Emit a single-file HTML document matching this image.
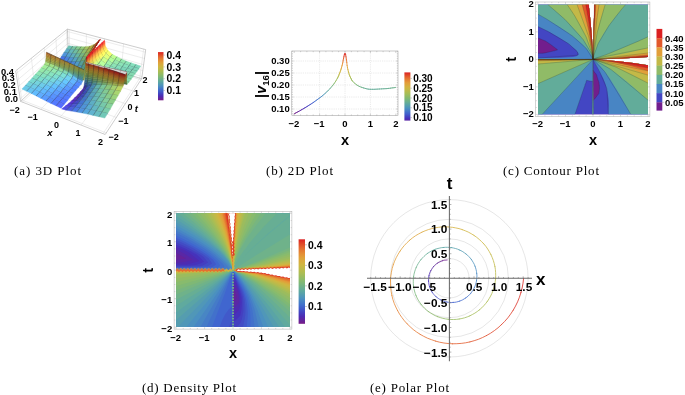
<!DOCTYPE html>
<html><head><meta charset="utf-8"><title>Plots</title>
<style>html,body{margin:0;padding:0;background:#fff}svg{display:block}text{font-family:"Liberation Sans", "DejaVu Sans", sans-serif;fill:#000}</style></head>
<body><svg width="685" height="395" viewBox="0 0 685 395">
<rect width="685" height="395" fill="#fff"/>
<path d="M70.0 57.2L69.1 29.5" stroke="#d2d2d2" stroke-width="0.4" fill="none"/>
<path d="M21.9 100.1L17.2 69.7" stroke="#d2d2d2" stroke-width="0.4" fill="none"/>
<path d="M22.3 102.1L70.0 57.2" stroke="#d2d2d2" stroke-width="0.4" fill="none"/>
<path d="M21.9 100.1L106.3 132.9" stroke="#d2d2d2" stroke-width="0.4" fill="none"/>
<path d="M86.2 62.1L86.4 34.1" stroke="#d2d2d2" stroke-width="0.4" fill="none"/>
<path d="M34.9 87.9L31.4 58.2" stroke="#d2d2d2" stroke-width="0.4" fill="none"/>
<path d="M40.8 109.3L86.2 62.1" stroke="#d2d2d2" stroke-width="0.4" fill="none"/>
<path d="M34.9 87.9L116.4 117.5" stroke="#d2d2d2" stroke-width="0.4" fill="none"/>
<path d="M103.2 67.2L104.5 38.8" stroke="#d2d2d2" stroke-width="0.4" fill="none"/>
<path d="M46.8 76.9L44.2 47.9" stroke="#d2d2d2" stroke-width="0.4" fill="none"/>
<path d="M60.3 116.9L103.2 67.2" stroke="#d2d2d2" stroke-width="0.4" fill="none"/>
<path d="M46.8 76.9L125.4 103.7" stroke="#d2d2d2" stroke-width="0.4" fill="none"/>
<path d="M121.1 72.5L123.6 43.8" stroke="#d2d2d2" stroke-width="0.4" fill="none"/>
<path d="M57.6 66.8L55.9 38.5" stroke="#d2d2d2" stroke-width="0.4" fill="none"/>
<path d="M81.0 125.1L121.1 72.5" stroke="#d2d2d2" stroke-width="0.4" fill="none"/>
<path d="M57.6 66.8L133.6 91.2" stroke="#d2d2d2" stroke-width="0.4" fill="none"/>
<path d="M139.8 78.2L143.6 49.1" stroke="#d2d2d2" stroke-width="0.4" fill="none"/>
<path d="M67.5 57.6L66.4 29.9" stroke="#d2d2d2" stroke-width="0.4" fill="none"/>
<path d="M103.0 133.7L139.8 78.2" stroke="#d2d2d2" stroke-width="0.4" fill="none"/>
<path d="M67.5 57.6L141.0 79.8" stroke="#d2d2d2" stroke-width="0.4" fill="none"/>
<path d="M68.3 54.5L142.0 76.5" stroke="#d2d2d2" stroke-width="0.4" fill="none"/>
<path d="M20.2 99.0L68.3 54.5" stroke="#d2d2d2" stroke-width="0.4" fill="none"/>
<path d="M68.1 49.0L142.8 70.6" stroke="#d2d2d2" stroke-width="0.4" fill="none"/>
<path d="M19.2 92.9L68.1 49.0" stroke="#d2d2d2" stroke-width="0.4" fill="none"/>
<path d="M67.9 43.3L143.6 64.7" stroke="#d2d2d2" stroke-width="0.4" fill="none"/>
<path d="M18.2 86.7L67.9 43.3" stroke="#d2d2d2" stroke-width="0.4" fill="none"/>
<path d="M67.7 37.5L144.5 58.5" stroke="#d2d2d2" stroke-width="0.4" fill="none"/>
<path d="M17.2 80.3L67.7 37.5" stroke="#d2d2d2" stroke-width="0.4" fill="none"/>
<path d="M67.5 31.5L145.4 52.2" stroke="#d2d2d2" stroke-width="0.4" fill="none"/>
<path d="M16.2 73.6L67.5 31.5" stroke="#d2d2d2" stroke-width="0.4" fill="none"/>
<path d="M68.4 56.7L141.7 78.7" stroke="#9a9a9a" stroke-width="0.5" fill="none"/>
<path d="M68.4 56.7L20.6 101.4" stroke="#9a9a9a" stroke-width="0.5" fill="none"/>
<path d="M68.4 56.7L67.4 29.1" stroke="#9a9a9a" stroke-width="0.5" fill="none"/>
<g stroke-linejoin="round">
<polygon points="66.2,49.2 70.3,49.6 72.7,46.2 68.6,45.8" fill="#6cc1b4" stroke="#6cc1b4" stroke-width="0.4"/>
<path d="M66.2 49.2L70.3 49.6" stroke="#161c26" stroke-opacity="0.8" stroke-width="0.45" fill="none"/>
<polygon points="70.3,49.6 74.5,49.8 76.9,46.5 72.7,46.2" fill="#76c4a1" stroke="#76c4a1" stroke-width="0.4"/>
<path d="M70.3 49.6L72.7 46.2M70.3 49.6L74.5 49.8" stroke="#161c26" stroke-opacity="0.8" stroke-width="0.45" fill="none"/>
<polygon points="63.8,52.8 67.9,53.2 70.3,49.6 66.2,49.2" fill="#5dadc8" stroke="#5dadc8" stroke-width="0.4"/>
<path d="M63.8 52.8L67.9 53.2" stroke="#161c26" stroke-opacity="0.8" stroke-width="0.45" fill="none"/>
<polygon points="61.3,56.7 65.5,57.1 67.9,53.2 63.8,52.8" fill="#5095dc" stroke="#5095dc" stroke-width="0.4"/>
<path d="M61.3 56.7L65.5 57.1" stroke="#161c26" stroke-opacity="0.8" stroke-width="0.45" fill="none"/>
<polygon points="74.5,49.8 78.7,50 81.1,46.7 76.9,46.5" fill="#84c88c" stroke="#84c88c" stroke-width="0.4"/>
<path d="M74.5 49.8L76.9 46.5M74.5 49.8L78.7 50.0" stroke="#161c26" stroke-opacity="0.8" stroke-width="0.45" fill="none"/>
<polygon points="67.9,53.2 72.1,53.5 74.5,49.8 70.3,49.6" fill="#66b8b9" stroke="#66b8b9" stroke-width="0.4"/>
<path d="M67.9 53.2L70.3 49.6M67.9 53.2L72.1 53.5" stroke="#161c26" stroke-opacity="0.8" stroke-width="0.45" fill="none"/>
<polygon points="58.8,60.7 63,61.3 65.5,57.1 61.3,56.7" fill="#4873e9" stroke="#4873e9" stroke-width="0.4"/>
<path d="M58.8 60.7L63.0 61.3" stroke="#161c26" stroke-opacity="0.8" stroke-width="0.45" fill="none"/>
<polygon points="65.5,57.1 69.6,57.5 72.1,53.5 67.9,53.2" fill="#55a3d0" stroke="#55a3d0" stroke-width="0.4"/>
<path d="M65.5 57.1L67.9 53.2M65.5 57.1L69.6 57.5" stroke="#161c26" stroke-opacity="0.8" stroke-width="0.45" fill="none"/>
<polygon points="72.1,53.5 76.3,53.7 78.7,50 74.5,49.8" fill="#6fbea2" stroke="#6fbea2" stroke-width="0.4"/>
<path d="M72.1 53.5L74.5 49.8M72.1 53.5L76.3 53.7" stroke="#161c26" stroke-opacity="0.8" stroke-width="0.45" fill="none"/>
<polygon points="78.7,50 83,50 85.4,46.8 81.1,46.7" fill="#93cb76" stroke="#93cb76" stroke-width="0.4"/>
<path d="M78.7 50.0L81.1 46.7M78.7 50.0L83.0 50.0" stroke="#161c26" stroke-opacity="0.8" stroke-width="0.45" fill="none"/>
<polygon points="56.3,64.9 60.5,65.5 63,61.3 58.8,60.7" fill="#4d45d8" stroke="#4d45d8" stroke-width="0.4"/>
<path d="M56.3 64.9L60.5 65.5" stroke="#161c26" stroke-opacity="0.8" stroke-width="0.45" fill="none"/>
<polygon points="63,61.3 67.2,61.7 69.6,57.5 65.5,57.1" fill="#4b82de" stroke="#4b82de" stroke-width="0.4"/>
<path d="M63.0 61.3L65.5 57.1M63.0 61.3L67.2 61.7" stroke="#161c26" stroke-opacity="0.8" stroke-width="0.45" fill="none"/>
<polygon points="69.6,57.5 73.9,57.7 76.3,53.7 72.1,53.5" fill="#5eadbc" stroke="#5eadbc" stroke-width="0.4"/>
<path d="M69.6 57.5L72.1 53.5M69.6 57.5L73.9 57.7" stroke="#161c26" stroke-opacity="0.8" stroke-width="0.45" fill="none"/>
<polygon points="76.3,53.7 80.7,53.6 83,50 78.7,50" fill="#7ec088" stroke="#7ec088" stroke-width="0.4"/>
<path d="M76.3 53.7L78.7 50.0M76.3 53.7L80.7 53.6" stroke="#161c26" stroke-opacity="0.8" stroke-width="0.45" fill="none"/>
<polygon points="83,50 87.4,49.8 89.8,46.2 85.4,46.7" fill="#a7c560" stroke="#a7c560" stroke-width="0.4"/>
<path d="M83.0 50.0L85.4 46.7M83.0 50.0L87.4 49.8" stroke="#161c26" stroke-opacity="0.8" stroke-width="0.45" fill="none"/>
<polygon points="53.7,68.4 57.9,69.3 60.5,65.5 56.3,64.9" fill="#672fc6" stroke="#672fc6" stroke-width="0.4"/>
<path d="M53.7 68.4L57.9 69.3" stroke="#161c26" stroke-opacity="0.8" stroke-width="0.45" fill="none"/>
<polygon points="60.5,65.5 64.7,66 67.2,61.7 63,61.3" fill="#4959db" stroke="#4959db" stroke-width="0.4"/>
<path d="M60.5 65.5L63.0 61.3M60.5 65.5L64.7 66.0" stroke="#161c26" stroke-opacity="0.8" stroke-width="0.45" fill="none"/>
<polygon points="67.2,61.7 71.4,61.9 73.9,57.7 69.6,57.5" fill="#4f94d3" stroke="#4f94d3" stroke-width="0.4"/>
<path d="M67.2 61.7L69.6 57.5M67.2 61.7L71.4 61.9" stroke="#161c26" stroke-opacity="0.8" stroke-width="0.45" fill="none"/>
<polygon points="73.9,57.7 78.2,57.6 80.7,53.6 76.3,53.7" fill="#67b5a2" stroke="#67b5a2" stroke-width="0.4"/>
<path d="M73.9 57.7L76.3 53.7M73.9 57.7L78.2 57.6" stroke="#161c26" stroke-opacity="0.8" stroke-width="0.45" fill="none"/>
<polygon points="80.7,53.6 85.1,53.3 87.4,49.8 83,50" fill="#90c16e" stroke="#90c16e" stroke-width="0.4"/>
<path d="M80.7 53.6L83.0 50.0M80.7 53.6L85.1 53.3" stroke="#161c26" stroke-opacity="0.8" stroke-width="0.45" fill="none"/>
<polygon points="87.4,49.8 91.9,48.5 94.2,44.6 89.8,46.2" fill="#b2ab43" stroke="#b2ab43" stroke-width="0.4"/>
<path d="M87.4 49.8L89.8 46.2M87.4 49.8L91.9 48.5" stroke="#161c26" stroke-opacity="0.8" stroke-width="0.45" fill="none"/>
<polygon points="57.9,69.3 62.1,70 64.7,66 60.5,65.5" fill="#5334d2" stroke="#5334d2" stroke-width="0.4"/>
<path d="M57.9 69.3L60.5 65.5M57.9 69.3L62.1 70.0" stroke="#161c26" stroke-opacity="0.8" stroke-width="0.45" fill="none"/>
<polygon points="64.7,66 68.9,66.3 71.4,61.9 67.2,61.7" fill="#456fe0" stroke="#456fe0" stroke-width="0.4"/>
<path d="M64.7 66.0L67.2 61.7M64.7 66.0L68.9 66.3" stroke="#161c26" stroke-opacity="0.8" stroke-width="0.45" fill="none"/>
<polygon points="71.4,61.9 75.8,62 78.2,57.6 73.9,57.7" fill="#56a3c1" stroke="#56a3c1" stroke-width="0.4"/>
<path d="M71.4 61.9L73.9 57.7M71.4 61.9L75.8 62.0" stroke="#161c26" stroke-opacity="0.8" stroke-width="0.45" fill="none"/>
<polygon points="50.9,70 55.1,71.2 57.9,69.3 53.7,68.4" fill="#6d2ec5" stroke="#6d2ec5" stroke-width="0.4"/>
<path d="M50.9 70.0L55.1 71.2" stroke="#161c26" stroke-opacity="0.8" stroke-width="0.45" fill="none"/>
<polygon points="78.2,57.6 82.6,57.2 85.1,53.3 80.7,53.6" fill="#77b680" stroke="#77b680" stroke-width="0.4"/>
<path d="M78.2 57.6L80.7 53.6M78.2 57.6L82.6 57.2" stroke="#161c26" stroke-opacity="0.8" stroke-width="0.45" fill="none"/>
<polygon points="85.1,53.3 89.6,52.2 91.9,48.5 87.4,49.8" fill="#a2b24d" stroke="#a2b24d" stroke-width="0.4"/>
<path d="M85.1 53.3L87.4 49.8M85.1 53.3L89.6 52.2" stroke="#161c26" stroke-opacity="0.8" stroke-width="0.45" fill="none"/>
<polygon points="62.1,70 66.4,70.6 68.9,66.3 64.7,66" fill="#4d47d9" stroke="#4d47d9" stroke-width="0.4"/>
<path d="M62.1 70.0L64.7 66.0M62.1 70.0L66.4 70.6" stroke="#161c26" stroke-opacity="0.8" stroke-width="0.45" fill="none"/>
<polygon points="68.9,66.3 73.3,66.5 75.8,62 71.4,61.9" fill="#4a84d5" stroke="#4a84d5" stroke-width="0.4"/>
<path d="M68.9 66.3L71.4 61.9M68.9 66.3L73.3 66.5" stroke="#161c26" stroke-opacity="0.8" stroke-width="0.45" fill="none"/>
<polygon points="55.1,71.2 59.4,72.3 62.1,70 57.9,69.3" fill="#6332d0" stroke="#6332d0" stroke-width="0.4"/>
<path d="M55.1 71.2L57.9 69.3M55.1 71.2L59.4 72.3" stroke="#161c26" stroke-opacity="0.8" stroke-width="0.45" fill="none"/>
<polygon points="75.8,62 80.2,61.7 82.6,57.2 78.2,57.6" fill="#5fa99e" stroke="#5fa99e" stroke-width="0.4"/>
<path d="M75.8 62.0L78.2 57.6M75.8 62.0L80.2 61.7" stroke="#161c26" stroke-opacity="0.8" stroke-width="0.45" fill="none"/>
<polygon points="91.9,48.5 96.6,44.3 98.9,40.6 94.2,44.6" fill="#aa6e29" stroke="#aa6e29" stroke-width="0.4"/>
<path d="M91.9 48.5L94.2 44.6M91.9 48.5L96.6 44.3" stroke="#161c26" stroke-opacity="0.8" stroke-width="0.45" fill="none"/>
<polygon points="82.6,57.2 87.1,56.3 89.6,52.2 85.1,53.3" fill="#8eb35f" stroke="#8eb35f" stroke-width="0.4"/>
<path d="M82.6 57.2L85.1 53.3M82.6 57.2L87.1 56.3" stroke="#161c26" stroke-opacity="0.8" stroke-width="0.45" fill="none"/>
<polygon points="66.4,70.6 70.8,70.9 73.3,66.5 68.9,66.3" fill="#475edb" stroke="#475edb" stroke-width="0.4"/>
<path d="M66.4 70.6L68.9 66.3M66.4 70.6L70.8 70.9" stroke="#161c26" stroke-opacity="0.8" stroke-width="0.45" fill="none"/>
<polygon points="59.4,72.3 63.8,73.3 66.4,70.6 62.1,70" fill="#5537de" stroke="#5537de" stroke-width="0.4"/>
<path d="M59.4 72.3L62.1 70.0M59.4 72.3L63.8 73.3" stroke="#161c26" stroke-opacity="0.8" stroke-width="0.45" fill="none"/>
<polygon points="73.3,66.5 77.7,66.5 80.2,61.7 75.8,62" fill="#4f99c5" stroke="#4f99c5" stroke-width="0.4"/>
<path d="M73.3 66.5L75.8 62.0M73.3 66.5L77.7 66.5" stroke="#161c26" stroke-opacity="0.8" stroke-width="0.45" fill="none"/>
<polygon points="105.6,53.2 110.1,57.2 112.3,54.3 107.8,50.1" fill="#f2ff72" stroke="#f2ff72" stroke-width="0.4"/>
<path d="M105.6 53.2L107.8 50.1M105.6 53.2L110.1 57.2" stroke="#161c26" stroke-opacity="0.8" stroke-width="0.45" fill="none"/>
<polygon points="47.7,68.2 52,69.6 55.1,71.2 50.9,70" fill="#252d6f" stroke="#252d6f" stroke-width="0.4"/>
<path d="M47.7 68.2L52.0 69.6" stroke="#161c26" stroke-opacity="0.8" stroke-width="0.45" fill="none"/>
<polygon points="104.4,51.7 105.6,53.2 107.8,50.1 106.8,48.7" fill="#fffe5e" stroke="#fffe5e" stroke-width="0.4"/>
<path d="M104.4 51.7L105.6 53.2" stroke="#161c26" stroke-opacity="0.8" stroke-width="0.45" fill="none"/>
<polygon points="89.6,52.2 94.2,48.5 96.6,44.3 91.9,48.5" fill="#a9822f" stroke="#a9822f" stroke-width="0.4"/>
<path d="M89.6 52.2L91.9 48.5M89.6 52.2L94.2 48.5" stroke="#161c26" stroke-opacity="0.8" stroke-width="0.45" fill="none"/>
<polygon points="103.7,50.3 104.4,51.7 106.8,48.7 106.1,47.4" fill="#ffe853" stroke="#ffe853" stroke-width="0.4"/>
<path d="M103.7 50.3L104.4 51.7" stroke="#161c26" stroke-opacity="0.8" stroke-width="0.45" fill="none"/>
<polygon points="110.1,57.2 114.8,59.8 116.9,56.7 112.3,54.3" fill="#bffe8f" stroke="#bffe8f" stroke-width="0.4"/>
<path d="M110.1 57.2L112.3 54.3M110.1 57.2L114.8 59.8" stroke="#161c26" stroke-opacity="0.8" stroke-width="0.45" fill="none"/>
<path d="M96.6 44.3L98.9 40.6" stroke="#161c26" stroke-opacity="0.8" stroke-width="0.45" fill="none"/>
<polygon points="80.2,61.7 84.7,60.6 87.1,56.3 82.6,57.2" fill="#6fa771" stroke="#6fa771" stroke-width="0.4"/>
<path d="M80.2 61.7L82.6 57.2M80.2 61.7L84.7 60.6" stroke="#161c26" stroke-opacity="0.8" stroke-width="0.45" fill="none"/>
<polygon points="103.1,48.9 103.7,50.3 106.1,47.4 105.4,46.1" fill="#ffd84e" stroke="#ffd84e" stroke-width="0.4"/>
<path d="M103.1 48.9L103.7 50.3" stroke="#161c26" stroke-opacity="0.8" stroke-width="0.45" fill="none"/>
<polygon points="97.3,43.4 96.6,44.3 98.9,40.6 99.3,40.1" fill="#9d361d" stroke="#9d361d" stroke-width="0.4"/>
<path d="M97.3 43.4L96.6 44.3" stroke="#161c26" stroke-opacity="0.8" stroke-width="0.45" fill="none"/>
<polygon points="102.6,47.6 103.1,48.9 105.4,46.1 105.1,44.9" fill="#ffbb46" stroke="#ffbb46" stroke-width="0.4"/>
<path d="M102.6 47.6L103.1 48.9" stroke="#161c26" stroke-opacity="0.8" stroke-width="0.45" fill="none"/>
<polygon points="63.8,73.3 68.2,74.2 70.8,70.9 66.4,70.6" fill="#5149e2" stroke="#5149e2" stroke-width="0.4"/>
<path d="M63.8 73.3L66.4 70.6M63.8 73.3L68.2 74.2" stroke="#161c26" stroke-opacity="0.8" stroke-width="0.45" fill="none"/>
<polygon points="70.8,70.9 75.2,71 77.7,66.5 73.3,66.5" fill="#4575d3" stroke="#4575d3" stroke-width="0.4"/>
<path d="M70.8 70.9L73.3 66.5M70.8 70.9L75.2 71.0" stroke="#161c26" stroke-opacity="0.8" stroke-width="0.45" fill="none"/>
<polygon points="114.8,59.8 119.4,62.2 121.5,59 116.9,56.7" fill="#a7f6a2" stroke="#a7f6a2" stroke-width="0.4"/>
<path d="M114.8 59.8L116.9 56.7M114.8 59.8L119.4 62.2" stroke="#161c26" stroke-opacity="0.8" stroke-width="0.45" fill="none"/>
<polygon points="97.9,42.5 97.3,43.4 99.3,40.1 99.7,39.6" fill="#97251a" stroke="#97251a" stroke-width="0.4"/>
<path d="M97.9 42.5L97.3 43.4" stroke="#161c26" stroke-opacity="0.8" stroke-width="0.45" fill="none"/>
<polygon points="52,69.6 56.4,71 59.4,72.3 55.1,71.2" fill="#242f6f" stroke="#242f6f" stroke-width="0.4"/>
<path d="M52.0 69.6L55.1 71.2M52.0 69.6L56.4 71.0" stroke="#161c26" stroke-opacity="0.8" stroke-width="0.45" fill="none"/>
<polygon points="102.5,46.3 102.6,47.6 105.1,44.9 105,43.8" fill="#ff8d39" stroke="#ff8d39" stroke-width="0.4"/>
<path d="M102.5 46.3L102.6 47.6" stroke="#161c26" stroke-opacity="0.8" stroke-width="0.45" fill="none"/>
<polygon points="99,41.7 97.9,42.5 99.7,39.6 100.7,39.3" fill="#af1b1b" stroke="#af1b1b" stroke-width="0.4"/>
<path d="M99.0 41.7L97.9 42.5" stroke="#161c26" stroke-opacity="0.8" stroke-width="0.45" fill="none"/>
<polygon points="87.1,56.3 91.8,53 94.2,48.5 89.6,52.2" fill="#a09035" stroke="#a09035" stroke-width="0.4"/>
<path d="M87.1 56.3L89.6 52.2M87.1 56.3L91.8 53.0" stroke="#161c26" stroke-opacity="0.8" stroke-width="0.45" fill="none"/>
<polygon points="77.7,66.5 82.2,65.7 84.7,60.6 80.2,61.7" fill="#589e97" stroke="#589e97" stroke-width="0.4"/>
<path d="M77.7 66.5L80.2 61.7M77.7 66.5L82.2 65.7" stroke="#161c26" stroke-opacity="0.8" stroke-width="0.45" fill="none"/>
<polygon points="102.4,45.1 102.5,46.3 105,43.8 104.8,42.6" fill="#ff7134" stroke="#ff7134" stroke-width="0.4"/>
<path d="M102.4 45.1L102.5 46.3" stroke="#161c26" stroke-opacity="0.8" stroke-width="0.45" fill="none"/>
<polygon points="103.3,56.8 107.9,60.3 110.1,57.2 105.6,53.2" fill="#deff7d" stroke="#deff7d" stroke-width="0.4"/>
<path d="M103.3 56.8L105.6 53.2M103.3 56.8L107.9 60.3" stroke="#161c26" stroke-opacity="0.8" stroke-width="0.45" fill="none"/>
<polygon points="102.4,55.3 103.3,56.8 105.6,53.2 104.5,51.9" fill="#ffff66" stroke="#ffff66" stroke-width="0.4"/>
<path d="M102.4 55.3L103.3 56.8" stroke="#161c26" stroke-opacity="0.8" stroke-width="0.45" fill="none"/>
<polygon points="119.4,62.2 124.2,63.9 126.2,61.1 121.5,59" fill="#92e6ad" stroke="#92e6ad" stroke-width="0.4"/>
<path d="M119.4 62.2L121.5 59.0M119.4 62.2L124.2 63.9" stroke="#161c26" stroke-opacity="0.8" stroke-width="0.45" fill="none"/>
<path d="M94.2 48.5L96.6 44.3" stroke="#161c26" stroke-opacity="0.8" stroke-width="0.45" fill="none"/>
<polygon points="101.4,53.8 102.4,55.3 104.5,51.9 103.9,50.6" fill="#fff95b" stroke="#fff95b" stroke-width="0.4"/>
<path d="M101.4 53.8L102.4 55.3" stroke="#161c26" stroke-opacity="0.8" stroke-width="0.45" fill="none"/>
<polygon points="94.7,47.6 94.2,48.5 96.6,44.3 97,43.7" fill="#9a5021" stroke="#9a5021" stroke-width="0.4"/>
<path d="M94.7 47.6L94.2 48.5" stroke="#161c26" stroke-opacity="0.8" stroke-width="0.45" fill="none"/>
<polygon points="102.3,43.8 102.4,45.1 104.8,42.6 104.7,41.5" fill="#f84c2c" stroke="#f84c2c" stroke-width="0.4"/>
<path d="M102.3 43.8L102.4 45.1" stroke="#161c26" stroke-opacity="0.8" stroke-width="0.45" fill="none"/>
<polygon points="107.9,60.3 112.6,63.2 114.8,59.8 110.1,57.2" fill="#b2fe9b" stroke="#b2fe9b" stroke-width="0.4"/>
<path d="M107.9 60.3L110.1 57.2M107.9 60.3L112.6 63.2" stroke="#161c26" stroke-opacity="0.8" stroke-width="0.45" fill="none"/>
<polygon points="100.9,52.5 101.4,53.8 103.9,50.6 103.3,49.4" fill="#ffdf50" stroke="#ffdf50" stroke-width="0.4"/>
<path d="M100.9 52.5L101.4 53.8" stroke="#161c26" stroke-opacity="0.8" stroke-width="0.45" fill="none"/>
<polygon points="56.4,71 60.8,72.5 63.8,73.3 59.4,72.3" fill="#243170" stroke="#243170" stroke-width="0.4"/>
<path d="M56.4 71.0L59.4 72.3M56.4 71.0L60.8 72.5" stroke="#161c26" stroke-opacity="0.8" stroke-width="0.45" fill="none"/>
<polygon points="95.3,46.8 94.7,47.6 97,43.7 97.4,43.2" fill="#99441f" stroke="#99441f" stroke-width="0.4"/>
<path d="M95.3 46.8L94.7 47.6" stroke="#161c26" stroke-opacity="0.8" stroke-width="0.45" fill="none"/>
<polygon points="102.1,42.5 102.3,43.8 104.7,41.5 104.5,40.3" fill="#fd2927" stroke="#fd2927" stroke-width="0.4"/>
<path d="M102.1 42.5L102.3 43.8" stroke="#161c26" stroke-opacity="0.8" stroke-width="0.45" fill="none"/>
<polygon points="68.2,74.2 72.6,74.9 75.2,71 70.8,70.9" fill="#4b60e6" stroke="#4b60e6" stroke-width="0.4"/>
<path d="M68.2 74.2L70.8 70.9M68.2 74.2L72.6 74.9" stroke="#161c26" stroke-opacity="0.8" stroke-width="0.45" fill="none"/>
<polygon points="100.4,51.2 100.9,52.5 103.3,49.4 102.7,48.1" fill="#ffd04b" stroke="#ffd04b" stroke-width="0.4"/>
<path d="M100.4 51.2L100.9 52.5" stroke="#161c26" stroke-opacity="0.8" stroke-width="0.45" fill="none"/>
<polygon points="75.2,71 79.7,70.9 82.2,65.7 77.7,66.5" fill="#4c91c6" stroke="#4c91c6" stroke-width="0.4"/>
<path d="M75.2 71.0L77.7 66.5M75.2 71.0L79.7 70.9" stroke="#161c26" stroke-opacity="0.8" stroke-width="0.45" fill="none"/>
<polygon points="124.2,63.9 129.1,65.7 131,62.8 126.2,61.1" fill="#8be3b6" stroke="#8be3b6" stroke-width="0.4"/>
<path d="M124.2 63.9L126.2 61.1M124.2 63.9L129.1 65.7" stroke="#161c26" stroke-opacity="0.8" stroke-width="0.45" fill="none"/>
<polygon points="112.6,63.2 117.3,65.1 119.4,62.2 114.8,59.8" fill="#96e9ab" stroke="#96e9ab" stroke-width="0.4"/>
<path d="M112.6 63.2L114.8 59.8M112.6 63.2L117.3 65.1" stroke="#161c26" stroke-opacity="0.8" stroke-width="0.45" fill="none"/>
<polygon points="95.8,45.9 95.3,46.8 97.4,43.2 97.7,42.7" fill="#97341c" stroke="#97341c" stroke-width="0.4"/>
<path d="M95.8 45.9L95.3 46.8" stroke="#161c26" stroke-opacity="0.8" stroke-width="0.45" fill="none"/>
<polygon points="84.7,60.6 89.3,57.9 91.8,53 87.1,56.3" fill="#8e9a42" stroke="#8e9a42" stroke-width="0.4"/>
<path d="M84.7 60.6L87.1 56.3M84.7 60.6L89.3 57.9" stroke="#161c26" stroke-opacity="0.8" stroke-width="0.45" fill="none"/>
<polygon points="100,49.9 100.4,51.2 102.7,48.1 102.6,47" fill="#ffb243" stroke="#ffb243" stroke-width="0.4"/>
<path d="M100.0 49.9L100.4 51.2" stroke="#161c26" stroke-opacity="0.8" stroke-width="0.45" fill="none"/>
<path d="M91.8 53.0L94.2 48.5" stroke="#161c26" stroke-opacity="0.8" stroke-width="0.45" fill="none"/>
<polygon points="100,48.6 100,49.9 102.6,47 102.5,45.9" fill="#fc8938" stroke="#fc8938" stroke-width="0.4"/>
<path d="M100.0 48.6L100.0 49.9" stroke="#161c26" stroke-opacity="0.8" stroke-width="0.45" fill="none"/>
<polygon points="96.3,45 95.8,45.9 97.7,42.7 98.1,42.1" fill="#b82d1f" stroke="#b82d1f" stroke-width="0.4"/>
<path d="M96.3 45.0L95.8 45.9" stroke="#161c26" stroke-opacity="0.8" stroke-width="0.45" fill="none"/>
<polygon points="92.5,52 91.8,53 94.2,48.5 94.7,47.8" fill="#9c6b27" stroke="#9c6b27" stroke-width="0.4"/>
<path d="M92.5 52.0L91.8 53.0" stroke="#161c26" stroke-opacity="0.8" stroke-width="0.45" fill="none"/>
<polygon points="99.9,58.8 101,60.3 103.3,56.8 102.5,55.5" fill="#edff71" stroke="#edff71" stroke-width="0.4"/>
<path d="M99.9 58.8L101.0 60.3" stroke="#161c26" stroke-opacity="0.8" stroke-width="0.45" fill="none"/>
<polygon points="101,60.3 105.7,63.8 107.9,60.3 103.3,56.8" fill="#c9ff8c" stroke="#c9ff8c" stroke-width="0.4"/>
<path d="M101.0 60.3L103.3 56.8M101.0 60.3L105.7 63.8" stroke="#161c26" stroke-opacity="0.8" stroke-width="0.45" fill="none"/>
<polygon points="60.8,72.5 65.3,74 68.2,74.2 63.8,73.3" fill="#243471" stroke="#243471" stroke-width="0.4"/>
<path d="M60.8 72.5L63.8 73.3M60.8 72.5L65.3 74.0" stroke="#161c26" stroke-opacity="0.8" stroke-width="0.45" fill="none"/>
<polygon points="99.1,57.4 99.9,58.8 102.5,55.5 101.6,54.1" fill="#faf863" stroke="#faf863" stroke-width="0.4"/>
<path d="M99.1 57.4L99.9 58.8" stroke="#161c26" stroke-opacity="0.8" stroke-width="0.45" fill="none"/>
<polygon points="99.9,47.4 100,48.6 102.5,45.9 102.4,44.8" fill="#fb6e32" stroke="#fb6e32" stroke-width="0.4"/>
<path d="M99.9 47.4L100.0 48.6" stroke="#161c26" stroke-opacity="0.8" stroke-width="0.45" fill="none"/>
<polygon points="117.3,65.1 122.2,66.9 124.2,63.9 119.4,62.2" fill="#8be4b7" stroke="#8be4b7" stroke-width="0.4"/>
<path d="M117.3 65.1L119.4 62.2M117.3 65.1L122.2 66.9" stroke="#161c26" stroke-opacity="0.8" stroke-width="0.45" fill="none"/>
<polygon points="97.1,44.2 96.3,45 98.1,42.1 99,41.7" fill="#a31919" stroke="#a31919" stroke-width="0.4"/>
<path d="M97.1 44.2L96.3 45.0" stroke="#161c26" stroke-opacity="0.8" stroke-width="0.45" fill="none"/>
<polygon points="129.1,65.7 134,67.4 135.9,64.4 131,62.8" fill="#85e0bd" stroke="#85e0bd" stroke-width="0.4"/>
<path d="M129.1 65.7L131.0 62.8M129.1 65.7L134.0 67.4" stroke="#161c26" stroke-opacity="0.8" stroke-width="0.45" fill="none"/>
<polygon points="93.1,51 92.5,52 94.7,47.8 95.1,47.1" fill="#985b23" stroke="#985b23" stroke-width="0.4"/>
<path d="M93.1 51.0L92.5 52.0" stroke="#161c26" stroke-opacity="0.8" stroke-width="0.45" fill="none"/>
<polygon points="98.4,56 99.1,57.4 101.6,54.1 101,52.9" fill="#fff258" stroke="#fff258" stroke-width="0.4"/>
<path d="M98.4 56.0L99.1 57.4" stroke="#161c26" stroke-opacity="0.8" stroke-width="0.45" fill="none"/>
<polygon points="105.7,63.8 110.4,66.2 112.6,63.2 107.9,60.3" fill="#a0f2a8" stroke="#a0f2a8" stroke-width="0.4"/>
<path d="M105.7 63.8L107.9 60.3M105.7 63.8L110.4 66.2" stroke="#161c26" stroke-opacity="0.8" stroke-width="0.45" fill="none"/>
<polygon points="82.2,65.7 86.9,63.1 89.3,57.9 84.7,60.6" fill="#6e9657" stroke="#6e9657" stroke-width="0.4"/>
<path d="M82.2 65.7L84.7 60.6M82.2 65.7L86.9 63.1" stroke="#161c26" stroke-opacity="0.8" stroke-width="0.45" fill="none"/>
<polygon points="99.8,46.1 99.9,47.4 102.4,44.8 102.3,43.7" fill="#f44a2c" stroke="#f44a2c" stroke-width="0.4"/>
<path d="M99.8 46.1L99.9 47.4" stroke="#161c26" stroke-opacity="0.8" stroke-width="0.45" fill="none"/>
<polygon points="72.6,74.9 77.2,75.2 79.7,70.9 75.2,71" fill="#4776dd" stroke="#4776dd" stroke-width="0.4"/>
<path d="M72.6 74.9L75.2 71.0M72.6 74.9L77.2 75.2" stroke="#161c26" stroke-opacity="0.8" stroke-width="0.45" fill="none"/>
<polygon points="98.1,54.7 98.4,56 101,52.9 100.6,51.7" fill="#ffd74d" stroke="#ffd74d" stroke-width="0.4"/>
<path d="M98.1 54.7L98.4 56.0" stroke="#161c26" stroke-opacity="0.8" stroke-width="0.45" fill="none"/>
<path d="M89.3 57.9L91.8 53.0" stroke="#161c26" stroke-opacity="0.8" stroke-width="0.45" fill="none"/>
<polygon points="93.6,49.9 93.1,51 95.1,47.1 95.5,46.3" fill="#c16229" stroke="#c16229" stroke-width="0.4"/>
<path d="M93.6 49.9L93.1 51.0" stroke="#161c26" stroke-opacity="0.8" stroke-width="0.45" fill="none"/>
<polygon points="99.7,44.8 99.8,46.1 102.3,43.7 102.1,42.5" fill="#f82827" stroke="#f82827" stroke-width="0.4"/>
<path d="M99.7 44.8L99.8 46.1" stroke="#161c26" stroke-opacity="0.8" stroke-width="0.45" fill="none"/>
<polygon points="97.7,53.4 98.1,54.7 100.6,51.7 100.1,50.5" fill="#ffc949" stroke="#ffc949" stroke-width="0.4"/>
<path d="M97.7 53.4L98.1 54.7" stroke="#161c26" stroke-opacity="0.8" stroke-width="0.45" fill="none"/>
<polygon points="90.2,56.9 89.3,57.9 91.8,53 92.3,52.3" fill="#98812e" stroke="#98812e" stroke-width="0.4"/>
<path d="M90.2 56.9L89.3 57.9" stroke="#161c26" stroke-opacity="0.8" stroke-width="0.45" fill="none"/>
<polygon points="110.4,66.2 115.2,68.1 117.3,65.1 112.6,63.2" fill="#8de5b6" stroke="#8de5b6" stroke-width="0.4"/>
<path d="M110.4 66.2L112.6 63.2M110.4 66.2L115.2 68.1" stroke="#161c26" stroke-opacity="0.8" stroke-width="0.45" fill="none"/>
<polygon points="122.2,66.9 127,68.6 129.1,65.7 124.2,63.9" fill="#84e0bd" stroke="#84e0bd" stroke-width="0.4"/>
<path d="M122.2 66.9L124.2 63.9M122.2 66.9L127.0 68.6" stroke="#161c26" stroke-opacity="0.8" stroke-width="0.45" fill="none"/>
<polygon points="134,67.4 139,68.7 140.8,66.1 135.9,64.4" fill="#7dd7bb" stroke="#7dd7bb" stroke-width="0.4"/>
<path d="M134.0 67.4L135.9 64.4M134.0 67.4L139.0 68.7" stroke="#161c26" stroke-opacity="0.8" stroke-width="0.45" fill="none"/>
<polygon points="97.4,52.2 97.7,53.4 100.1,50.5 100,49.4" fill="#ffab40" stroke="#ffab40" stroke-width="0.4"/>
<path d="M97.4 52.2L97.7 53.4" stroke="#161c26" stroke-opacity="0.8" stroke-width="0.45" fill="none"/>
<polygon points="65.3,74 69.9,75.5 72.6,74.9 68.2,74.2" fill="#4670e4" stroke="#4670e4" stroke-width="0.4"/>
<path d="M65.3 74.0L68.2 74.2M65.3 74.0L69.9 75.5" stroke="#161c26" stroke-opacity="0.8" stroke-width="0.45" fill="none"/>
<polygon points="94,48.8 93.6,49.9 95.5,46.3 96,45.6" fill="#c04e26" stroke="#c04e26" stroke-width="0.4"/>
<path d="M94.0 48.8L93.6 49.9" stroke="#161c26" stroke-opacity="0.8" stroke-width="0.45" fill="none"/>
<polygon points="79.7,70.9 84.3,69.3 86.9,63.1 82.2,65.7" fill="#549485" stroke="#549485" stroke-width="0.4"/>
<path d="M79.7 70.9L82.2 65.7M79.7 70.9L84.3 69.3" stroke="#161c26" stroke-opacity="0.8" stroke-width="0.45" fill="none"/>
<polygon points="97,62.1 98.7,63.8 101,60.3 99.9,59" fill="#d9ff82" stroke="#d9ff82" stroke-width="0.4"/>
<path d="M97.0 62.1L98.7 63.8" stroke="#161c26" stroke-opacity="0.8" stroke-width="0.45" fill="none"/>
<polygon points="90.7,55.9 90.2,56.9 92.3,52.3 92.8,51.5" fill="#8f6e27" stroke="#8f6e27" stroke-width="0.4"/>
<path d="M90.7 55.9L90.2 56.9" stroke="#161c26" stroke-opacity="0.8" stroke-width="0.45" fill="none"/>
<polygon points="98.7,63.3 103.4,67.1 105.7,63.8 101,60.3" fill="#baff9b" stroke="#baff9b" stroke-width="0.4"/>
<path d="M98.7 63.3L101.0 60.3M98.7 63.3L103.4 67.1" stroke="#161c26" stroke-opacity="0.8" stroke-width="0.45" fill="none"/>
<polygon points="96.4,60.8 97,62.1 99.9,59 99.3,57.7" fill="#dff368" stroke="#dff368" stroke-width="0.4"/>
<path d="M96.4 60.8L97.0 62.1" stroke="#161c26" stroke-opacity="0.8" stroke-width="0.45" fill="none"/>
<polygon points="97.4,50.9 97.4,52.2 100,49.4 99.9,48.2" fill="#f98737" stroke="#f98737" stroke-width="0.4"/>
<path d="M97.4 50.9L97.4 52.2" stroke="#161c26" stroke-opacity="0.8" stroke-width="0.45" fill="none"/>
<polygon points="94.5,47.7 94,48.8 96,45.6 96.3,44.8" fill="#c23622" stroke="#c23622" stroke-width="0.4"/>
<path d="M94.5 47.7L94.0 48.8" stroke="#161c26" stroke-opacity="0.8" stroke-width="0.45" fill="none"/>
<path d="M86.9 63.1L89.3 57.9" stroke="#161c26" stroke-opacity="0.8" stroke-width="0.45" fill="none"/>
<polygon points="95.9,59.5 96.4,60.8 99.3,57.7 98.6,56.4" fill="#f3ee5e" stroke="#f3ee5e" stroke-width="0.4"/>
<path d="M95.9 59.5L96.4 60.8" stroke="#161c26" stroke-opacity="0.8" stroke-width="0.45" fill="none"/>
<polygon points="91.2,54.8 90.7,55.9 92.8,51.5 93.2,50.7" fill="#c08631" stroke="#c08631" stroke-width="0.4"/>
<path d="M91.2 54.8L90.7 55.9" stroke="#161c26" stroke-opacity="0.8" stroke-width="0.45" fill="none"/>
<polygon points="115.2,68.1 120.1,69.8 122.2,66.9 117.3,65.1" fill="#84dfbc" stroke="#84dfbc" stroke-width="0.4"/>
<path d="M115.2 68.1L117.3 65.1M115.2 68.1L120.1 69.8" stroke="#161c26" stroke-opacity="0.8" stroke-width="0.45" fill="none"/>
<polygon points="87.8,62.2 86.9,63.1 89.3,57.9 90.1,57.1" fill="#808839" stroke="#808839" stroke-width="0.4"/>
<path d="M87.8 62.2L86.9 63.1" stroke="#161c26" stroke-opacity="0.8" stroke-width="0.45" fill="none"/>
<polygon points="97.3,49.7 97.4,50.9 99.9,48.2 99.8,47.1" fill="#f86c32" stroke="#f86c32" stroke-width="0.4"/>
<path d="M97.3 49.7L97.4 50.9" stroke="#161c26" stroke-opacity="0.8" stroke-width="0.45" fill="none"/>
<polygon points="127,68.6 132,69.9 134,67.4 129.1,65.7" fill="#7cd5b9" stroke="#7cd5b9" stroke-width="0.4"/>
<path d="M127.0 68.6L129.1 65.7M127.0 68.6L132.0 69.9" stroke="#161c26" stroke-opacity="0.8" stroke-width="0.45" fill="none"/>
<polygon points="103.4,67.1 108.2,69.1 110.4,66.2 105.7,63.8" fill="#93e9b1" stroke="#93e9b1" stroke-width="0.4"/>
<path d="M103.4 67.1L105.7 63.8M103.4 67.1L108.2 69.1" stroke="#161c26" stroke-opacity="0.8" stroke-width="0.45" fill="none"/>
<polygon points="95.5,58.2 95.9,59.5 98.6,56.4 98.2,55.2" fill="#ffe553" stroke="#ffe553" stroke-width="0.4"/>
<path d="M95.5 58.2L95.9 59.5" stroke="#161c26" stroke-opacity="0.8" stroke-width="0.45" fill="none"/>
<polygon points="95.2,46.7 94.5,47.7 96.3,44.8 97.1,44.2" fill="#971717" stroke="#971717" stroke-width="0.4"/>
<path d="M95.2 46.7L94.5 47.7" stroke="#161c26" stroke-opacity="0.8" stroke-width="0.45" fill="none"/>
<polygon points="77.2,75.2 81.8,75.2 84.3,69.3 79.7,70.9" fill="#4d94c9" stroke="#4d94c9" stroke-width="0.4"/>
<path d="M77.2 75.2L79.7 70.9M77.2 75.2L81.8 75.2" stroke="#161c26" stroke-opacity="0.8" stroke-width="0.45" fill="none"/>
<polygon points="45.4,62.3 49.9,64.1 50.2,62.6 45.7,60.7" fill="#91ae56" stroke="#91ae56" stroke-width="0.4"/>
<polygon points="97.3,48.5 97.3,49.7 99.8,47.1 99.8,46" fill="#f1492b" stroke="#f1492b" stroke-width="0.4"/>
<path d="M97.3 48.5L97.3 49.7" stroke="#161c26" stroke-opacity="0.8" stroke-width="0.45" fill="none"/>
<polygon points="91.6,53.7 91.2,54.8 93.2,50.7 93.6,49.9" fill="#c6782e" stroke="#c6782e" stroke-width="0.4"/>
<path d="M91.6 53.7L91.2 54.8" stroke="#161c26" stroke-opacity="0.8" stroke-width="0.45" fill="none"/>
<polygon points="95.2,57 95.5,58.2 98.2,55.2 97.8,54" fill="#ffce4a" stroke="#ffce4a" stroke-width="0.4"/>
<path d="M95.2 57.0L95.5 58.2" stroke="#161c26" stroke-opacity="0.8" stroke-width="0.45" fill="none"/>
<polygon points="44.2,64.7 48.7,66.4 49.9,64.1 45.4,62.3" fill="#a6e081" stroke="#a6e081" stroke-width="0.4"/>
<path d="M44.2 64.7L48.7 66.4" stroke="#161c26" stroke-opacity="0.8" stroke-width="0.45" fill="none"/>
<polygon points="69.9,75.5 74.5,77 77.2,75.2 72.6,74.9" fill="#4c80ec" stroke="#4c80ec" stroke-width="0.4"/>
<path d="M69.9 75.5L72.6 74.9M69.9 75.5L74.5 77.0" stroke="#161c26" stroke-opacity="0.8" stroke-width="0.45" fill="none"/>
<polygon points="45.7,60.7 50.2,62.6 50.4,61.2 45.9,59.3" fill="#95a044" stroke="#95a044" stroke-width="0.4"/>
<polygon points="88.4,61.1 87.8,62.2 90.1,57.1 90.5,56.3" fill="#837d31" stroke="#837d31" stroke-width="0.4"/>
<path d="M88.4 61.1L87.8 62.2" stroke="#161c26" stroke-opacity="0.8" stroke-width="0.45" fill="none"/>
<path d="M84.3 69.3L86.9 63.1" stroke="#161c26" stroke-opacity="0.8" stroke-width="0.45" fill="none"/>
<polygon points="97.1,47.2 97.3,48.5 99.8,46 99.7,44.8" fill="#f32726" stroke="#f32726" stroke-width="0.4"/>
<path d="M97.1 47.2L97.3 48.5" stroke="#161c26" stroke-opacity="0.8" stroke-width="0.45" fill="none"/>
<polygon points="94.9,55.7 95.2,57 97.8,54 97.5,52.8" fill="#ffc046" stroke="#ffc046" stroke-width="0.4"/>
<path d="M94.9 55.7L95.2 57.0" stroke="#161c26" stroke-opacity="0.8" stroke-width="0.45" fill="none"/>
<polygon points="45.9,59.3 50.4,61.2 50.6,59.8 46.1,57.8" fill="#9b953a" stroke="#9b953a" stroke-width="0.4"/>
<polygon points="85.2,68.3 84.3,69.3 86.9,63.1 87.7,62.3" fill="#5c8452" stroke="#5c8452" stroke-width="0.4"/>
<path d="M85.2 68.3L84.3 69.3" stroke="#161c26" stroke-opacity="0.8" stroke-width="0.45" fill="none"/>
<polygon points="92,52.6 91.6,53.7 93.6,49.9 93.9,49.1" fill="#cc692c" stroke="#cc692c" stroke-width="0.4"/>
<path d="M92.0 52.6L91.6 53.7" stroke="#161c26" stroke-opacity="0.8" stroke-width="0.45" fill="none"/>
<polygon points="108.2,69.1 113,71.1 115.2,68.1 110.4,66.2" fill="#87e3be" stroke="#87e3be" stroke-width="0.4"/>
<path d="M108.2 69.1L110.4 66.2M108.2 69.1L113.0 71.1" stroke="#161c26" stroke-opacity="0.8" stroke-width="0.45" fill="none"/>
<polygon points="95,66.4 96.3,67.9 98.7,63.8 97.1,62.3" fill="#beff95" stroke="#beff95" stroke-width="0.4"/>
<path d="M95.0 66.4L96.3 67.9" stroke="#161c26" stroke-opacity="0.8" stroke-width="0.45" fill="none"/>
<polygon points="120.1,69.8 125,71.1 127,68.6 122.2,66.9" fill="#7cd5b9" stroke="#7cd5b9" stroke-width="0.4"/>
<path d="M120.1 69.8L122.2 66.9M120.1 69.8L125.0 71.1" stroke="#161c26" stroke-opacity="0.8" stroke-width="0.45" fill="none"/>
<polygon points="89,60.1 88.4,61.1 90.5,56.3 90.9,55.5" fill="#8c7b2b" stroke="#8c7b2b" stroke-width="0.4"/>
<path d="M89.0 60.1L88.4 61.1" stroke="#161c26" stroke-opacity="0.8" stroke-width="0.45" fill="none"/>
<polygon points="93.8,64.8 95,66.4 97.1,62.3 96.5,61" fill="#d5ff82" stroke="#d5ff82" stroke-width="0.4"/>
<path d="M93.8 64.8L95.0 66.4" stroke="#161c26" stroke-opacity="0.8" stroke-width="0.45" fill="none"/>
<polygon points="46.1,57.8 50.6,59.8 50.7,58.4 46.2,56.4" fill="#a38d32" stroke="#a38d32" stroke-width="0.4"/>
<polygon points="132,69.9 137.1,71.2 139,68.7 134,67.4" fill="#7cd5b8" stroke="#7cd5b8" stroke-width="0.4"/>
<path d="M132.0 69.9L134.0 67.4M132.0 69.9L137.1 71.2" stroke="#161c26" stroke-opacity="0.8" stroke-width="0.45" fill="none"/>
<polygon points="94.8,54.5 94.9,55.7 97.5,52.8 97.4,51.7" fill="#ffa33d" stroke="#ffa33d" stroke-width="0.4"/>
<path d="M94.8 54.5L94.9 55.7" stroke="#161c26" stroke-opacity="0.8" stroke-width="0.45" fill="none"/>
<polygon points="49.9,63.9 54.5,65.8 54.8,64.1 50.3,62.2" fill="#8dac57" stroke="#8dac57" stroke-width="0.4"/>
<path d="M49.9 63.9L50.3 62.2" stroke="#161c26" stroke-opacity="0.8" stroke-width="0.45" fill="none"/>
<path d="M81.8 75.2L84.3 69.3" stroke="#161c26" stroke-opacity="0.8" stroke-width="0.45" fill="none"/>
<polygon points="93.2,63.5 93.8,64.8 96.5,61 96,59.8" fill="#def369" stroke="#def369" stroke-width="0.4"/>
<path d="M93.2 63.5L93.8 64.8" stroke="#161c26" stroke-opacity="0.8" stroke-width="0.45" fill="none"/>
<polygon points="92.3,51.5 92,52.6 93.9,49.1 94.3,48.3" fill="#cb5428" stroke="#cb5428" stroke-width="0.4"/>
<path d="M92.3 51.5L92.0 52.6" stroke="#161c26" stroke-opacity="0.8" stroke-width="0.45" fill="none"/>
<polygon points="96.3,66.5 101,70.1 103.4,67.1 98.7,63.3" fill="#afffa4" stroke="#afffa4" stroke-width="0.4"/>
<path d="M96.3 66.5L98.7 63.3M96.3 66.5L101.0 70.1" stroke="#161c26" stroke-opacity="0.8" stroke-width="0.45" fill="none"/>
<polygon points="48.7,66.4 53.2,68.3 54.5,65.8 49.9,63.9" fill="#a0e085" stroke="#a0e085" stroke-width="0.4"/>
<path d="M48.7 66.4L49.9 63.9M48.7 66.4L53.2 68.3" stroke="#161c26" stroke-opacity="0.8" stroke-width="0.45" fill="none"/>
<polygon points="46.2,56.4 50.7,58.4 50.8,57.1 46.2,55.1" fill="#a6802e" stroke="#a6802e" stroke-width="0.4"/>
<polygon points="86,67.2 85.2,68.3 87.7,62.3 88.2,61.5" fill="#658145" stroke="#658145" stroke-width="0.4"/>
<path d="M86.0 67.2L85.2 68.3" stroke="#161c26" stroke-opacity="0.8" stroke-width="0.45" fill="none"/>
<polygon points="50.3,62.2 54.8,64.1 55,62.5 50.5,60.6" fill="#939f44" stroke="#939f44" stroke-width="0.4"/>
<path d="M50.3 62.2L50.5 60.6" stroke="#161c26" stroke-opacity="0.8" stroke-width="0.45" fill="none"/>
<polygon points="94.7,53.3 94.8,54.5 97.4,51.7 97.3,50.6" fill="#f58436" stroke="#f58436" stroke-width="0.4"/>
<path d="M94.7 53.3L94.8 54.5" stroke="#161c26" stroke-opacity="0.8" stroke-width="0.45" fill="none"/>
<polygon points="41.2,68 45.7,69.8 48.7,66.4 44.2,64.7" fill="#a1ed9b" stroke="#a1ed9b" stroke-width="0.4"/>
<path d="M41.2 68.0L45.7 69.8" stroke="#161c26" stroke-opacity="0.8" stroke-width="0.45" fill="none"/>
<polygon points="89.4,59 89,60.1 90.9,55.5 91.3,54.6" fill="#c19937" stroke="#c19937" stroke-width="0.4"/>
<path d="M89.4 59.0L89.0 60.1" stroke="#161c26" stroke-opacity="0.8" stroke-width="0.45" fill="none"/>
<polygon points="92.9,62.2 93.2,63.5 96,59.8 95.6,58.6" fill="#e5e25a" stroke="#e5e25a" stroke-width="0.4"/>
<path d="M92.9 62.2L93.2 63.5" stroke="#161c26" stroke-opacity="0.8" stroke-width="0.45" fill="none"/>
<polygon points="84.3,74.4 81.8,75.2 84.3,69.3 85.2,68.3" fill="#4b898c" stroke="#4b898c" stroke-width="0.4"/>
<path d="M84.3 74.4L81.8 75.2" stroke="#161c26" stroke-opacity="0.8" stroke-width="0.45" fill="none"/>
<polygon points="46.2,55.1 50.8,57.1 50.8,55.7 46.3,53.7" fill="#aa752b" stroke="#aa752b" stroke-width="0.4"/>
<polygon points="92.7,50.3 92.3,51.5 94.3,48.3 94.6,47.4" fill="#cb3a24" stroke="#cb3a24" stroke-width="0.4"/>
<path d="M92.7 50.3L92.3 51.5" stroke="#161c26" stroke-opacity="0.8" stroke-width="0.45" fill="none"/>
<polygon points="50.5,60.6 55,62.5 55.2,61 50.6,59" fill="#9b9439" stroke="#9b9439" stroke-width="0.4"/>
<path d="M50.5 60.6L50.6 59.0" stroke="#161c26" stroke-opacity="0.8" stroke-width="0.45" fill="none"/>
<polygon points="74.5,77 79.2,78.5 81.8,75.2 77.2,75.2" fill="#5496f5" stroke="#5496f5" stroke-width="0.4"/>
<path d="M74.5 77.0L77.2 75.2M74.5 77.0L79.2 78.5" stroke="#161c26" stroke-opacity="0.8" stroke-width="0.45" fill="none"/>
<polygon points="113,71.1 118,72.4 120.1,69.8 115.2,68.1" fill="#7cd6ba" stroke="#7cd6ba" stroke-width="0.4"/>
<path d="M113.0 71.1L115.2 68.1M113.0 71.1L118.0 72.4" stroke="#161c26" stroke-opacity="0.8" stroke-width="0.45" fill="none"/>
<polygon points="101,70.1 105.9,72.1 108.2,69.1 103.4,67.1" fill="#8de7ba" stroke="#8de7ba" stroke-width="0.4"/>
<path d="M101.0 70.1L103.4 67.1M101.0 70.1L105.9 72.1" stroke="#161c26" stroke-opacity="0.8" stroke-width="0.45" fill="none"/>
<polygon points="94.7,52.1 94.7,53.3 97.3,50.6 97.3,49.5" fill="#f46931" stroke="#f46931" stroke-width="0.4"/>
<path d="M94.7 52.1L94.7 53.3" stroke="#161c26" stroke-opacity="0.8" stroke-width="0.45" fill="none"/>
<polygon points="92.6,60.9 92.9,62.2 95.6,58.6 95.3,57.5" fill="#f7dc50" stroke="#f7dc50" stroke-width="0.4"/>
<path d="M92.6 60.9L92.9 62.2" stroke="#161c26" stroke-opacity="0.8" stroke-width="0.45" fill="none"/>
<polygon points="86.7,66.1 86,67.2 88.2,61.5 88.7,60.6" fill="#71813b" stroke="#71813b" stroke-width="0.4"/>
<path d="M86.7 66.1L86.0 67.2" stroke="#161c26" stroke-opacity="0.8" stroke-width="0.45" fill="none"/>
<polygon points="89.7,57.8 89.4,59 91.3,54.6 91.6,53.7" fill="#cc9135" stroke="#cc9135" stroke-width="0.4"/>
<path d="M89.7 57.8L89.4 59.0" stroke="#161c26" stroke-opacity="0.8" stroke-width="0.45" fill="none"/>
<polygon points="125,71.1 130.1,72.4 132,69.9 127,68.6" fill="#7dd5b7" stroke="#7dd5b7" stroke-width="0.4"/>
<path d="M125.0 71.1L127.0 68.6M125.0 71.1L130.1 72.4" stroke="#161c26" stroke-opacity="0.8" stroke-width="0.45" fill="none"/>
<polygon points="46.3,53.7 50.8,55.7 50.9,54.4 46.4,52.3" fill="#a76226" stroke="#a76226" stroke-width="0.4"/>
<path d="M46.4 52.3L50.9 54.4" stroke="#161c26" stroke-opacity="0.8" stroke-width="0.45" fill="none"/>
<polygon points="54.5,65.8 59,67.8 59.4,66.2 54.8,64.1" fill="#87ae5f" stroke="#87ae5f" stroke-width="0.4"/>
<path d="M54.5 65.8L54.8 64.1" stroke="#161c26" stroke-opacity="0.8" stroke-width="0.45" fill="none"/>
<polygon points="50.6,59 55.2,61 55.3,59.5 50.7,57.5" fill="#a38b31" stroke="#a38b31" stroke-width="0.4"/>
<path d="M50.6 59.0L50.7 57.5" stroke="#161c26" stroke-opacity="0.8" stroke-width="0.45" fill="none"/>
<polygon points="53.2,68.3 57.7,70.4 59,67.8 54.5,65.8" fill="#99e091" stroke="#99e091" stroke-width="0.4"/>
<path d="M53.2 68.3L54.5 65.8M53.2 68.3L57.7 70.4" stroke="#161c26" stroke-opacity="0.8" stroke-width="0.45" fill="none"/>
<polygon points="93.2,49.3 92.7,50.3 94.6,47.4 95.2,46.7" fill="#b81d1c" stroke="#b81d1c" stroke-width="0.4"/>
<path d="M93.2 49.3L92.7 50.3" stroke="#161c26" stroke-opacity="0.8" stroke-width="0.45" fill="none"/>
<polygon points="92.4,59.6 92.6,60.9 95.3,57.5 95.1,56.3" fill="#f6c647" stroke="#f6c647" stroke-width="0.4"/>
<path d="M92.4 59.6L92.6 60.9" stroke="#161c26" stroke-opacity="0.8" stroke-width="0.45" fill="none"/>
<polygon points="94.7,50.9 94.7,52.1 97.3,49.5 97.3,48.4" fill="#ee472a" stroke="#ee472a" stroke-width="0.4"/>
<path d="M94.7 50.9L94.7 52.1" stroke="#161c26" stroke-opacity="0.8" stroke-width="0.45" fill="none"/>
<polygon points="54.8,64.1 59.4,66.2 59.6,64.6 55,62.5" fill="#8da14a" stroke="#8da14a" stroke-width="0.4"/>
<path d="M54.8 64.1L55.0 62.5" stroke="#161c26" stroke-opacity="0.8" stroke-width="0.45" fill="none"/>
<polygon points="91.5,69.6 93.8,71.6 96.3,67.9 95,66.4" fill="#a7fbad" stroke="#a7fbad" stroke-width="0.4"/>
<path d="M91.5 69.6L93.8 71.6" stroke="#161c26" stroke-opacity="0.8" stroke-width="0.45" fill="none"/>
<polygon points="45.7,69.8 50.3,71.8 53.2,68.3 48.7,66.4" fill="#9aeba5" stroke="#9aeba5" stroke-width="0.4"/>
<path d="M45.7 69.8L48.7 66.4M45.7 69.8L50.3 71.8" stroke="#161c26" stroke-opacity="0.8" stroke-width="0.45" fill="none"/>
<polygon points="84.8,73 84.3,74.4 85.2,68.3 86,67.2" fill="#426e5b" stroke="#426e5b" stroke-width="0.4"/>
<path d="M84.8 73.0L84.3 74.4" stroke="#161c26" stroke-opacity="0.8" stroke-width="0.45" fill="none"/>
<polygon points="50.7,57.5 55.3,59.5 55.4,58 50.8,55.9" fill="#a67d2d" stroke="#a67d2d" stroke-width="0.4"/>
<path d="M50.7 57.5L50.8 55.9" stroke="#161c26" stroke-opacity="0.8" stroke-width="0.45" fill="none"/>
<polygon points="90,56.7 89.7,57.8 91.6,53.7 91.9,52.8" fill="#d18332" stroke="#d18332" stroke-width="0.4"/>
<path d="M90.0 56.7L89.7 57.8" stroke="#161c26" stroke-opacity="0.8" stroke-width="0.45" fill="none"/>
<polygon points="87.1,64.9 86.7,66.1 88.7,60.6 89.2,59.7" fill="#9fa243" stroke="#9fa243" stroke-width="0.4"/>
<path d="M87.1 64.9L86.7 66.1" stroke="#161c26" stroke-opacity="0.8" stroke-width="0.45" fill="none"/>
<polygon points="90.8,68.1 91.5,69.6 95,66.4 93.8,64.8" fill="#b5f48c" stroke="#b5f48c" stroke-width="0.4"/>
<path d="M90.8 68.1L91.5 69.6" stroke="#161c26" stroke-opacity="0.8" stroke-width="0.45" fill="none"/>
<polygon points="79.2,78.5 80.1,78.8 82.7,75.1 81.8,75.2" fill="#59a4f6" stroke="#59a4f6" stroke-width="0.4"/>
<path d="M79.2 78.5L81.8 75.2M79.2 78.5L80.1 78.8" stroke="#161c26" stroke-opacity="0.8" stroke-width="0.45" fill="none"/>
<polygon points="55,62.5 59.6,64.6 59.8,63.1 55.2,61" fill="#95973d" stroke="#95973d" stroke-width="0.4"/>
<path d="M55.0 62.5L55.2 61.0" stroke="#161c26" stroke-opacity="0.8" stroke-width="0.45" fill="none"/>
<polygon points="92.2,58.4 92.4,59.6 95.1,56.3 94.8,55.2" fill="#ffb943" stroke="#ffb943" stroke-width="0.4"/>
<path d="M92.2 58.4L92.4 59.6" stroke="#161c26" stroke-opacity="0.8" stroke-width="0.45" fill="none"/>
<polygon points="94.6,49.6 94.7,50.9 97.3,48.4 97.1,47.2" fill="#ef2625" stroke="#ef2625" stroke-width="0.4"/>
<path d="M94.6 49.6L94.7 50.9" stroke="#161c26" stroke-opacity="0.8" stroke-width="0.45" fill="none"/>
<polygon points="105.9,72.1 110.8,73.8 113,71.1 108.2,69.1" fill="#81dcbd" stroke="#81dcbd" stroke-width="0.4"/>
<path d="M105.9 72.1L108.2 69.1M105.9 72.1L110.8 73.8" stroke="#161c26" stroke-opacity="0.8" stroke-width="0.45" fill="none"/>
<polygon points="90.1,66.6 90.8,68.1 93.8,64.8 93.2,63.5" fill="#cbf277" stroke="#cbf277" stroke-width="0.4"/>
<path d="M90.1 66.6L90.8 68.1" stroke="#161c26" stroke-opacity="0.8" stroke-width="0.45" fill="none"/>
<polygon points="50.8,55.9 55.4,58 55.5,56.6 50.9,54.4" fill="#a96f29" stroke="#a96f29" stroke-width="0.4"/>
<path d="M50.8 55.9L50.9 54.4M50.9 54.4L55.5 56.6" stroke="#161c26" stroke-opacity="0.8" stroke-width="0.45" fill="none"/>
<polygon points="80.1,78.8 81.1,79.1 83.7,74.9 82.7,75.1" fill="#5aa8f3" stroke="#5aa8f3" stroke-width="0.4"/>
<path d="M80.1 78.8L81.1 79.1" stroke="#161c26" stroke-opacity="0.8" stroke-width="0.45" fill="none"/>
<polygon points="59,67.8 63.6,70 64,68.3 59.4,66.2" fill="#7eaf67" stroke="#7eaf67" stroke-width="0.4"/>
<path d="M59.0 67.8L59.4 66.2" stroke="#161c26" stroke-opacity="0.8" stroke-width="0.45" fill="none"/>
<polygon points="118,72.4 123,73.7 125,71.1 120.1,69.8" fill="#7dd5b7" stroke="#7dd5b7" stroke-width="0.4"/>
<path d="M118.0 72.4L120.1 69.8M118.0 72.4L123.0 73.7" stroke="#161c26" stroke-opacity="0.8" stroke-width="0.45" fill="none"/>
<polygon points="55.2,61 59.8,63.1 59.9,61.6 55.3,59.5" fill="#9f8f34" stroke="#9f8f34" stroke-width="0.4"/>
<path d="M55.2 61.0L55.3 59.5" stroke="#161c26" stroke-opacity="0.8" stroke-width="0.45" fill="none"/>
<polygon points="90.3,55.5 90,56.7 91.9,52.8 92.2,51.9" fill="#d6712f" stroke="#d6712f" stroke-width="0.4"/>
<path d="M90.3 55.5L90.0 56.7" stroke="#161c26" stroke-opacity="0.8" stroke-width="0.45" fill="none"/>
<polygon points="92.1,57.1 92.2,58.4 94.8,55.2 94.8,54.1" fill="#fca13c" stroke="#fca13c" stroke-width="0.4"/>
<path d="M92.1 57.1L92.2 58.4" stroke="#161c26" stroke-opacity="0.8" stroke-width="0.45" fill="none"/>
<polygon points="87.5,63.7 87.1,64.9 89.2,59.7 89.4,58.8" fill="#b3a53d" stroke="#b3a53d" stroke-width="0.4"/>
<path d="M87.5 63.7L87.1 64.9" stroke="#161c26" stroke-opacity="0.8" stroke-width="0.45" fill="none"/>
<polygon points="57.7,70.4 62.4,72.5 63.6,70 59,67.8" fill="#90dd9f" stroke="#90dd9f" stroke-width="0.4"/>
<path d="M57.7 70.4L59.0 67.8M57.7 70.4L62.4 72.5" stroke="#161c26" stroke-opacity="0.8" stroke-width="0.45" fill="none"/>
<polygon points="93.9,70 98.7,73.1 101,70.1 96.3,66.5" fill="#a5f9ac" stroke="#a5f9ac" stroke-width="0.4"/>
<path d="M93.9 70.0L96.3 66.5M93.9 70.0L98.7 73.1" stroke="#161c26" stroke-opacity="0.8" stroke-width="0.45" fill="none"/>
<polygon points="85.2,71.6 84.8,73 86,67.2 86.7,66.1" fill="#4c714a" stroke="#4c714a" stroke-width="0.4"/>
<path d="M85.2 71.6L84.8 73.0" stroke="#161c26" stroke-opacity="0.8" stroke-width="0.45" fill="none"/>
<polygon points="59.4,66.2 64,68.3 64.2,66.8 59.6,64.6" fill="#85a151" stroke="#85a151" stroke-width="0.4"/>
<path d="M59.4 66.2L59.6 64.6" stroke="#161c26" stroke-opacity="0.8" stroke-width="0.45" fill="none"/>
<polygon points="89.9,65.3 90.1,66.6 93.2,63.5 92.9,62.2" fill="#cad75b" stroke="#cad75b" stroke-width="0.4"/>
<path d="M89.9 65.3L90.1 66.6" stroke="#161c26" stroke-opacity="0.8" stroke-width="0.45" fill="none"/>
<polygon points="81.1,79.1 81.7,79.3 84.2,74.7 83.7,74.9" fill="#5aabef" stroke="#5aabef" stroke-width="0.4"/>
<path d="M81.1 79.1L81.7 79.3" stroke="#161c26" stroke-opacity="0.8" stroke-width="0.45" fill="none"/>
<polygon points="130.1,72.4 135.2,73.7 137.1,71.2 132,69.9" fill="#80d7b4" stroke="#80d7b4" stroke-width="0.4"/>
<path d="M130.1 72.4L132.0 69.9M130.1 72.4L135.2 73.7" stroke="#161c26" stroke-opacity="0.8" stroke-width="0.45" fill="none"/>
<polygon points="38.2,71.3 42.7,73.2 45.7,69.8 41.2,68" fill="#96e8a9" stroke="#96e8a9" stroke-width="0.4"/>
<path d="M38.2 71.3L42.7 73.2" stroke="#161c26" stroke-opacity="0.8" stroke-width="0.45" fill="none"/>
<polygon points="55.3,59.5 59.9,61.6 60,60.2 55.4,58" fill="#a4842f" stroke="#a4842f" stroke-width="0.4"/>
<path d="M55.3 59.5L55.4 58.0" stroke="#161c26" stroke-opacity="0.8" stroke-width="0.45" fill="none"/>
<polygon points="50.3,71.8 54.9,73.9 57.7,70.4 53.2,68.3" fill="#92e8b1" stroke="#92e8b1" stroke-width="0.4"/>
<path d="M50.3 71.8L53.2 68.3M50.3 71.8L54.9 73.9" stroke="#161c26" stroke-opacity="0.8" stroke-width="0.45" fill="none"/>
<polygon points="90.5,54.3 90.3,55.5 92.2,51.9 92.5,51" fill="#d55a2a" stroke="#d55a2a" stroke-width="0.4"/>
<path d="M90.5 54.3L90.3 55.5" stroke="#161c26" stroke-opacity="0.8" stroke-width="0.45" fill="none"/>
<polygon points="92.1,55.9 92.1,57.1 94.8,54.1 94.7,53" fill="#f28335" stroke="#f28335" stroke-width="0.4"/>
<path d="M92.1 55.9L92.1 57.1" stroke="#161c26" stroke-opacity="0.8" stroke-width="0.45" fill="none"/>
<polygon points="59.6,64.6 64.2,66.8 64.4,65.3 59.8,63.1" fill="#8e9a42" stroke="#8e9a42" stroke-width="0.4"/>
<path d="M59.6 64.6L59.8 63.1" stroke="#161c26" stroke-opacity="0.8" stroke-width="0.45" fill="none"/>
<polygon points="81.7,79.3 82.2,79.5 84.8,73 84.2,74.7" fill="#5db3e6" stroke="#5db3e6" stroke-width="0.4"/>
<path d="M81.7 79.3L82.2 79.5" stroke="#161c26" stroke-opacity="0.8" stroke-width="0.45" fill="none"/>
<polygon points="87.8,62.4 87.5,63.7 89.4,58.8 89.7,57.8" fill="#c4a23a" stroke="#c4a23a" stroke-width="0.4"/>
<path d="M87.8 62.4L87.5 63.7" stroke="#161c26" stroke-opacity="0.8" stroke-width="0.45" fill="none"/>
<polygon points="89.7,64 89.9,65.3 92.9,62.2 92.6,60.9" fill="#ddd352" stroke="#ddd352" stroke-width="0.4"/>
<path d="M89.7 64.0L89.9 65.3" stroke="#161c26" stroke-opacity="0.8" stroke-width="0.45" fill="none"/>
<polygon points="55.4,58 60,60.2 60.1,58.7 55.5,56.6" fill="#a8772b" stroke="#a8772b" stroke-width="0.4"/>
<path d="M55.4 58.0L55.5 56.6M55.5 56.6L60.1 58.7" stroke="#161c26" stroke-opacity="0.8" stroke-width="0.45" fill="none"/>
<polygon points="63.6,70 68.3,72.4 68.7,70.7 64,68.3" fill="#75ae74" stroke="#75ae74" stroke-width="0.4"/>
<path d="M63.6 70.0L64.0 68.3" stroke="#161c26" stroke-opacity="0.8" stroke-width="0.45" fill="none"/>
<polygon points="98.7,73.1 103.5,75.2 105.9,72.1 101,70.1" fill="#88e5bf" stroke="#88e5bf" stroke-width="0.4"/>
<path d="M98.7 73.1L101.0 70.1M98.7 73.1L103.5 75.2" stroke="#161c26" stroke-opacity="0.8" stroke-width="0.45" fill="none"/>
<polygon points="59.8,63.1 64.4,65.3 64.5,63.8 59.9,61.6" fill="#989138" stroke="#989138" stroke-width="0.4"/>
<path d="M59.8 63.1L59.9 61.6" stroke="#161c26" stroke-opacity="0.8" stroke-width="0.45" fill="none"/>
<polygon points="85.5,70.1 85.2,71.6 86.7,66.1 87.1,64.9" fill="#87ad5e" stroke="#87ad5e" stroke-width="0.4"/>
<path d="M85.5 70.1L85.2 71.6" stroke="#161c26" stroke-opacity="0.8" stroke-width="0.45" fill="none"/>
<polygon points="110.8,73.8 115.8,75 118,72.4 113,71.1" fill="#7cd4b7" stroke="#7cd4b7" stroke-width="0.4"/>
<path d="M110.8 73.8L113.0 71.1M110.8 73.8L115.8 75.0" stroke="#161c26" stroke-opacity="0.8" stroke-width="0.45" fill="none"/>
<polygon points="92.1,54.6 92.1,55.9 94.7,53 94.7,51.9" fill="#f16830" stroke="#f16830" stroke-width="0.4"/>
<path d="M92.1 54.6L92.1 55.9" stroke="#161c26" stroke-opacity="0.8" stroke-width="0.45" fill="none"/>
<polygon points="62.4,72.5 67,75 68.3,72.4 63.6,70" fill="#85dcb3" stroke="#85dcb3" stroke-width="0.4"/>
<path d="M62.4 72.5L63.6 70.0M62.4 72.5L67.0 75.0" stroke="#161c26" stroke-opacity="0.8" stroke-width="0.45" fill="none"/>
<polygon points="90.7,53.1 90.5,54.3 92.5,51 92.7,50.1" fill="#d43e26" stroke="#d43e26" stroke-width="0.4"/>
<path d="M90.7 53.1L90.5 54.3" stroke="#161c26" stroke-opacity="0.8" stroke-width="0.45" fill="none"/>
<polygon points="82.2,79.5 82.6,79.6 85.2,71.6 84.8,73" fill="#5eaec5" stroke="#5eaec5" stroke-width="0.4"/>
<path d="M82.2 79.5L82.6 79.6" stroke="#161c26" stroke-opacity="0.8" stroke-width="0.45" fill="none"/>
<polygon points="64,68.3 68.7,70.7 68.9,69.1 64.2,66.8" fill="#7ba25a" stroke="#7ba25a" stroke-width="0.4"/>
<path d="M64.0 68.3L64.2 66.8" stroke="#161c26" stroke-opacity="0.8" stroke-width="0.45" fill="none"/>
<polygon points="89.6,62.6 89.7,64 92.6,60.9 92.4,59.6" fill="#eac847" stroke="#eac847" stroke-width="0.4"/>
<path d="M89.6 62.6L89.7 64.0" stroke="#161c26" stroke-opacity="0.8" stroke-width="0.45" fill="none"/>
<polygon points="87.5,72.4 91.3,75 93.8,71.6 91.5,69.6" fill="#98f3bc" stroke="#98f3bc" stroke-width="0.4"/>
<path d="M87.5 72.4L91.3 75.0" stroke="#161c26" stroke-opacity="0.8" stroke-width="0.45" fill="none"/>
<polygon points="88,61.2 87.8,62.4 89.7,57.8 90,56.9" fill="#d49d39" stroke="#d49d39" stroke-width="0.4"/>
<path d="M88.0 61.2L87.8 62.4" stroke="#161c26" stroke-opacity="0.8" stroke-width="0.45" fill="none"/>
<polygon points="87.3,71.1 87.5,72.4 91.5,69.6 90.8,68.1" fill="#94d686" stroke="#94d686" stroke-width="0.4"/>
<path d="M87.3 71.1L87.5 72.4" stroke="#161c26" stroke-opacity="0.8" stroke-width="0.45" fill="none"/>
<polygon points="123,73.7 128.1,75.1 130.1,72.4 125,71.1" fill="#80d7b3" stroke="#80d7b3" stroke-width="0.4"/>
<path d="M123.0 73.7L125.0 71.1M123.0 73.7L128.1 75.1" stroke="#161c26" stroke-opacity="0.8" stroke-width="0.45" fill="none"/>
<polygon points="59.9,61.6 64.5,63.8 64.7,62.3 60,60.2" fill="#a08a31" stroke="#a08a31" stroke-width="0.4"/>
<path d="M59.9 61.6L60.0 60.2" stroke="#161c26" stroke-opacity="0.8" stroke-width="0.45" fill="none"/>
<polygon points="54.9,73.9 59.5,76.2 62.4,72.5 57.7,70.4" fill="#89e6c1" stroke="#89e6c1" stroke-width="0.4"/>
<path d="M54.9 73.9L57.7 70.4M54.9 73.9L59.5 76.2" stroke="#161c26" stroke-opacity="0.8" stroke-width="0.45" fill="none"/>
<polygon points="42.7,73.2 47.3,75.2 50.3,71.8 45.7,69.8" fill="#8fe6b4" stroke="#8fe6b4" stroke-width="0.4"/>
<path d="M42.7 73.2L45.7 69.8M42.7 73.2L47.3 75.2" stroke="#161c26" stroke-opacity="0.8" stroke-width="0.45" fill="none"/>
<polygon points="64.2,66.8 68.9,69.1 69.1,67.6 64.4,65.3" fill="#869b49" stroke="#869b49" stroke-width="0.4"/>
<path d="M64.2 66.8L64.4 65.3" stroke="#161c26" stroke-opacity="0.8" stroke-width="0.45" fill="none"/>
<polygon points="92,53.4 92.1,54.6 94.7,51.9 94.7,50.8" fill="#ec472a" stroke="#ec472a" stroke-width="0.4"/>
<path d="M92.0 53.4L92.1 54.6" stroke="#161c26" stroke-opacity="0.8" stroke-width="0.45" fill="none"/>
<polygon points="68.2,72.6 73,75.6 73.3,73.9 68.6,71.1" fill="#68ad8f" stroke="#68ad8f" stroke-width="0.4"/>
<path d="M68.2 72.6L68.6 71.1" stroke="#161c26" stroke-opacity="0.8" stroke-width="0.45" fill="none"/>
<polygon points="91.1,51.9 90.7,53.1 92.7,50.1 93.2,49.3" fill="#c61f1f" stroke="#c61f1f" stroke-width="0.4"/>
<path d="M91.1 51.9L90.7 53.1" stroke="#161c26" stroke-opacity="0.8" stroke-width="0.45" fill="none"/>
<polygon points="82.6,79.6 83,79.7 85.6,69.8 85.2,71.6" fill="#5fabaa" stroke="#5fabaa" stroke-width="0.4"/>
<path d="M82.6 79.6L83.0 79.7" stroke="#161c26" stroke-opacity="0.8" stroke-width="0.45" fill="none"/>
<polygon points="89.5,61.3 89.6,62.6 92.4,59.6 92.2,58.4" fill="#f1b842" stroke="#f1b842" stroke-width="0.4"/>
<path d="M89.5 61.3L89.6 62.6" stroke="#161c26" stroke-opacity="0.8" stroke-width="0.45" fill="none"/>
<polygon points="85.8,68.6 85.5,70.1 87.1,64.9 87.5,63.7" fill="#9fb24f" stroke="#9fb24f" stroke-width="0.4"/>
<path d="M85.8 68.6L85.5 70.1" stroke="#161c26" stroke-opacity="0.8" stroke-width="0.45" fill="none"/>
<polygon points="87,69.7 87.3,71.1 90.8,68.1 90.1,66.6" fill="#acda74" stroke="#acda74" stroke-width="0.4"/>
<path d="M87.0 69.7L87.3 71.1" stroke="#161c26" stroke-opacity="0.8" stroke-width="0.45" fill="none"/>
<polygon points="67,75 71.8,78 73,75.6 68.2,72.6" fill="#77d6d3" stroke="#77d6d3" stroke-width="0.4"/>
<path d="M67.0 75.0L68.2 72.6M67.0 75.0L71.8 78.0" stroke="#161c26" stroke-opacity="0.8" stroke-width="0.45" fill="none"/>
<polygon points="60,60.2 64.7,62.3 64.8,60.9 60.1,58.7" fill="#a47d2d" stroke="#a47d2d" stroke-width="0.4"/>
<path d="M60.0 60.2L60.1 58.7M60.1 58.7L64.8 60.9" stroke="#161c26" stroke-opacity="0.8" stroke-width="0.45" fill="none"/>
<polygon points="88.2,59.9 88,61.2 90,56.9 90.2,55.9" fill="#da8f35" stroke="#da8f35" stroke-width="0.4"/>
<path d="M88.2 59.9L88.0 61.2" stroke="#161c26" stroke-opacity="0.8" stroke-width="0.45" fill="none"/>
<polygon points="68.6,71.1 73.3,73.9 73.6,72.4 68.8,69.7" fill="#6ca370" stroke="#6ca370" stroke-width="0.4"/>
<path d="M68.6 71.1L68.8 69.7" stroke="#161c26" stroke-opacity="0.8" stroke-width="0.45" fill="none"/>
<polygon points="64.4,65.3 69.1,67.6 69.2,66.1 64.5,63.8" fill="#90943d" stroke="#90943d" stroke-width="0.4"/>
<path d="M64.4 65.3L64.5 63.8" stroke="#161c26" stroke-opacity="0.8" stroke-width="0.45" fill="none"/>
<polygon points="92,52.1 92,53.4 94.7,50.8 94.6,49.6" fill="#eb2625" stroke="#eb2625" stroke-width="0.4"/>
<path d="M92.0 52.1L92.0 53.4" stroke="#161c26" stroke-opacity="0.8" stroke-width="0.45" fill="none"/>
<polygon points="103.5,75.2 108.5,76.4 110.8,73.8 105.9,72.1" fill="#7bd3b7" stroke="#7bd3b7" stroke-width="0.4"/>
<path d="M103.5 75.2L105.9 72.1M103.5 75.2L108.5 76.4" stroke="#161c26" stroke-opacity="0.8" stroke-width="0.45" fill="none"/>
<polygon points="72.9,75.7 77.7,79.3 78,77.6 73.2,74.3" fill="#57a0af" stroke="#57a0af" stroke-width="0.4"/>
<path d="M72.9 75.7L73.2 74.3" stroke="#161c26" stroke-opacity="0.8" stroke-width="0.45" fill="none"/>
<polygon points="68.8,69.7 73.6,72.4 73.7,71 69,68.3" fill="#749d5a" stroke="#749d5a" stroke-width="0.4"/>
<path d="M68.8 69.7L69.0 68.3" stroke="#161c26" stroke-opacity="0.8" stroke-width="0.45" fill="none"/>
<polygon points="83,79.7 83.3,79.8 85.9,67.8 85.6,69.8" fill="#62a68e" stroke="#62a68e" stroke-width="0.4"/>
<path d="M83.0 79.7L83.3 79.8" stroke="#161c26" stroke-opacity="0.8" stroke-width="0.45" fill="none"/>
<polygon points="89.4,60 89.5,61.3 92.2,58.4 92.1,57.1" fill="#f8a83e" stroke="#f8a83e" stroke-width="0.4"/>
<path d="M89.4 60.0L89.5 61.3" stroke="#161c26" stroke-opacity="0.8" stroke-width="0.45" fill="none"/>
<polygon points="86.9,68.3 87,69.7 90.1,66.6 89.9,65.3" fill="#b9d05d" stroke="#b9d05d" stroke-width="0.4"/>
<path d="M86.9 68.3L87.0 69.7" stroke="#161c26" stroke-opacity="0.8" stroke-width="0.45" fill="none"/>
<polygon points="71.8,78.1 76.6,81.7 77.7,79.3 72.9,75.7" fill="#64c1fb" stroke="#64c1fb" stroke-width="0.4"/>
<path d="M71.8 78.1L72.9 75.7M71.8 78.1L76.6 81.7" stroke="#161c26" stroke-opacity="0.8" stroke-width="0.45" fill="none"/>
<polygon points="91.4,73.9 96.2,76.2 98.7,73.1 93.9,70" fill="#94ebb3" stroke="#94ebb3" stroke-width="0.4"/>
<path d="M91.4 73.9L93.9 70.0M91.4 73.9L96.2 76.2" stroke="#161c26" stroke-opacity="0.8" stroke-width="0.45" fill="none"/>
<polygon points="64.5,63.8 69.2,66.1 69.4,64.6 64.7,62.3" fill="#9a8d34" stroke="#9a8d34" stroke-width="0.4"/>
<path d="M64.5 63.8L64.7 62.3" stroke="#161c26" stroke-opacity="0.8" stroke-width="0.45" fill="none"/>
<polygon points="59.5,76.2 64.2,78.8 67,75 62.4,72.5" fill="#7ee1d7" stroke="#7ee1d7" stroke-width="0.4"/>
<path d="M59.5 76.2L62.4 72.5M59.5 76.2L64.2 78.8" stroke="#161c26" stroke-opacity="0.8" stroke-width="0.45" fill="none"/>
<polygon points="73.2,74.3 78,77.6 78.3,76.1 73.5,72.9" fill="#589c8e" stroke="#589c8e" stroke-width="0.4"/>
<path d="M73.2 74.3L73.5 72.9" stroke="#161c26" stroke-opacity="0.8" stroke-width="0.45" fill="none"/>
<polygon points="88.4,58.6 88.2,59.9 90.2,55.9 90.4,54.9" fill="#de7b32" stroke="#de7b32" stroke-width="0.4"/>
<path d="M88.4 58.6L88.2 59.9" stroke="#161c26" stroke-opacity="0.8" stroke-width="0.45" fill="none"/>
<polygon points="115.8,75 120.9,76.4 123,73.7 118,72.4" fill="#7fd6b3" stroke="#7fd6b3" stroke-width="0.4"/>
<path d="M115.8 75.0L118.0 72.4M115.8 75.0L120.9 76.4" stroke="#161c26" stroke-opacity="0.8" stroke-width="0.45" fill="none"/>
<polygon points="86,67 85.8,68.6 87.5,63.7 87.8,62.4" fill="#b9b547" stroke="#b9b547" stroke-width="0.4"/>
<path d="M86.0 67.0L85.8 68.6" stroke="#161c26" stroke-opacity="0.8" stroke-width="0.45" fill="none"/>
<polygon points="35.1,74.6 39.6,76.5 42.7,73.2 38.2,71.3" fill="#8de5b5" stroke="#8de5b5" stroke-width="0.4"/>
<path d="M35.1 74.6L39.6 76.5" stroke="#161c26" stroke-opacity="0.8" stroke-width="0.45" fill="none"/>
<polygon points="47.3,75.2 51.9,77.4 54.9,73.9 50.3,71.8" fill="#87e4c1" stroke="#87e4c1" stroke-width="0.4"/>
<path d="M47.3 75.2L50.3 71.8M47.3 75.2L51.9 77.4" stroke="#161c26" stroke-opacity="0.8" stroke-width="0.45" fill="none"/>
<polygon points="69,68.3 73.7,71 73.9,69.5 69.2,67" fill="#7e984b" stroke="#7e984b" stroke-width="0.4"/>
<path d="M69.0 68.3L69.2 67.0" stroke="#161c26" stroke-opacity="0.8" stroke-width="0.45" fill="none"/>
<polygon points="128.1,75.1 133.2,76.4 135.2,73.7 130.1,72.4" fill="#83d9b0" stroke="#83d9b0" stroke-width="0.4"/>
<path d="M128.1 75.1L130.1 72.4M128.1 75.1L133.2 76.4" stroke="#161c26" stroke-opacity="0.8" stroke-width="0.45" fill="none"/>
<polygon points="73.5,72.9 78.3,76.1 78.4,74.7 73.7,71.6" fill="#5f9875" stroke="#5f9875" stroke-width="0.4"/>
<path d="M73.5 72.9L73.7 71.6" stroke="#161c26" stroke-opacity="0.8" stroke-width="0.45" fill="none"/>
<polygon points="89.4,58.7 89.4,60 92.1,57.1 92.1,55.9" fill="#f08936" stroke="#f08936" stroke-width="0.4"/>
<path d="M89.4 58.7L89.4 60.0" stroke="#161c26" stroke-opacity="0.8" stroke-width="0.45" fill="none"/>
<polygon points="64.7,62.3 69.4,64.6 69.5,63.1 64.8,60.9" fill="#a1832f" stroke="#a1832f" stroke-width="0.4"/>
<path d="M64.7 62.3L64.8 60.9M64.8 60.9L69.5 63.1" stroke="#161c26" stroke-opacity="0.8" stroke-width="0.45" fill="none"/>
<polygon points="86.8,66.9 86.9,68.3 89.9,65.3 89.7,64" fill="#cac951" stroke="#cac951" stroke-width="0.4"/>
<path d="M86.8 66.9L86.9 68.3" stroke="#161c26" stroke-opacity="0.8" stroke-width="0.45" fill="none"/>
<polygon points="77.7,79.3 82.5,81.6 82.8,79.9 78,77.6" fill="#4585b1" stroke="#4585b1" stroke-width="0.4"/>
<path d="M77.7 79.3L78.0 77.6" stroke="#161c26" stroke-opacity="0.8" stroke-width="0.45" fill="none"/>
<polygon points="69.2,67 73.9,69.5 74,68.1 69.3,65.7" fill="#89943f" stroke="#89943f" stroke-width="0.4"/>
<path d="M69.2 67.0L69.3 65.7" stroke="#161c26" stroke-opacity="0.8" stroke-width="0.45" fill="none"/>
<polygon points="76.6,81.7 81.3,84.1 82.5,81.6 77.7,79.3" fill="#5496f3" stroke="#5496f3" stroke-width="0.4"/>
<path d="M76.6 81.7L77.7 79.3M76.6 81.7L81.3 84.1" stroke="#161c26" stroke-opacity="0.8" stroke-width="0.45" fill="none"/>
<polygon points="83.3,79.8 83.6,79.9 86.2,63.8 85.9,67.7" fill="#6da36e" stroke="#6da36e" stroke-width="0.4"/>
<path d="M83.3 79.8L83.6 79.9" stroke="#161c26" stroke-opacity="0.8" stroke-width="0.45" fill="none"/>
<polygon points="88.5,57.2 88.4,58.6 90.4,54.9 90.6,53.9" fill="#dd632d" stroke="#dd632d" stroke-width="0.4"/>
<path d="M88.5 57.2L88.4 58.6" stroke="#161c26" stroke-opacity="0.8" stroke-width="0.45" fill="none"/>
<polygon points="64.2,78.8 69,81.8 71.8,78 67,75" fill="#71d3f3" stroke="#71d3f3" stroke-width="0.4"/>
<path d="M64.2 78.8L67.0 75.0M64.2 78.8L69.0 81.8" stroke="#161c26" stroke-opacity="0.8" stroke-width="0.45" fill="none"/>
<polygon points="73.7,71.6 78.4,74.7 78.6,73.2 73.8,70.3" fill="#68965f" stroke="#68965f" stroke-width="0.4"/>
<path d="M73.7 71.6L73.8 70.3" stroke="#161c26" stroke-opacity="0.8" stroke-width="0.45" fill="none"/>
<polygon points="78,77.6 82.8,79.9 83,78.4 78.3,76.1" fill="#488592" stroke="#488592" stroke-width="0.4"/>
<path d="M78.0 77.6L78.3 76.1" stroke="#161c26" stroke-opacity="0.8" stroke-width="0.45" fill="none"/>
<polygon points="86.1,65.5 86,67 87.8,62.4 88,61.2" fill="#cdb03f" stroke="#cdb03f" stroke-width="0.4"/>
<path d="M86.1 65.5L86.0 67.0" stroke="#161c26" stroke-opacity="0.8" stroke-width="0.45" fill="none"/>
<polygon points="96.2,76.2 101.2,77.8 103.5,75.2 98.7,73.1" fill="#80dabb" stroke="#80dabb" stroke-width="0.4"/>
<path d="M96.2 76.2L98.7 73.1M96.2 76.2L101.2 77.8" stroke="#161c26" stroke-opacity="0.8" stroke-width="0.45" fill="none"/>
<polygon points="89.4,57.4 89.4,58.7 92.1,55.9 92.1,54.6" fill="#ef6f31" stroke="#ef6f31" stroke-width="0.4"/>
<path d="M89.4 57.4L89.4 58.7" stroke="#161c26" stroke-opacity="0.8" stroke-width="0.45" fill="none"/>
<polygon points="83.3,88.5 86.2,87.6 87.1,84.6 84.2,85.2" fill="#343395" stroke="#343395" stroke-width="0.4"/>
<path d="M83.3 88.5L86.2 87.6" stroke="#161c26" stroke-opacity="0.8" stroke-width="0.45" fill="none"/>
<polygon points="86.7,65.6 86.8,66.9 89.7,64 89.6,62.6" fill="#dcc447" stroke="#dcc447" stroke-width="0.4"/>
<path d="M86.7 65.6L86.8 66.9" stroke="#161c26" stroke-opacity="0.8" stroke-width="0.45" fill="none"/>
<polygon points="69.3,65.7 74,68.1 74.2,66.7 69.4,64.4" fill="#938d37" stroke="#938d37" stroke-width="0.4"/>
<path d="M69.3 65.7L69.4 64.4" stroke="#161c26" stroke-opacity="0.8" stroke-width="0.45" fill="none"/>
<polygon points="73.8,70.3 78.6,73.2 78.7,71.8 73.9,69.1" fill="#739450" stroke="#739450" stroke-width="0.4"/>
<path d="M73.8 70.3L73.9 69.1" stroke="#161c26" stroke-opacity="0.8" stroke-width="0.45" fill="none"/>
<polygon points="51.9,77.4 56.6,79.7 59.5,76.2 54.9,73.9" fill="#7ee0d2" stroke="#7ee0d2" stroke-width="0.4"/>
<path d="M51.9 77.4L54.9 73.9M51.9 77.4L56.6 79.7" stroke="#161c26" stroke-opacity="0.8" stroke-width="0.45" fill="none"/>
<polygon points="78.3,76.1 83,78.4 83.2,76.9 78.4,74.7" fill="#4d897c" stroke="#4d897c" stroke-width="0.4"/>
<path d="M78.3 76.1L78.4 74.7" stroke="#161c26" stroke-opacity="0.8" stroke-width="0.45" fill="none"/>
<polygon points="108.5,76.4 113.6,77.7 115.8,75 110.8,73.8" fill="#7ed5b4" stroke="#7ed5b4" stroke-width="0.4"/>
<path d="M108.5 76.4L110.8 73.8M108.5 76.4L113.6 77.7" stroke="#161c26" stroke-opacity="0.8" stroke-width="0.45" fill="none"/>
<polygon points="88.6,55.9 88.5,57.2 90.6,53.9 90.8,52.9" fill="#da4327" stroke="#da4327" stroke-width="0.4"/>
<path d="M88.6 55.9L88.5 57.2" stroke="#161c26" stroke-opacity="0.8" stroke-width="0.45" fill="none"/>
<polygon points="69,81.8 73.8,85.3 76.6,81.7 71.8,78.1" fill="#62b5ff" stroke="#62b5ff" stroke-width="0.4"/>
<path d="M69.0 81.8L71.8 78.1M69.0 81.8L73.8 85.3" stroke="#161c26" stroke-opacity="0.8" stroke-width="0.45" fill="none"/>
<polygon points="39.6,76.5 44.2,78.6 47.3,75.2 42.7,73.2" fill="#86e3c0" stroke="#86e3c0" stroke-width="0.4"/>
<path d="M39.6 76.5L42.7 73.2M39.6 76.5L44.2 78.6" stroke="#161c26" stroke-opacity="0.8" stroke-width="0.45" fill="none"/>
<polygon points="90.4,72.6 91.4,73.9 90.5,73.5 89.5,72.4" fill="#a1ea94" stroke="#a1ea94" stroke-width="0.4"/>
<polygon points="84.2,85.2 87.1,84.6 87.4,82.1 84.5,82.6" fill="#2e4e8f" stroke="#2e4e8f" stroke-width="0.4"/>
<polygon points="69.4,64.4 74.2,66.7 74.3,65.3 69.5,63.1" fill="#9c8830" stroke="#9c8830" stroke-width="0.4"/>
<path d="M69.4 64.4L69.5 63.1M69.5 63.1L74.3 65.3" stroke="#161c26" stroke-opacity="0.8" stroke-width="0.45" fill="none"/>
<polygon points="89.4,56 89.4,57.4 92.1,54.6 92,53.4" fill="#ea4b2b" stroke="#ea4b2b" stroke-width="0.4"/>
<path d="M89.4 56.0L89.4 57.4" stroke="#161c26" stroke-opacity="0.8" stroke-width="0.45" fill="none"/>
<polygon points="120.9,76.4 126,77.8 128.1,75.1 123,73.7" fill="#83d8b0" stroke="#83d8b0" stroke-width="0.4"/>
<path d="M120.9 76.4L123.0 73.7M120.9 76.4L126.0 77.8" stroke="#161c26" stroke-opacity="0.8" stroke-width="0.45" fill="none"/>
<polygon points="86.2,63.9 86.1,65.5 88,61.2 88.2,59.9" fill="#dca53b" stroke="#dca53b" stroke-width="0.4"/>
<path d="M86.2 63.9L86.1 65.5" stroke="#161c26" stroke-opacity="0.8" stroke-width="0.45" fill="none"/>
<polygon points="89.4,71.4 90.4,72.6 89.5,72.3 88.5,71.2" fill="#b5ee85" stroke="#b5ee85" stroke-width="0.4"/>
<polygon points="86.7,64.2 86.7,65.6 89.6,62.6 89.5,61.3" fill="#e6b641" stroke="#e6b641" stroke-width="0.4"/>
<path d="M86.7 64.2L86.7 65.6" stroke="#161c26" stroke-opacity="0.8" stroke-width="0.45" fill="none"/>
<polygon points="73.9,69.1 78.7,71.8 78.9,70.4 74.1,67.8" fill="#7e9143" stroke="#7e9143" stroke-width="0.4"/>
<path d="M73.9 69.1L74.1 67.8" stroke="#161c26" stroke-opacity="0.8" stroke-width="0.45" fill="none"/>
<polygon points="78.4,74.7 83.2,76.9 83.4,75.5 78.6,73.2" fill="#578a68" stroke="#578a68" stroke-width="0.4"/>
<path d="M78.4 74.7L78.6 73.2" stroke="#161c26" stroke-opacity="0.8" stroke-width="0.45" fill="none"/>
<polygon points="88.9,70.6 89.4,71.4 88.5,71.1 87.9,70.4" fill="#c6f17a" stroke="#c6f17a" stroke-width="0.4"/>
<polygon points="83.6,79.9 83.8,80 86.4,58.5 86.2,63.7" fill="#80994c" stroke="#80994c" stroke-width="0.4"/>
<path d="M83.6 79.9L83.8 80.0" stroke="#161c26" stroke-opacity="0.8" stroke-width="0.45" fill="none"/>
<polygon points="91.4,73.9 96.2,76.2 95.4,75.8 90.5,73.5" fill="#83cb93" stroke="#83cb93" stroke-width="0.4"/>
<path d="M91.4 73.9L90.5 73.5" stroke="#161c26" stroke-opacity="0.8" stroke-width="0.45" fill="none"/>
<polygon points="88.9,54.6 88.6,55.9 90.8,52.9 91.1,51.9" fill="#d22221" stroke="#d22221" stroke-width="0.4"/>
<path d="M88.9 54.6L88.6 55.9" stroke="#161c26" stroke-opacity="0.8" stroke-width="0.45" fill="none"/>
<polygon points="88.3,69.7 88.9,70.6 87.9,70.3 87.3,69.6" fill="#d3f270" stroke="#d3f270" stroke-width="0.4"/>
<polygon points="74.1,67.8 78.9,70.4 79,69 74.2,66.5" fill="#888d3a" stroke="#888d3a" stroke-width="0.4"/>
<path d="M74.1 67.8L74.2 66.5" stroke="#161c26" stroke-opacity="0.8" stroke-width="0.45" fill="none"/>
<polygon points="80.4,91.8 83.5,91.3 86.2,87.6 83.2,88.5" fill="#4b29a9" stroke="#4b29a9" stroke-width="0.4"/>
<path d="M80.4 91.8L83.5 91.3" stroke="#161c26" stroke-opacity="0.8" stroke-width="0.45" fill="none"/>
<polygon points="73.8,85.3 78.7,87.1 81.3,84.1 76.6,81.7" fill="#538bff" stroke="#538bff" stroke-width="0.4"/>
<path d="M73.8 85.3L76.6 81.7M73.8 85.3L78.7 87.1" stroke="#161c26" stroke-opacity="0.8" stroke-width="0.45" fill="none"/>
<polygon points="78.6,73.2 83.4,75.5 83.6,74.1 78.7,71.8" fill="#618b56" stroke="#618b56" stroke-width="0.4"/>
<path d="M78.6 73.2L78.7 71.8" stroke="#161c26" stroke-opacity="0.8" stroke-width="0.45" fill="none"/>
<polygon points="89.4,54.7 89.4,56 92,53.4 92,52.1" fill="#e72724" stroke="#e72724" stroke-width="0.4"/>
<path d="M89.4 54.7L89.4 56.0" stroke="#161c26" stroke-opacity="0.8" stroke-width="0.45" fill="none"/>
<polygon points="56.6,79.7 61.4,82.4 64.2,78.8 59.5,76.2" fill="#75d6e6" stroke="#75d6e6" stroke-width="0.4"/>
<path d="M56.6 79.7L59.5 76.2M56.6 79.7L61.4 82.4" stroke="#161c26" stroke-opacity="0.8" stroke-width="0.45" fill="none"/>
<polygon points="86.7,62.9 86.7,64.2 89.5,61.3 89.4,60" fill="#f0a83d" stroke="#f0a83d" stroke-width="0.4"/>
<path d="M86.7 62.9L86.7 64.2" stroke="#161c26" stroke-opacity="0.8" stroke-width="0.45" fill="none"/>
<polygon points="84.5,82.6 87.4,82.1 87.7,79.8 84.8,80.1" fill="#356683" stroke="#356683" stroke-width="0.4"/>
<polygon points="86.3,62.2 86.2,63.9 88.2,59.9 88.4,58.6" fill="#e49237" stroke="#e49237" stroke-width="0.4"/>
<path d="M86.3 62.2L86.2 63.9" stroke="#161c26" stroke-opacity="0.8" stroke-width="0.45" fill="none"/>
<polygon points="101.2,77.8 106.2,79.1 108.5,76.4 103.5,75.2" fill="#7cd3b4" stroke="#7cd3b4" stroke-width="0.4"/>
<path d="M101.2 77.8L103.5 75.2M101.2 77.8L106.2 79.1" stroke="#161c26" stroke-opacity="0.8" stroke-width="0.45" fill="none"/>
<polygon points="31.9,78.2 36.5,80.2 39.6,76.5 35.1,74.6" fill="#82e0c3" stroke="#82e0c3" stroke-width="0.4"/>
<path d="M31.9 78.2L36.5 80.2" stroke="#161c26" stroke-opacity="0.8" stroke-width="0.45" fill="none"/>
<polygon points="44.2,78.6 48.9,80.9 51.9,77.4 47.3,75.2" fill="#7ee0ce" stroke="#7ee0ce" stroke-width="0.4"/>
<path d="M44.2 78.6L47.3 75.2M44.2 78.6L48.9 80.9" stroke="#161c26" stroke-opacity="0.8" stroke-width="0.45" fill="none"/>
<polygon points="74.2,66.5 79,69 79.1,67.5 74.3,65.3" fill="#938833" stroke="#938833" stroke-width="0.4"/>
<path d="M74.2 66.5L74.3 65.3M74.3 65.3L79.1 67.5" stroke="#161c26" stroke-opacity="0.8" stroke-width="0.45" fill="none"/>
<polygon points="78.7,71.8 83.6,74.1 83.7,72.6 78.9,70.4" fill="#6e8a49" stroke="#6e8a49" stroke-width="0.4"/>
<path d="M78.7 71.8L78.9 70.4" stroke="#161c26" stroke-opacity="0.8" stroke-width="0.45" fill="none"/>
<polygon points="89.5,72.4 90.5,73.5 90.2,72.6 89.2,71.6" fill="#526838" stroke="#526838" stroke-width="0.4"/>
<polygon points="83.8,80 84,80.1 86.6,57 86.4,58.3" fill="#8a8e3a" stroke="#8a8e3a" stroke-width="0.4"/>
<path d="M83.8 80.0L84.0 80.1" stroke="#161c26" stroke-opacity="0.8" stroke-width="0.45" fill="none"/>
<polygon points="113.6,77.7 118.7,79.1 120.9,76.4 115.8,75" fill="#82d7b0" stroke="#82d7b0" stroke-width="0.4"/>
<path d="M113.6 77.7L115.8 75.0M113.6 77.7L118.7 79.1" stroke="#161c26" stroke-opacity="0.8" stroke-width="0.45" fill="none"/>
<polygon points="86.7,61.5 86.7,62.9 89.4,60 89.4,58.7" fill="#ee8c37" stroke="#ee8c37" stroke-width="0.4"/>
<path d="M86.7 61.5L86.7 62.9" stroke="#161c26" stroke-opacity="0.8" stroke-width="0.45" fill="none"/>
<polygon points="88.5,71.2 89.5,72.3 89.2,71.4 88.2,70.3" fill="#5a6932" stroke="#5a6932" stroke-width="0.4"/>
<polygon points="61.4,82.4 66.2,85.4 69,81.8 64.2,78.8" fill="#67c8ff" stroke="#67c8ff" stroke-width="0.4"/>
<path d="M61.4 82.4L64.2 78.8M61.4 82.4L66.2 85.4" stroke="#161c26" stroke-opacity="0.8" stroke-width="0.45" fill="none"/>
<polygon points="87.9,70.4 88.5,71.1 88.2,70.3 87.6,69.6" fill="#60692d" stroke="#60692d" stroke-width="0.4"/>
<polygon points="96.2,76.2 101.2,77.8 100.4,77.4 95.4,75.8" fill="#3e634c" stroke="#3e634c" stroke-width="0.4"/>
<path d="M96.2 76.2L95.4 75.8" stroke="#161c26" stroke-opacity="0.8" stroke-width="0.45" fill="none"/>
<polygon points="126,77.8 131.2,79.2 133.2,76.4 128.1,75.1" fill="#86daad" stroke="#86daad" stroke-width="0.4"/>
<path d="M126.0 77.8L128.1 75.1M126.0 77.8L131.2 79.2" stroke="#161c26" stroke-opacity="0.8" stroke-width="0.45" fill="none"/>
<polygon points="78.9,70.4 83.7,72.6 83.8,71.2 79,69" fill="#7c8a3d" stroke="#7c8a3d" stroke-width="0.4"/>
<path d="M78.9 70.4L79.0 69.0" stroke="#161c26" stroke-opacity="0.8" stroke-width="0.45" fill="none"/>
<polygon points="86.3,60.6 86.3,62.2 88.4,58.6 88.5,57.2" fill="#e67631" stroke="#e67631" stroke-width="0.4"/>
<path d="M86.3 60.6L86.3 62.2" stroke="#161c26" stroke-opacity="0.8" stroke-width="0.45" fill="none"/>
<polygon points="84.8,80.1 87.7,79.8 87.9,77.4 85,77.6" fill="#42756c" stroke="#42756c" stroke-width="0.4"/>
<polygon points="90.5,73.5 95.4,75.8 95.1,74.8 90.2,72.6" fill="#4b683d" stroke="#4b683d" stroke-width="0.4"/>
<path d="M90.5 73.5L90.2 72.6" stroke="#161c26" stroke-opacity="0.8" stroke-width="0.45" fill="none"/>
<polygon points="87.3,69.6 87.9,70.3 87.5,69.4 86.9,68.7" fill="#66682b" stroke="#66682b" stroke-width="0.4"/>
<polygon points="86.2,87.6 91.1,85.7 92,83 87.1,84.6" fill="#345a99" stroke="#345a99" stroke-width="0.4"/>
<path d="M86.2 87.6L87.1 84.6M86.2 87.6L91.1 85.7" stroke="#161c26" stroke-opacity="0.8" stroke-width="0.45" fill="none"/>
<polygon points="86.7,60.1 86.7,61.5 89.4,58.7 89.4,57.4" fill="#ed7131" stroke="#ed7131" stroke-width="0.4"/>
<path d="M86.7 60.1L86.7 61.5" stroke="#161c26" stroke-opacity="0.8" stroke-width="0.45" fill="none"/>
<polygon points="48.9,80.9 53.7,83.3 56.6,79.7 51.9,77.4" fill="#77d8de" stroke="#77d8de" stroke-width="0.4"/>
<path d="M48.9 80.9L51.9 77.4M48.9 80.9L53.7 83.3" stroke="#161c26" stroke-opacity="0.8" stroke-width="0.45" fill="none"/>
<polygon points="89.2,71.6 90.2,72.6 90,71.6 89,70.6" fill="#5d6930" stroke="#5d6930" stroke-width="0.4"/>
<polygon points="79,69 83.8,71.2 84,69.8 79.1,67.5" fill="#888736" stroke="#888736" stroke-width="0.4"/>
<path d="M79.0 69.0L79.1 67.5M79.1 67.5L84.0 69.8" stroke="#161c26" stroke-opacity="0.8" stroke-width="0.45" fill="none"/>
<polygon points="36.5,80.2 41.2,82.4 44.2,78.6 39.6,76.5" fill="#7cddce" stroke="#7cddce" stroke-width="0.4"/>
<path d="M36.5 80.2L39.6 76.5M36.5 80.2L41.2 82.4" stroke="#161c26" stroke-opacity="0.8" stroke-width="0.45" fill="none"/>
<polygon points="66.2,85.4 71.1,88.6 73.8,85.3 69,81.8" fill="#5ea5ff" stroke="#5ea5ff" stroke-width="0.4"/>
<path d="M66.2 85.4L69.0 81.8M66.2 85.4L71.1 88.6" stroke="#161c26" stroke-opacity="0.8" stroke-width="0.45" fill="none"/>
<polygon points="87.1,84.6 92,83 92.3,80.9 87.4,82.1" fill="#366881" stroke="#366881" stroke-width="0.4"/>
<path d="M87.1 84.6L87.4 82.1" stroke="#161c26" stroke-opacity="0.8" stroke-width="0.45" fill="none"/>
<polygon points="86.4,58.9 86.3,60.6 88.5,57.2 88.6,55.9" fill="#e3522b" stroke="#e3522b" stroke-width="0.4"/>
<path d="M86.4 58.9L86.3 60.6" stroke="#161c26" stroke-opacity="0.8" stroke-width="0.45" fill="none"/>
<polygon points="88.2,70.3 89.2,71.4 88.9,70.3 87.9,69.3" fill="#65682b" stroke="#65682b" stroke-width="0.4"/>
<polygon points="87.6,69.6 88.2,70.3 87.9,69.3 87.3,68.7" fill="#6a6729" stroke="#6a6729" stroke-width="0.4"/>
<polygon points="106.2,79.1 111.3,80.5 113.6,77.7 108.5,76.4" fill="#81d6b0" stroke="#81d6b0" stroke-width="0.4"/>
<path d="M106.2 79.1L108.5 76.4M106.2 79.1L111.3 80.5" stroke="#161c26" stroke-opacity="0.8" stroke-width="0.45" fill="none"/>
<polygon points="85,77.6 87.9,77.4 88.1,75.1 85.2,75.1" fill="#557d52" stroke="#557d52" stroke-width="0.4"/>
<polygon points="90.2,72.6 95.1,74.8 94.9,73.6 90,71.6" fill="#576934" stroke="#576934" stroke-width="0.4"/>
<path d="M90.2 72.6L90.0 71.6" stroke="#161c26" stroke-opacity="0.8" stroke-width="0.45" fill="none"/>
<polygon points="86.7,58.7 86.7,60.1 89.4,57.4 89.4,56" fill="#e94d2b" stroke="#e94d2b" stroke-width="0.4"/>
<path d="M86.7 58.7L86.7 60.1" stroke="#161c26" stroke-opacity="0.8" stroke-width="0.45" fill="none"/>
<polygon points="86.9,68.7 87.5,69.4 87.3,68.4 86.7,67.8" fill="#706626" stroke="#706626" stroke-width="0.4"/>
<polygon points="118.7,79.1 123.9,80.6 126,77.8 120.9,76.4" fill="#86d9ad" stroke="#86d9ad" stroke-width="0.4"/>
<path d="M118.7 79.1L120.9 76.4M118.7 79.1L123.9 80.6" stroke="#161c26" stroke-opacity="0.8" stroke-width="0.45" fill="none"/>
<polygon points="95.4,75.8 100.4,77.4 100.2,76.3 95.1,74.8" fill="#48673f" stroke="#48673f" stroke-width="0.4"/>
<path d="M95.4 75.8L95.1 74.8" stroke="#161c26" stroke-opacity="0.8" stroke-width="0.45" fill="none"/>
<polygon points="89,70.6 90,71.6 89.8,70.5 88.8,69.6" fill="#67682a" stroke="#67682a" stroke-width="0.4"/>
<polygon points="53.7,83.3 58.5,86 61.4,82.4 56.6,79.7" fill="#6dcdf3" stroke="#6dcdf3" stroke-width="0.4"/>
<path d="M53.7 83.3L56.6 79.7M53.7 83.3L58.5 86.0" stroke="#161c26" stroke-opacity="0.8" stroke-width="0.45" fill="none"/>
<polygon points="87.4,82.1 92.3,80.9 92.6,78.8 87.7,79.8" fill="#41746d" stroke="#41746d" stroke-width="0.4"/>
<path d="M87.4 82.1L87.7 79.8" stroke="#161c26" stroke-opacity="0.8" stroke-width="0.45" fill="none"/>
<polygon points="77.6,94.9 80.9,94.8 83.5,91.3 80.4,91.8" fill="#5529ab" stroke="#5529ab" stroke-width="0.4"/>
<path d="M77.6 94.9L80.9 94.8" stroke="#161c26" stroke-opacity="0.8" stroke-width="0.45" fill="none"/>
<polygon points="101.2,77.8 106.2,79.1 105.5,78.6 100.4,77.4" fill="#3f634b" stroke="#3f634b" stroke-width="0.4"/>
<path d="M101.2 77.8L100.4 77.4" stroke="#161c26" stroke-opacity="0.8" stroke-width="0.45" fill="none"/>
<polygon points="83.5,91.3 88.5,89.7 91.1,85.7 86.2,87.6" fill="#3952b3" stroke="#3952b3" stroke-width="0.4"/>
<path d="M83.5 91.3L86.2 87.6M83.5 91.3L88.5 89.7" stroke="#161c26" stroke-opacity="0.8" stroke-width="0.45" fill="none"/>
<polygon points="86.5,57.3 86.4,58.9 88.6,55.9 88.9,54.6" fill="#dc2823" stroke="#dc2823" stroke-width="0.4"/>
<path d="M86.5 57.3L86.4 58.9" stroke="#161c26" stroke-opacity="0.8" stroke-width="0.45" fill="none"/>
<polygon points="71.1,88.6 75.9,90.3 78.7,87.1 73.8,85.3" fill="#5183ff" stroke="#5183ff" stroke-width="0.4"/>
<path d="M71.1 88.6L73.8 85.3M71.1 88.6L75.9 90.3" stroke="#161c26" stroke-opacity="0.8" stroke-width="0.45" fill="none"/>
<polygon points="28.7,81.8 33.3,83.9 36.5,80.2 31.9,78.2" fill="#79d9d1" stroke="#79d9d1" stroke-width="0.4"/>
<path d="M28.7 81.8L33.3 83.9" stroke="#161c26" stroke-opacity="0.8" stroke-width="0.45" fill="none"/>
<polygon points="87.9,69.3 88.9,70.3 88.7,69.2 87.7,68.3" fill="#6f6626" stroke="#6f6626" stroke-width="0.4"/>
<polygon points="87.3,68.7 87.9,69.3 87.7,68.3 87.1,67.8" fill="#736524" stroke="#736524" stroke-width="0.4"/>
<polygon points="86.7,57.3 86.7,58.7 89.4,56 89.4,54.7" fill="#e52724" stroke="#e52724" stroke-width="0.4"/>
<path d="M86.7 57.3L86.7 58.7" stroke="#161c26" stroke-opacity="0.8" stroke-width="0.45" fill="none"/>
<polygon points="41.2,82.4 45.9,84.7 48.9,80.9 44.2,78.6" fill="#76d6db" stroke="#76d6db" stroke-width="0.4"/>
<path d="M41.2 82.4L44.2 78.6M41.2 82.4L45.9 84.7" stroke="#161c26" stroke-opacity="0.8" stroke-width="0.45" fill="none"/>
<polygon points="85.2,75.1 88.1,75.1 88.3,72.8 85.3,72.6" fill="#6c803f" stroke="#6c803f" stroke-width="0.4"/>
<polygon points="90,71.6 94.9,73.6 94.8,72.4 89.8,70.5" fill="#646a2d" stroke="#646a2d" stroke-width="0.4"/>
<path d="M90.0 71.6L89.8 70.5" stroke="#161c26" stroke-opacity="0.8" stroke-width="0.45" fill="none"/>
<polygon points="86.7,67.8 87.3,68.4 87,67.3 86.4,66.8" fill="#776123" stroke="#776123" stroke-width="0.4"/>
<polygon points="88.8,69.6 89.8,70.5 89.6,69.3 88.6,68.6" fill="#716625" stroke="#716625" stroke-width="0.4"/>
<polygon points="87.7,79.8 92.6,78.8 92.8,76.8 87.9,77.4" fill="#527c56" stroke="#527c56" stroke-width="0.4"/>
<path d="M87.7 79.8L87.9 77.4" stroke="#161c26" stroke-opacity="0.8" stroke-width="0.45" fill="none"/>
<polygon points="58.5,86 63.3,88.9 66.2,85.4 61.4,82.4" fill="#63bbff" stroke="#63bbff" stroke-width="0.4"/>
<path d="M58.5 86.0L61.4 82.4M58.5 86.0L63.3 88.9" stroke="#161c26" stroke-opacity="0.8" stroke-width="0.45" fill="none"/>
<polygon points="95.1,74.8 100.2,76.3 100,75.1 94.9,73.6" fill="#576b37" stroke="#576b37" stroke-width="0.4"/>
<path d="M95.1 74.8L94.9 73.6" stroke="#161c26" stroke-opacity="0.8" stroke-width="0.45" fill="none"/>
<polygon points="111.3,80.5 116.5,81.9 118.7,79.1 113.6,77.7" fill="#85d9ac" stroke="#85d9ac" stroke-width="0.4"/>
<path d="M111.3 80.5L113.6 77.7M111.3 80.5L116.5 81.9" stroke="#161c26" stroke-opacity="0.8" stroke-width="0.45" fill="none"/>
<polygon points="87.1,67.8 87.7,68.3 87.5,67.3 86.9,66.8" fill="#785f22" stroke="#785f22" stroke-width="0.4"/>
<polygon points="87.7,68.3 88.7,69.2 88.5,68 87.5,67.3" fill="#776123" stroke="#776123" stroke-width="0.4"/>
<polygon points="123.9,80.6 129.1,82 131.2,79.2 126,77.8" fill="#89dbaa" stroke="#89dbaa" stroke-width="0.4"/>
<path d="M123.9 80.6L126.0 77.8M123.9 80.6L129.1 82.0" stroke="#161c26" stroke-opacity="0.8" stroke-width="0.45" fill="none"/>
<polygon points="45.9,84.7 50.6,87.2 53.7,83.3 48.9,80.9" fill="#6ecdeb" stroke="#6ecdeb" stroke-width="0.4"/>
<path d="M45.9 84.7L48.9 80.9M45.9 84.7L50.6 87.2" stroke="#161c26" stroke-opacity="0.8" stroke-width="0.45" fill="none"/>
<polygon points="85.3,72.6 88.3,72.8 88.4,70.4 85.5,70.1" fill="#827e32" stroke="#827e32" stroke-width="0.4"/>
<polygon points="100.4,77.4 105.5,78.6 105.3,77.5 100.2,76.3" fill="#4b693f" stroke="#4b693f" stroke-width="0.4"/>
<path d="M100.4 77.4L100.2 76.3" stroke="#161c26" stroke-opacity="0.8" stroke-width="0.45" fill="none"/>
<polygon points="89.8,70.5 94.8,72.4 94.6,71.2 89.6,69.3" fill="#716a28" stroke="#716a28" stroke-width="0.4"/>
<path d="M89.8 70.5L89.6 69.3" stroke="#161c26" stroke-opacity="0.8" stroke-width="0.45" fill="none"/>
<polygon points="33.3,83.9 38,86.1 41.2,82.4 36.5,80.2" fill="#74d3dd" stroke="#74d3dd" stroke-width="0.4"/>
<path d="M33.3 83.9L36.5 80.2M33.3 83.9L38.0 86.1" stroke="#161c26" stroke-opacity="0.8" stroke-width="0.45" fill="none"/>
<polygon points="86.4,66.8 87,67.3 86.8,66.2 86.2,65.8" fill="#7c5a21" stroke="#7c5a21" stroke-width="0.4"/>
<polygon points="87.9,77.4 92.8,76.8 93,74.8 88.1,75.1" fill="#657f44" stroke="#657f44" stroke-width="0.4"/>
<path d="M87.9 77.4L88.1 75.1" stroke="#161c26" stroke-opacity="0.8" stroke-width="0.45" fill="none"/>
<polygon points="88.6,68.6 89.6,69.3 89.5,68.2 88.5,67.5" fill="#786022" stroke="#786022" stroke-width="0.4"/>
<polygon points="63.3,88.9 68.2,91.7 71.1,88.6 66.2,85.4" fill="#5a9aff" stroke="#5a9aff" stroke-width="0.4"/>
<path d="M63.3 88.9L66.2 85.4M63.3 88.9L68.2 91.7" stroke="#161c26" stroke-opacity="0.8" stroke-width="0.45" fill="none"/>
<polygon points="106.2,79.1 111.3,80.5 110.6,80 105.5,78.6" fill="#416449" stroke="#416449" stroke-width="0.4"/>
<path d="M106.2 79.1L105.5 78.6" stroke="#161c26" stroke-opacity="0.8" stroke-width="0.45" fill="none"/>
<polygon points="94.9,73.6 100,75.1 99.8,73.9 94.8,72.4" fill="#656d2f" stroke="#656d2f" stroke-width="0.4"/>
<path d="M94.9 73.6L94.8 72.4" stroke="#161c26" stroke-opacity="0.8" stroke-width="0.45" fill="none"/>
<polygon points="86.9,66.8 87.5,67.3 87.4,66.2 86.8,65.8" fill="#7d5920" stroke="#7d5920" stroke-width="0.4"/>
<polygon points="91.1,85.7 96.2,84.9 97,82.4 92,83" fill="#498691" stroke="#498691" stroke-width="0.4"/>
<path d="M91.1 85.7L92.0 83.0M91.1 85.7L96.2 84.9" stroke="#161c26" stroke-opacity="0.8" stroke-width="0.45" fill="none"/>
<polygon points="87.5,67.3 88.5,68 88.4,66.8 87.4,66.2" fill="#7c5a21" stroke="#7c5a21" stroke-width="0.4"/>
<polygon points="92,83 97,82.4 97.3,80.5 92.3,80.9" fill="#4a7e6a" stroke="#4a7e6a" stroke-width="0.4"/>
<path d="M92.0 83.0L92.3 80.9" stroke="#161c26" stroke-opacity="0.8" stroke-width="0.45" fill="none"/>
<polygon points="89.6,69.3 94.6,71.2 94.5,69.9 89.5,68.2" fill="#7b6624" stroke="#7b6624" stroke-width="0.4"/>
<path d="M89.6 69.3L89.5 68.2" stroke="#161c26" stroke-opacity="0.8" stroke-width="0.45" fill="none"/>
<polygon points="86.2,65.8 86.8,66.2 86.7,65 86.1,64.7" fill="#7f4f1e" stroke="#7f4f1e" stroke-width="0.4"/>
<polygon points="50.6,87.2 55.5,89.8 58.5,86 53.7,83.3" fill="#64c2ff" stroke="#64c2ff" stroke-width="0.4"/>
<path d="M50.6 87.2L53.7 83.3M50.6 87.2L55.5 89.8" stroke="#161c26" stroke-opacity="0.8" stroke-width="0.45" fill="none"/>
<polygon points="85.5,70.1 88.4,70.4 88.6,68.1 85.7,67.6" fill="#92752a" stroke="#92752a" stroke-width="0.4"/>
<polygon points="88.1,75.1 93,74.8 93.2,72.8 88.3,72.8" fill="#797f35" stroke="#797f35" stroke-width="0.4"/>
<path d="M88.1 75.1L88.3 72.8" stroke="#161c26" stroke-opacity="0.8" stroke-width="0.45" fill="none"/>
<polygon points="88.5,67.5 89.5,68.2 89.3,67 88.3,66.4" fill="#7e5a21" stroke="#7e5a21" stroke-width="0.4"/>
<polygon points="100.2,76.3 105.3,77.5 105.1,76.4 100,75.1" fill="#5a6d37" stroke="#5a6d37" stroke-width="0.4"/>
<path d="M100.2 76.3L100.0 75.1" stroke="#161c26" stroke-opacity="0.8" stroke-width="0.45" fill="none"/>
<polygon points="80.9,94.8 85.8,93.5 88.5,89.7 83.5,91.3" fill="#3b48b3" stroke="#3b48b3" stroke-width="0.4"/>
<path d="M80.9 94.8L83.5 91.3M80.9 94.8L85.8 93.5" stroke="#161c26" stroke-opacity="0.8" stroke-width="0.45" fill="none"/>
<polygon points="116.5,81.9 121.7,83.4 123.9,80.6 118.7,79.1" fill="#89dba9" stroke="#89dba9" stroke-width="0.4"/>
<path d="M116.5 81.9L118.7 79.1M116.5 81.9L121.7 83.4" stroke="#161c26" stroke-opacity="0.8" stroke-width="0.45" fill="none"/>
<polygon points="38,86.1 42.7,88.5 45.9,84.7 41.2,82.4" fill="#6dccea" stroke="#6dccea" stroke-width="0.4"/>
<path d="M38.0 86.1L41.2 82.4M38.0 86.1L42.7 88.5" stroke="#161c26" stroke-opacity="0.8" stroke-width="0.45" fill="none"/>
<polygon points="86.8,65.8 87.4,66.2 87.2,65.1 86.6,64.8" fill="#7f4d1e" stroke="#7f4d1e" stroke-width="0.4"/>
<polygon points="25.3,85.4 30,87.5 33.3,83.9 28.7,81.8" fill="#72d1dd" stroke="#72d1dd" stroke-width="0.4"/>
<path d="M25.3 85.4L30.0 87.5" stroke="#161c26" stroke-opacity="0.8" stroke-width="0.45" fill="none"/>
<polygon points="74.7,97.8 78.1,98 80.9,94.8 77.6,94.9" fill="#5b2bb4" stroke="#5b2bb4" stroke-width="0.4"/>
<path d="M74.7 97.8L78.1 98.0" stroke="#161c26" stroke-opacity="0.8" stroke-width="0.45" fill="none"/>
<polygon points="92.3,80.9 97.3,80.5 97.6,78.7 92.6,78.8" fill="#588154" stroke="#588154" stroke-width="0.4"/>
<path d="M92.3 80.9L92.6 78.8" stroke="#161c26" stroke-opacity="0.8" stroke-width="0.45" fill="none"/>
<polygon points="68.2,91.7 73.1,93.5 75.9,90.3 71.1,88.6" fill="#5081ff" stroke="#5081ff" stroke-width="0.4"/>
<path d="M68.2 91.7L71.1 88.6M68.2 91.7L73.1 93.5" stroke="#161c26" stroke-opacity="0.8" stroke-width="0.45" fill="none"/>
<polygon points="87.4,66.2 88.4,66.8 88.2,65.6 87.2,65.1" fill="#80501e" stroke="#80501e" stroke-width="0.4"/>
<polygon points="94.8,72.4 99.8,73.9 99.7,72.6 94.6,71.2" fill="#726c29" stroke="#726c29" stroke-width="0.4"/>
<path d="M94.8 72.4L94.6 71.2" stroke="#161c26" stroke-opacity="0.8" stroke-width="0.45" fill="none"/>
<polygon points="105.5,78.6 110.6,80 110.5,78.9 105.3,77.5" fill="#4d6a3d" stroke="#4d6a3d" stroke-width="0.4"/>
<path d="M105.5 78.6L105.3 77.5" stroke="#161c26" stroke-opacity="0.8" stroke-width="0.45" fill="none"/>
<polygon points="88.5,89.7 93.6,88.8 96.2,84.9 91.1,85.7" fill="#4789b1" stroke="#4789b1" stroke-width="0.4"/>
<path d="M88.5 89.7L91.1 85.7M88.5 89.7L93.6 88.8" stroke="#161c26" stroke-opacity="0.8" stroke-width="0.45" fill="none"/>
<polygon points="89.5,68.2 94.5,69.9 94.4,68.6 89.3,67" fill="#825f22" stroke="#825f22" stroke-width="0.4"/>
<path d="M89.5 68.2L89.3 67.0" stroke="#161c26" stroke-opacity="0.8" stroke-width="0.45" fill="none"/>
<polygon points="86.1,64.7 86.7,65 86.5,63.8 85.9,63.6" fill="#80421c" stroke="#80421c" stroke-width="0.4"/>
<polygon points="88.3,66.4 89.3,67 89.2,65.8 88.2,65.3" fill="#82501f" stroke="#82501f" stroke-width="0.4"/>
<polygon points="88.3,72.8 93.2,72.8 93.4,70.8 88.4,70.4" fill="#8c7b2c" stroke="#8c7b2c" stroke-width="0.4"/>
<path d="M88.3 72.8L88.4 70.4" stroke="#161c26" stroke-opacity="0.8" stroke-width="0.45" fill="none"/>
<polygon points="111.3,80.5 116.5,81.9 115.9,81.4 110.6,80" fill="#426547" stroke="#426547" stroke-width="0.4"/>
<path d="M111.3 80.5L110.6 80.0" stroke="#161c26" stroke-opacity="0.8" stroke-width="0.45" fill="none"/>
<polygon points="55.5,89.8 60.4,92.7 63.3,88.9 58.5,86" fill="#5eabff" stroke="#5eabff" stroke-width="0.4"/>
<path d="M55.5 89.8L58.5 86.0M55.5 89.8L60.4 92.7" stroke="#161c26" stroke-opacity="0.8" stroke-width="0.45" fill="none"/>
<polygon points="85.7,67.6 88.6,68.1 88.8,65.7 85.8,65.1" fill="#9a6225" stroke="#9a6225" stroke-width="0.4"/>
<polygon points="100,75.1 105.1,76.4 105,75.1 99.8,73.9" fill="#676e2e" stroke="#676e2e" stroke-width="0.4"/>
<path d="M100.0 75.1L99.8 73.9" stroke="#161c26" stroke-opacity="0.8" stroke-width="0.45" fill="none"/>
<polygon points="92.6,78.8 97.6,78.7 97.8,76.9 92.8,76.8" fill="#698344" stroke="#698344" stroke-width="0.4"/>
<path d="M92.6 78.8L92.8 76.8" stroke="#161c26" stroke-opacity="0.8" stroke-width="0.45" fill="none"/>
<polygon points="86.6,64.8 87.2,65.1 87.1,63.9 86.5,63.7" fill="#81411c" stroke="#81411c" stroke-width="0.4"/>
<polygon points="87.2,65.1 88.2,65.6 88.1,64.3 87.1,63.9" fill="#82431c" stroke="#82431c" stroke-width="0.4"/>
<polygon points="94.6,71.2 99.7,72.6 99.6,71.3 94.5,69.9" fill="#7d6825" stroke="#7d6825" stroke-width="0.4"/>
<path d="M94.6 71.2L94.5 69.9" stroke="#161c26" stroke-opacity="0.8" stroke-width="0.45" fill="none"/>
<polygon points="42.7,88.5 47.5,90.9 50.6,87.2 45.9,84.7" fill="#65c3f9" stroke="#65c3f9" stroke-width="0.4"/>
<path d="M42.7 88.5L45.9 84.7M42.7 88.5L47.5 90.9" stroke="#161c26" stroke-opacity="0.8" stroke-width="0.45" fill="none"/>
<polygon points="30,87.5 34.7,89.8 38,86.1 33.3,83.9" fill="#6dcbe9" stroke="#6dcbe9" stroke-width="0.4"/>
<path d="M30.0 87.5L33.3 83.9M30.0 87.5L34.7 89.8" stroke="#161c26" stroke-opacity="0.8" stroke-width="0.45" fill="none"/>
<polygon points="88.2,65.3 89.2,65.8 89.1,64.5 88.1,64.2" fill="#84421c" stroke="#84421c" stroke-width="0.4"/>
<polygon points="85.9,63.6 86.5,63.8 86.4,62.6 85.8,62.5" fill="#813219" stroke="#813219" stroke-width="0.4"/>
<path d="M85.8 62.5L86.4 62.6" stroke="#161c26" stroke-opacity="0.8" stroke-width="0.45" fill="none"/>
<polygon points="89.3,67 94.4,68.6 94.3,67.2 89.2,65.8" fill="#855420" stroke="#855420" stroke-width="0.4"/>
<path d="M89.3 67.0L89.2 65.8" stroke="#161c26" stroke-opacity="0.8" stroke-width="0.45" fill="none"/>
<polygon points="105.3,77.5 110.5,78.9 110.3,77.7 105.1,76.4" fill="#5c6d35" stroke="#5c6d35" stroke-width="0.4"/>
<path d="M105.3 77.5L105.1 76.4" stroke="#161c26" stroke-opacity="0.8" stroke-width="0.45" fill="none"/>
<polygon points="92.8,76.8 97.8,76.9 98,75.1 93,74.8" fill="#7a8237" stroke="#7a8237" stroke-width="0.4"/>
<path d="M92.8 76.8L93.0 74.8" stroke="#161c26" stroke-opacity="0.8" stroke-width="0.45" fill="none"/>
<polygon points="88.4,70.4 93.4,70.8 93.5,68.8 88.6,68.1" fill="#966f28" stroke="#966f28" stroke-width="0.4"/>
<path d="M88.4 70.4L88.6 68.1" stroke="#161c26" stroke-opacity="0.8" stroke-width="0.45" fill="none"/>
<polygon points="86.5,63.7 87.1,63.9 87,62.8 86.4,62.6" fill="#823119" stroke="#823119" stroke-width="0.4"/>
<path d="M86.4 62.6L87.0 62.8" stroke="#161c26" stroke-opacity="0.8" stroke-width="0.45" fill="none"/>
<polygon points="60.4,92.7 65.3,95 68.2,91.7 63.3,88.9" fill="#568fff" stroke="#568fff" stroke-width="0.4"/>
<path d="M60.4 92.7L63.3 88.9M60.4 92.7L65.3 95.0" stroke="#161c26" stroke-opacity="0.8" stroke-width="0.45" fill="none"/>
<polygon points="121.7,83.4 127.1,84.2 129.1,82 123.9,80.6" fill="#85ce97" stroke="#85ce97" stroke-width="0.4"/>
<path d="M121.7 83.4L123.9 80.6M121.7 83.4L127.1 84.2" stroke="#161c26" stroke-opacity="0.8" stroke-width="0.45" fill="none"/>
<polygon points="99.8,73.9 105,75.1 104.9,73.8 99.7,72.6" fill="#746c29" stroke="#746c29" stroke-width="0.4"/>
<path d="M99.8 73.9L99.7 72.6" stroke="#161c26" stroke-opacity="0.8" stroke-width="0.45" fill="none"/>
<polygon points="85.8,65.1 88.8,65.7 88.9,63.4 85.9,62.6" fill="#99421f" stroke="#99421f" stroke-width="0.4"/>
<path d="M85.9 62.6L88.9 63.4" stroke="#161c26" stroke-opacity="0.8" stroke-width="0.45" fill="none"/>
<polygon points="87.1,63.9 88.1,64.3 88,63 87,62.8" fill="#833219" stroke="#833219" stroke-width="0.4"/>
<path d="M87.0 62.8L88.0 63.0" stroke="#161c26" stroke-opacity="0.8" stroke-width="0.45" fill="none"/>
<polygon points="96.2,84.9 101.3,85.1 102.1,82.8 97,82.4" fill="#63a384" stroke="#63a384" stroke-width="0.4"/>
<path d="M96.2 84.9L97.0 82.4M96.2 84.9L101.3 85.1" stroke="#161c26" stroke-opacity="0.8" stroke-width="0.45" fill="none"/>
<polygon points="110.6,80 115.9,81.4 115.7,80.3 110.5,78.9" fill="#4f6a3c" stroke="#4f6a3c" stroke-width="0.4"/>
<path d="M110.6 80.0L110.5 78.9" stroke="#161c26" stroke-opacity="0.8" stroke-width="0.45" fill="none"/>
<polygon points="94.5,69.9 99.6,71.3 99.6,69.9 94.4,68.6" fill="#836023" stroke="#836023" stroke-width="0.4"/>
<path d="M94.5 69.9L94.4 68.6" stroke="#161c26" stroke-opacity="0.8" stroke-width="0.45" fill="none"/>
<polygon points="97,82.4 102.1,82.8 102.4,81 97.3,80.5" fill="#5f8a59" stroke="#5f8a59" stroke-width="0.4"/>
<path d="M97.0 82.4L97.3 80.5" stroke="#161c26" stroke-opacity="0.8" stroke-width="0.45" fill="none"/>
<polygon points="88.1,64.2 89.1,64.5 89,63.3 88,63" fill="#843119" stroke="#843119" stroke-width="0.4"/>
<path d="M88.0 63.0L89.0 63.3" stroke="#161c26" stroke-opacity="0.8" stroke-width="0.45" fill="none"/>
<polygon points="93,74.8 98,75.1 98.2,73.4 93.2,72.8" fill="#897e2f" stroke="#897e2f" stroke-width="0.4"/>
<path d="M93.0 74.8L93.2 72.8" stroke="#161c26" stroke-opacity="0.8" stroke-width="0.45" fill="none"/>
<polygon points="47.5,90.9 52.4,93.6 55.5,89.8 50.6,87.2" fill="#60b3ff" stroke="#60b3ff" stroke-width="0.4"/>
<path d="M47.5 90.9L50.6 87.2M47.5 90.9L52.4 93.6" stroke="#161c26" stroke-opacity="0.8" stroke-width="0.45" fill="none"/>
<polygon points="116.5,81.9 121.7,83.4 121.2,82.8 115.9,81.4" fill="#446545" stroke="#446545" stroke-width="0.4"/>
<path d="M116.5 81.9L115.9 81.4" stroke="#161c26" stroke-opacity="0.8" stroke-width="0.45" fill="none"/>
<polygon points="89.2,65.8 94.3,67.2 94.2,65.9 89.1,64.5" fill="#86441d" stroke="#86441d" stroke-width="0.4"/>
<path d="M89.2 65.8L89.1 64.5" stroke="#161c26" stroke-opacity="0.8" stroke-width="0.45" fill="none"/>
<polygon points="85.9,62.6 88.9,63.4 89,63.3 86,62.5" fill="#d4d4d4" stroke="#d4d4d4" stroke-width="0.4"/>
<polygon points="88.6,68.1 93.5,68.8 93.7,66.8 88.8,65.7" fill="#995a23" stroke="#995a23" stroke-width="0.4"/>
<path d="M88.6 68.1L88.8 65.7" stroke="#161c26" stroke-opacity="0.8" stroke-width="0.45" fill="none"/>
<polygon points="105.1,76.4 110.3,77.7 110.3,76.4 105,75.1" fill="#6a6e2d" stroke="#6a6e2d" stroke-width="0.4"/>
<path d="M105.1 76.4L105.0 75.1" stroke="#161c26" stroke-opacity="0.8" stroke-width="0.45" fill="none"/>
<polygon points="34.7,89.8 39.5,92.2 42.7,88.5 38,86.1" fill="#66c3f5" stroke="#66c3f5" stroke-width="0.4"/>
<path d="M34.7 89.8L38.0 86.1M34.7 89.8L39.5 92.2" stroke="#161c26" stroke-opacity="0.8" stroke-width="0.45" fill="none"/>
<polygon points="78.1,98 83.1,97.1 85.8,93.5 80.9,94.8" fill="#3e44b6" stroke="#3e44b6" stroke-width="0.4"/>
<path d="M78.1 98.0L80.9 94.8M78.1 98.0L83.1 97.1" stroke="#161c26" stroke-opacity="0.8" stroke-width="0.45" fill="none"/>
<polygon points="21.9,89 26.6,91.2 30,87.5 25.3,85.4" fill="#6ccae8" stroke="#6ccae8" stroke-width="0.4"/>
<polygon points="97.3,80.5 102.4,81 102.6,79.3 97.6,78.7" fill="#6b8747" stroke="#6b8747" stroke-width="0.4"/>
<path d="M97.3 80.5L97.6 78.7" stroke="#161c26" stroke-opacity="0.8" stroke-width="0.45" fill="none"/>
<polygon points="99.7,72.6 104.9,73.8 104.9,72.5 99.6,71.3" fill="#7e6825" stroke="#7e6825" stroke-width="0.4"/>
<path d="M99.7 72.6L99.6 71.3" stroke="#161c26" stroke-opacity="0.8" stroke-width="0.45" fill="none"/>
<polygon points="65.3,95 70.2,97 73.1,93.5 68.2,91.7" fill="#517fff" stroke="#517fff" stroke-width="0.4"/>
<path d="M65.3 95.0L68.2 91.7M65.3 95.0L70.2 97.0" stroke="#161c26" stroke-opacity="0.8" stroke-width="0.45" fill="none"/>
<polygon points="85.8,93.5 90.9,92.7 93.6,88.8 88.5,89.7" fill="#447fb8" stroke="#447fb8" stroke-width="0.4"/>
<path d="M85.8 93.5L88.5 89.7M85.8 93.5L90.9 92.7" stroke="#161c26" stroke-opacity="0.8" stroke-width="0.45" fill="none"/>
<polygon points="93.2,72.8 98.2,73.4 98.4,71.6 93.4,70.8" fill="#94752a" stroke="#94752a" stroke-width="0.4"/>
<path d="M93.2 72.8L93.4 70.8" stroke="#161c26" stroke-opacity="0.8" stroke-width="0.45" fill="none"/>
<polygon points="94.4,68.6 99.6,69.9 99.5,68.6 94.3,67.2" fill="#875420" stroke="#875420" stroke-width="0.4"/>
<path d="M94.4 68.6L94.3 67.2" stroke="#161c26" stroke-opacity="0.8" stroke-width="0.45" fill="none"/>
<polygon points="71.7,100.7 75.3,101.2 78.1,98 74.7,97.8" fill="#5b2ec0" stroke="#5b2ec0" stroke-width="0.4"/>
<path d="M71.7 100.7L75.3 101.2" stroke="#161c26" stroke-opacity="0.8" stroke-width="0.45" fill="none"/>
<polygon points="110.5,78.9 115.7,80.3 115.6,79.1 110.3,77.7" fill="#5e6d33" stroke="#5e6d33" stroke-width="0.4"/>
<path d="M110.5 78.9L110.3 77.7" stroke="#161c26" stroke-opacity="0.8" stroke-width="0.45" fill="none"/>
<polygon points="93.6,88.8 98.8,89 101.3,85.1 96.2,84.9" fill="#63b2aa" stroke="#63b2aa" stroke-width="0.4"/>
<path d="M93.6 88.8L96.2 84.9M93.6 88.8L98.8 89.0" stroke="#161c26" stroke-opacity="0.8" stroke-width="0.45" fill="none"/>
<polygon points="89.1,64.5 94.2,65.9 94.1,64.5 89,63.3" fill="#853019" stroke="#853019" stroke-width="0.4"/>
<path d="M89.1 64.5L89.0 63.3M89.0 63.3L94.1 64.5" stroke="#161c26" stroke-opacity="0.8" stroke-width="0.45" fill="none"/>
<polygon points="97.6,78.7 102.6,79.3 102.9,77.6 97.8,76.9" fill="#7a863a" stroke="#7a863a" stroke-width="0.4"/>
<path d="M97.6 78.7L97.8 76.9" stroke="#161c26" stroke-opacity="0.8" stroke-width="0.45" fill="none"/>
<polygon points="52.4,93.6 57.3,96.3 60.4,92.7 55.5,89.8" fill="#5b9dff" stroke="#5b9dff" stroke-width="0.4"/>
<path d="M52.4 93.6L55.5 89.8M52.4 93.6L57.3 96.3" stroke="#161c26" stroke-opacity="0.8" stroke-width="0.45" fill="none"/>
<polygon points="88.8,65.7 93.7,66.8 93.9,64.8 88.9,63.4" fill="#983c1e" stroke="#983c1e" stroke-width="0.4"/>
<path d="M88.8 65.7L88.9 63.4M88.9 63.4L93.9 64.8" stroke="#161c26" stroke-opacity="0.8" stroke-width="0.45" fill="none"/>
<polygon points="105,75.1 110.3,76.4 110.2,75.1 104.9,73.8" fill="#766c28" stroke="#766c28" stroke-width="0.4"/>
<path d="M105.0 75.1L104.9 73.8" stroke="#161c26" stroke-opacity="0.8" stroke-width="0.45" fill="none"/>
<polygon points="115.9,81.4 121.2,82.8 121.1,81.7 115.7,80.3" fill="#516a3b" stroke="#516a3b" stroke-width="0.4"/>
<path d="M115.9 81.4L115.7 80.3" stroke="#161c26" stroke-opacity="0.8" stroke-width="0.45" fill="none"/>
<polygon points="99.6,71.3 104.9,72.5 104.8,71.2 99.6,69.9" fill="#856023" stroke="#856023" stroke-width="0.4"/>
<path d="M99.6 71.3L99.6 69.9" stroke="#161c26" stroke-opacity="0.8" stroke-width="0.45" fill="none"/>
<polygon points="88.9,63.4 93.9,64.8 94.1,64.5 89,63.3" fill="#d4d4d4" stroke="#d4d4d4" stroke-width="0.4"/>
<polygon points="39.5,92.2 44.4,94.7 47.5,90.9 42.7,88.5" fill="#61b8ff" stroke="#61b8ff" stroke-width="0.4"/>
<path d="M39.5 92.2L42.7 88.5M39.5 92.2L44.4 94.7" stroke="#161c26" stroke-opacity="0.8" stroke-width="0.45" fill="none"/>
<polygon points="93.4,70.8 98.4,71.6 98.6,69.8 93.5,68.8" fill="#9b6826" stroke="#9b6826" stroke-width="0.4"/>
<path d="M93.4 70.8L93.5 68.8" stroke="#161c26" stroke-opacity="0.8" stroke-width="0.45" fill="none"/>
<polygon points="97.8,76.9 102.9,77.6 103.1,76 98,75.1" fill="#878132" stroke="#878132" stroke-width="0.4"/>
<path d="M97.8 76.9L98.0 75.1" stroke="#161c26" stroke-opacity="0.8" stroke-width="0.45" fill="none"/>
<polygon points="94.3,67.2 99.5,68.6 99.4,67.2 94.2,65.9" fill="#87431d" stroke="#87431d" stroke-width="0.4"/>
<path d="M94.3 67.2L94.2 65.9" stroke="#161c26" stroke-opacity="0.8" stroke-width="0.45" fill="none"/>
<polygon points="26.6,91.2 31.4,93.5 34.7,89.8 30,87.5" fill="#67c3f2" stroke="#67c3f2" stroke-width="0.4"/>
<path d="M26.6 91.2L30.0 87.5" stroke="#161c26" stroke-opacity="0.8" stroke-width="0.45" fill="none"/>
<polygon points="110.3,77.7 115.6,79.1 115.6,77.8 110.3,76.4" fill="#6c6d2d" stroke="#6c6d2d" stroke-width="0.4"/>
<path d="M110.3 77.7L110.3 76.4" stroke="#161c26" stroke-opacity="0.8" stroke-width="0.45" fill="none"/>
<polygon points="121.7,83.4 127.1,84.2 126.6,83.7 121.2,82.8" fill="#476740" stroke="#476740" stroke-width="0.4"/>
<path d="M121.7 83.4L121.2 82.8" stroke="#161c26" stroke-opacity="0.8" stroke-width="0.45" fill="none"/>
<polygon points="101.3,85 106.6,85.3 107.3,83.2 102.1,82.8" fill="#75ab6f" stroke="#75ab6f" stroke-width="0.4"/>
<path d="M101.3 85.0L102.1 82.8M101.3 85.0L106.6 85.3" stroke="#161c26" stroke-opacity="0.8" stroke-width="0.45" fill="none"/>
<polygon points="104.9,73.8 110.2,75.1 110.1,73.8 104.9,72.5" fill="#7f6625" stroke="#7f6625" stroke-width="0.4"/>
<path d="M104.9 73.8L104.9 72.5" stroke="#161c26" stroke-opacity="0.8" stroke-width="0.45" fill="none"/>
<polygon points="57.3,96.3 62.3,98.5 65.3,95 60.4,92.7" fill="#5385ff" stroke="#5385ff" stroke-width="0.4"/>
<path d="M57.3 96.3L60.4 92.7M57.3 96.3L62.3 98.5" stroke="#161c26" stroke-opacity="0.8" stroke-width="0.45" fill="none"/>
<polygon points="102.1,82.8 107.3,83.2 107.6,81.5 102.4,81" fill="#6d8c4c" stroke="#6d8c4c" stroke-width="0.4"/>
<path d="M102.1 82.8L102.4 81.0" stroke="#161c26" stroke-opacity="0.8" stroke-width="0.45" fill="none"/>
<polygon points="93.5,68.8 98.6,69.8 98.7,68.1 93.7,66.8" fill="#9a5122" stroke="#9a5122" stroke-width="0.4"/>
<path d="M93.5 68.8L93.7 66.8" stroke="#161c26" stroke-opacity="0.8" stroke-width="0.45" fill="none"/>
<polygon points="98,75.1 103.1,76 103.3,74.4 98.2,73.4" fill="#927b2c" stroke="#927b2c" stroke-width="0.4"/>
<path d="M98.0 75.1L98.2 73.4" stroke="#161c26" stroke-opacity="0.8" stroke-width="0.45" fill="none"/>
<polygon points="99.6,69.9 104.8,71.2 104.7,69.8 99.5,68.6" fill="#875120" stroke="#875120" stroke-width="0.4"/>
<path d="M99.6 69.9L99.5 68.6" stroke="#161c26" stroke-opacity="0.8" stroke-width="0.45" fill="none"/>
<polygon points="115.7,80.3 121.1,81.7 121,80.5 115.6,79.1" fill="#606e32" stroke="#606e32" stroke-width="0.4"/>
<path d="M115.7 80.3L115.6 79.1" stroke="#161c26" stroke-opacity="0.8" stroke-width="0.45" fill="none"/>
<polygon points="94.2,65.9 99.4,67.2 99.4,65.8 94.1,64.5" fill="#852d19" stroke="#852d19" stroke-width="0.4"/>
<path d="M94.2 65.9L94.1 64.5M94.1 64.5L99.4 65.8" stroke="#161c26" stroke-opacity="0.8" stroke-width="0.45" fill="none"/>
<polygon points="44.4,94.7 49.3,97.3 52.4,93.6 47.5,90.9" fill="#5ca6ff" stroke="#5ca6ff" stroke-width="0.4"/>
<path d="M44.4 94.7L47.5 90.9M44.4 94.7L49.3 97.3" stroke="#161c26" stroke-opacity="0.8" stroke-width="0.45" fill="none"/>
<polygon points="102.4,81 107.6,81.5 107.8,80 102.6,79.3" fill="#78883d" stroke="#78883d" stroke-width="0.4"/>
<path d="M102.4 81.0L102.6 79.3" stroke="#161c26" stroke-opacity="0.8" stroke-width="0.45" fill="none"/>
<polygon points="110.3,76.4 115.6,77.8 115.5,76.5 110.2,75.1" fill="#796c27" stroke="#796c27" stroke-width="0.4"/>
<path d="M110.3 76.4L110.2 75.1" stroke="#161c26" stroke-opacity="0.8" stroke-width="0.45" fill="none"/>
<polygon points="31.4,93.5 36.2,95.9 39.5,92.2 34.7,89.8" fill="#61bbfd" stroke="#61bbfd" stroke-width="0.4"/>
<path d="M31.4 93.5L34.7 89.8" stroke="#161c26" stroke-opacity="0.8" stroke-width="0.45" fill="none"/>
<polygon points="98.2,73.4 103.3,74.4 103.4,72.7 98.4,71.6" fill="#997028" stroke="#997028" stroke-width="0.4"/>
<path d="M98.2 73.4L98.4 71.6" stroke="#161c26" stroke-opacity="0.8" stroke-width="0.45" fill="none"/>
<polygon points="93.7,66.8 98.7,68.1 98.9,66.3 93.9,64.8" fill="#97351c" stroke="#97351c" stroke-width="0.4"/>
<path d="M93.7 66.8L93.9 64.8M93.9 64.8L98.9 66.3" stroke="#161c26" stroke-opacity="0.8" stroke-width="0.45" fill="none"/>
<polygon points="104.9,72.5 110.1,73.8 110.1,72.5 104.8,71.2" fill="#865e22" stroke="#865e22" stroke-width="0.4"/>
<path d="M104.9 72.5L104.8 71.2" stroke="#161c26" stroke-opacity="0.8" stroke-width="0.45" fill="none"/>
<polygon points="75.3,101.2 80.3,100.6 83.1,97.1 78.1,98" fill="#4044bb" stroke="#4044bb" stroke-width="0.4"/>
<path d="M75.3 101.2L78.1 98.0M75.3 101.2L80.3 100.6" stroke="#161c26" stroke-opacity="0.8" stroke-width="0.45" fill="none"/>
<polygon points="121.2,82.8 126.6,83.7 126.5,82.6 121.1,81.7" fill="#576d39" stroke="#576d39" stroke-width="0.4"/>
<path d="M121.2 82.8L121.1 81.7" stroke="#161c26" stroke-opacity="0.8" stroke-width="0.45" fill="none"/>
<polygon points="93.9,64.8 98.9,66.3 99.4,65.8 94.1,64.5" fill="#d4d4d4" stroke="#d4d4d4" stroke-width="0.4"/>
<polygon points="98.8,89 104,89.5 106.6,85.3 101.3,85" fill="#7ac599" stroke="#7ac599" stroke-width="0.4"/>
<path d="M98.8 89.0L101.3 85.0M98.8 89.0L104.0 89.5" stroke="#161c26" stroke-opacity="0.8" stroke-width="0.45" fill="none"/>
<polygon points="102.6,79.3 107.8,80 108,78.5 102.9,77.6" fill="#848335" stroke="#848335" stroke-width="0.4"/>
<path d="M102.6 79.3L102.9 77.6" stroke="#161c26" stroke-opacity="0.8" stroke-width="0.45" fill="none"/>
<polygon points="99.5,68.6 104.7,69.8 104.7,68.4 99.4,67.2" fill="#88411c" stroke="#88411c" stroke-width="0.4"/>
<path d="M99.5 68.6L99.4 67.2" stroke="#161c26" stroke-opacity="0.8" stroke-width="0.45" fill="none"/>
<polygon points="83.1,97.1 88.2,96.5 90.9,92.7 85.8,93.5" fill="#4378bf" stroke="#4378bf" stroke-width="0.4"/>
<path d="M83.1 97.1L85.8 93.5M83.1 97.1L88.2 96.5" stroke="#161c26" stroke-opacity="0.8" stroke-width="0.45" fill="none"/>
<polygon points="90.9,92.7 96.2,92.8 98.8,89 93.6,88.8" fill="#5ca9b4" stroke="#5ca9b4" stroke-width="0.4"/>
<path d="M90.9 92.7L93.6 88.8M90.9 92.7L96.2 92.8" stroke="#161c26" stroke-opacity="0.8" stroke-width="0.45" fill="none"/>
<polygon points="115.6,79.1 121,80.5 121,79.2 115.6,77.8" fill="#6e6d2c" stroke="#6e6d2c" stroke-width="0.4"/>
<path d="M115.6 79.1L115.6 77.8" stroke="#161c26" stroke-opacity="0.8" stroke-width="0.45" fill="none"/>
<polygon points="62.3,98.5 67.3,100.7 70.2,97 65.3,95" fill="#537bff" stroke="#537bff" stroke-width="0.4"/>
<path d="M62.3 98.5L65.3 95.0M62.3 98.5L67.3 100.7" stroke="#161c26" stroke-opacity="0.8" stroke-width="0.45" fill="none"/>
<polygon points="98.4,71.6 103.4,72.7 103.6,71.1 98.6,69.8" fill="#9b5f24" stroke="#9b5f24" stroke-width="0.4"/>
<path d="M98.4 71.6L98.6 69.8" stroke="#161c26" stroke-opacity="0.8" stroke-width="0.45" fill="none"/>
<polygon points="49.3,97.3 54.2,99.8 57.3,96.3 52.4,93.6" fill="#5792ff" stroke="#5792ff" stroke-width="0.4"/>
<path d="M49.3 97.3L52.4 93.6M49.3 97.3L54.2 99.8" stroke="#161c26" stroke-opacity="0.8" stroke-width="0.45" fill="none"/>
<polygon points="110.2,75.1 115.5,76.5 115.5,75.1 110.1,73.8" fill="#816524" stroke="#816524" stroke-width="0.4"/>
<path d="M110.2 75.1L110.1 73.8" stroke="#161c26" stroke-opacity="0.8" stroke-width="0.45" fill="none"/>
<polygon points="102.9,77.6 108,78.5 108.2,76.9 103.1,76" fill="#907f2d" stroke="#907f2d" stroke-width="0.4"/>
<path d="M102.9 77.6L103.1 76.0" stroke="#161c26" stroke-opacity="0.8" stroke-width="0.45" fill="none"/>
<polygon points="68.6,103.4 72.4,104.2 75.3,101.2 71.7,100.7" fill="#5633d0" stroke="#5633d0" stroke-width="0.4"/>
<path d="M68.6 103.4L72.4 104.2" stroke="#161c26" stroke-opacity="0.8" stroke-width="0.45" fill="none"/>
<polygon points="104.8,71.2 110.1,72.5 110.1,71.1 104.7,69.8" fill="#884f1f" stroke="#884f1f" stroke-width="0.4"/>
<path d="M104.8 71.2L104.7 69.8" stroke="#161c26" stroke-opacity="0.8" stroke-width="0.45" fill="none"/>
<polygon points="36.2,95.9 41.1,98.4 44.4,94.7 39.5,92.2" fill="#5eacff" stroke="#5eacff" stroke-width="0.4"/>
<path d="M36.2 95.9L39.5 92.2" stroke="#161c26" stroke-opacity="0.8" stroke-width="0.45" fill="none"/>
<polygon points="99.4,67.2 104.7,68.4 104.7,67 99.4,65.8" fill="#852918" stroke="#852918" stroke-width="0.4"/>
<path d="M99.4 67.2L99.4 65.8M99.4 65.8L104.7 67.0" stroke="#161c26" stroke-opacity="0.8" stroke-width="0.45" fill="none"/>
<polygon points="121.1,81.7 126.5,82.6 126.5,81.4 121,80.5" fill="#667030" stroke="#667030" stroke-width="0.4"/>
<path d="M121.1 81.7L121.0 80.5" stroke="#161c26" stroke-opacity="0.8" stroke-width="0.45" fill="none"/>
<polygon points="98.6,69.8 103.6,71.1 103.8,69.5 98.7,68.1" fill="#9a4a20" stroke="#9a4a20" stroke-width="0.4"/>
<path d="M98.6 69.8L98.7 68.1" stroke="#161c26" stroke-opacity="0.8" stroke-width="0.45" fill="none"/>
<polygon points="106.6,85.3 112,85.6 112.6,83.7 107.3,83.2" fill="#89b060" stroke="#89b060" stroke-width="0.4"/>
<path d="M106.6 85.3L107.3 83.2M106.6 85.3L112.0 85.6" stroke="#161c26" stroke-opacity="0.8" stroke-width="0.45" fill="none"/>
<polygon points="115.6,77.8 121,79.2 121,77.8 115.5,76.5" fill="#7b6c26" stroke="#7b6c26" stroke-width="0.4"/>
<path d="M115.6 77.8L115.5 76.5" stroke="#161c26" stroke-opacity="0.8" stroke-width="0.45" fill="none"/>
<polygon points="103.1,76 108.2,76.9 108.4,75.4 103.3,74.4" fill="#96752a" stroke="#96752a" stroke-width="0.4"/>
<path d="M103.1 76.0L103.3 74.4" stroke="#161c26" stroke-opacity="0.8" stroke-width="0.45" fill="none"/>
<polygon points="107.3,83.2 112.6,83.7 112.8,82.2 107.6,81.5" fill="#7c8e41" stroke="#7c8e41" stroke-width="0.4"/>
<path d="M107.3 83.2L107.6 81.5" stroke="#161c26" stroke-opacity="0.8" stroke-width="0.45" fill="none"/>
<polygon points="110.1,73.8 115.5,75.1 115.5,73.8 110.1,72.5" fill="#875d22" stroke="#875d22" stroke-width="0.4"/>
<path d="M110.1 73.8L110.1 72.5" stroke="#161c26" stroke-opacity="0.8" stroke-width="0.45" fill="none"/>
<polygon points="54.2,99.8 59.2,102.1 62.3,98.5 57.3,96.3" fill="#537fff" stroke="#537fff" stroke-width="0.4"/>
<path d="M54.2 99.8L57.3 96.3M54.2 99.8L59.2 102.1" stroke="#161c26" stroke-opacity="0.8" stroke-width="0.45" fill="none"/>
<polygon points="104.7,69.8 110.1,71.1 110.1,69.7 104.7,68.4" fill="#883d1c" stroke="#883d1c" stroke-width="0.4"/>
<path d="M104.7 69.8L104.7 68.4" stroke="#161c26" stroke-opacity="0.8" stroke-width="0.45" fill="none"/>
<polygon points="98.7,68.1 103.8,69.5 104,67.8 98.9,66.3" fill="#972f1b" stroke="#972f1b" stroke-width="0.4"/>
<path d="M98.7 68.1L98.9 66.3M98.9 66.3L104.0 67.8" stroke="#161c26" stroke-opacity="0.8" stroke-width="0.45" fill="none"/>
<polygon points="98.9,66.3 104,67.8 104.7,67 99.4,65.8" fill="#d4d4d4" stroke="#d4d4d4" stroke-width="0.4"/>
<polygon points="107.6,81.5 112.8,82.2 113.1,80.8 107.8,80" fill="#848637" stroke="#848637" stroke-width="0.4"/>
<path d="M107.6 81.5L107.8 80.0" stroke="#161c26" stroke-opacity="0.8" stroke-width="0.45" fill="none"/>
<polygon points="103.3,74.4 108.4,75.4 108.6,73.9 103.4,72.7" fill="#9c6a27" stroke="#9c6a27" stroke-width="0.4"/>
<path d="M103.3 74.4L103.4 72.7" stroke="#161c26" stroke-opacity="0.8" stroke-width="0.45" fill="none"/>
<polygon points="121,80.5 126.5,81.4 126.5,80.1 121,79.2" fill="#726e2b" stroke="#726e2b" stroke-width="0.4"/>
<path d="M121.0 80.5L121.0 79.2" stroke="#161c26" stroke-opacity="0.8" stroke-width="0.45" fill="none"/>
<polygon points="41.1,98.4 46,101 49.3,97.3 44.4,94.7" fill="#5a9cff" stroke="#5a9cff" stroke-width="0.4"/>
<path d="M41.1 98.4L44.4 94.7" stroke="#161c26" stroke-opacity="0.8" stroke-width="0.45" fill="none"/>
<polygon points="115.5,76.5 121,77.8 121,76.5 115.5,75.1" fill="#826424" stroke="#826424" stroke-width="0.4"/>
<path d="M115.5 76.5L115.5 75.1" stroke="#161c26" stroke-opacity="0.8" stroke-width="0.45" fill="none"/>
<polygon points="104,89.5 109.4,89.9 112,85.6 106.6,85.3" fill="#8ac77d" stroke="#8ac77d" stroke-width="0.4"/>
<path d="M104.0 89.5L106.6 85.3M104.0 89.5L109.4 89.9" stroke="#161c26" stroke-opacity="0.8" stroke-width="0.45" fill="none"/>
<polygon points="107.8,80 113.1,80.8 113.3,79.4 108,78.5" fill="#8e8130" stroke="#8e8130" stroke-width="0.4"/>
<path d="M107.8 80.0L108.0 78.5" stroke="#161c26" stroke-opacity="0.8" stroke-width="0.45" fill="none"/>
<polygon points="110.1,72.5 115.5,73.8 115.5,72.4 110.1,71.1" fill="#884c1f" stroke="#884c1f" stroke-width="0.4"/>
<path d="M110.1 72.5L110.1 71.1" stroke="#161c26" stroke-opacity="0.8" stroke-width="0.45" fill="none"/>
<polygon points="103.4,72.7 108.6,73.9 108.8,72.4 103.6,71.1" fill="#9b5723" stroke="#9b5723" stroke-width="0.4"/>
<path d="M103.4 72.7L103.6 71.1" stroke="#161c26" stroke-opacity="0.8" stroke-width="0.45" fill="none"/>
<polygon points="96.2,92.8 101.5,93.4 104,89.5 98.8,89" fill="#6fc0a7" stroke="#6fc0a7" stroke-width="0.4"/>
<path d="M96.2 92.8L98.8 89.0M96.2 92.8L101.5 93.4" stroke="#161c26" stroke-opacity="0.8" stroke-width="0.45" fill="none"/>
<polygon points="104.7,68.4 110.1,69.7 110.1,68.3 104.7,67" fill="#852517" stroke="#852517" stroke-width="0.4"/>
<path d="M104.7 68.4L104.7 67.0M104.7 67.0L110.1 68.3" stroke="#161c26" stroke-opacity="0.8" stroke-width="0.45" fill="none"/>
<polygon points="88.2,96.5 93.5,96.7 96.2,92.8 90.9,92.7" fill="#56a1bc" stroke="#56a1bc" stroke-width="0.4"/>
<path d="M88.2 96.5L90.9 92.7M88.2 96.5L93.5 96.7" stroke="#161c26" stroke-opacity="0.8" stroke-width="0.45" fill="none"/>
<polygon points="80.3,100.6 85.5,100.4 88.2,96.5 83.1,97.1" fill="#4374c6" stroke="#4374c6" stroke-width="0.4"/>
<path d="M80.3 100.6L83.1 97.1M80.3 100.6L85.5 100.4" stroke="#161c26" stroke-opacity="0.8" stroke-width="0.45" fill="none"/>
<polygon points="72.4,104.2 77.4,104.2 80.3,100.6 75.3,101.2" fill="#4348c4" stroke="#4348c4" stroke-width="0.4"/>
<path d="M72.4 104.2L75.3 101.2M72.4 104.2L77.4 104.2" stroke="#161c26" stroke-opacity="0.8" stroke-width="0.45" fill="none"/>
<polygon points="108,78.5 113.3,79.4 113.5,78 108.2,76.9" fill="#94792b" stroke="#94792b" stroke-width="0.4"/>
<path d="M108.0 78.5L108.2 76.9" stroke="#161c26" stroke-opacity="0.8" stroke-width="0.45" fill="none"/>
<polygon points="121,79.2 126.5,80.1 126.5,78.9 121,77.8" fill="#7e6b26" stroke="#7e6b26" stroke-width="0.4"/>
<path d="M121.0 79.2L121.0 77.8" stroke="#161c26" stroke-opacity="0.8" stroke-width="0.45" fill="none"/>
<polygon points="59.2,102.1 64.2,104.4 67.3,100.7 62.3,98.5" fill="#5474ff" stroke="#5474ff" stroke-width="0.4"/>
<path d="M59.2 102.1L62.3 98.5M59.2 102.1L64.2 104.4" stroke="#161c26" stroke-opacity="0.8" stroke-width="0.45" fill="none"/>
<polygon points="103.6,71.1 108.8,72.4 108.9,70.9 103.8,69.5" fill="#99431f" stroke="#99431f" stroke-width="0.4"/>
<path d="M103.6 71.1L103.8 69.5" stroke="#161c26" stroke-opacity="0.8" stroke-width="0.45" fill="none"/>
<polygon points="115.5,75.1 121,76.5 121,75.1 115.5,73.8" fill="#885b21" stroke="#885b21" stroke-width="0.4"/>
<path d="M115.5 75.1L115.5 73.8" stroke="#161c26" stroke-opacity="0.8" stroke-width="0.45" fill="none"/>
<polygon points="46,101 51,103.4 54.2,99.8 49.3,97.3" fill="#548aff" stroke="#548aff" stroke-width="0.4"/>
<path d="M46.0 101.0L49.3 97.3" stroke="#161c26" stroke-opacity="0.8" stroke-width="0.45" fill="none"/>
<polygon points="110.1,71.1 115.5,72.4 115.5,71 110.1,69.7" fill="#883a1b" stroke="#883a1b" stroke-width="0.4"/>
<path d="M110.1 71.1L110.1 69.7" stroke="#161c26" stroke-opacity="0.8" stroke-width="0.45" fill="none"/>
<polygon points="108.2,76.9 113.5,78 113.6,76.6 108.4,75.4" fill="#996f28" stroke="#996f28" stroke-width="0.4"/>
<path d="M108.2 76.9L108.4 75.4" stroke="#161c26" stroke-opacity="0.8" stroke-width="0.45" fill="none"/>
<polygon points="112,85.6 117.4,86.2 118,84.3 112.6,83.6" fill="#99b051" stroke="#99b051" stroke-width="0.4"/>
<path d="M112.0 85.6L112.6 83.6M112.0 85.6L117.4 86.2" stroke="#161c26" stroke-opacity="0.8" stroke-width="0.45" fill="none"/>
<polygon points="104,67.8 109.1,69.4 110.1,68.3 104.7,67" fill="#d4d4d4" stroke="#d4d4d4" stroke-width="0.4"/>
<polygon points="112.6,83.6 118,84.3 118.2,82.8 112.9,81.9" fill="#878a38" stroke="#878a38" stroke-width="0.4"/>
<path d="M112.6 83.6L112.9 81.9" stroke="#161c26" stroke-opacity="0.8" stroke-width="0.45" fill="none"/>
<polygon points="103.8,69.5 108.9,70.9 109.1,69.4 104,67.8" fill="#95291a" stroke="#95291a" stroke-width="0.4"/>
<path d="M103.8 69.5L104.0 67.8M104.0 67.8L109.1 69.4" stroke="#161c26" stroke-opacity="0.8" stroke-width="0.45" fill="none"/>
<polygon points="121,77.8 126.5,78.9 126.6,77.6 121,76.5" fill="#846324" stroke="#846324" stroke-width="0.4"/>
<path d="M121.0 77.8L121.0 76.5" stroke="#161c26" stroke-opacity="0.8" stroke-width="0.45" fill="none"/>
<polygon points="65.3,106.1 69.4,107.1 72.4,104.2 68.6,103.4" fill="#513edb" stroke="#513edb" stroke-width="0.4"/>
<path d="M65.3 106.1L69.4 107.1" stroke="#161c26" stroke-opacity="0.8" stroke-width="0.45" fill="none"/>
<polygon points="108.4,75.4 113.6,76.6 113.8,75.3 108.6,73.9" fill="#9b6125" stroke="#9b6125" stroke-width="0.4"/>
<path d="M108.4 75.4L108.6 73.9" stroke="#161c26" stroke-opacity="0.8" stroke-width="0.45" fill="none"/>
<polygon points="115.5,73.8 121,75.1 121,73.7 115.5,72.4" fill="#884a1e" stroke="#884a1e" stroke-width="0.4"/>
<path d="M115.5 73.8L115.5 72.4" stroke="#161c26" stroke-opacity="0.8" stroke-width="0.45" fill="none"/>
<polygon points="112.9,81.9 118.2,82.8 118.5,81.4 113.1,80.3" fill="#8f8230" stroke="#8f8230" stroke-width="0.4"/>
<path d="M112.9 81.9L113.1 80.3" stroke="#161c26" stroke-opacity="0.8" stroke-width="0.45" fill="none"/>
<polygon points="110.1,69.7 115.5,71 115.6,69.5 110.1,68.3" fill="#852217" stroke="#852217" stroke-width="0.4"/>
<path d="M110.1 69.7L110.1 68.3M110.1 68.3L115.6 69.5" stroke="#161c26" stroke-opacity="0.8" stroke-width="0.45" fill="none"/>
<polygon points="51,103.4 56,105.8 59.2,102.1 54.2,99.8" fill="#547aff" stroke="#547aff" stroke-width="0.4"/>
<path d="M51.0 103.4L54.2 99.8" stroke="#161c26" stroke-opacity="0.8" stroke-width="0.45" fill="none"/>
<polygon points="108.6,73.9 113.8,75.3 114,73.9 108.8,72.4" fill="#9a5021" stroke="#9a5021" stroke-width="0.4"/>
<path d="M108.6 73.9L108.8 72.4" stroke="#161c26" stroke-opacity="0.8" stroke-width="0.45" fill="none"/>
<polygon points="109.4,89.9 114.9,90.5 117.4,86.2 112,85.6" fill="#a3d070" stroke="#a3d070" stroke-width="0.4"/>
<path d="M109.4 89.9L112.0 85.6M109.4 89.9L114.9 90.5" stroke="#161c26" stroke-opacity="0.8" stroke-width="0.45" fill="none"/>
<polygon points="101.5,93.4 106.9,94.1 109.4,89.9 104,89.5" fill="#82ca93" stroke="#82ca93" stroke-width="0.4"/>
<path d="M101.5 93.4L104.0 89.5M101.5 93.4L106.9 94.1" stroke="#161c26" stroke-opacity="0.8" stroke-width="0.45" fill="none"/>
<polygon points="113.1,80.3 118.5,81.4 118.7,79.9 113.3,78.8" fill="#95792b" stroke="#95792b" stroke-width="0.4"/>
<path d="M113.1 80.3L113.3 78.8" stroke="#161c26" stroke-opacity="0.8" stroke-width="0.45" fill="none"/>
<polygon points="121,76.5 126.6,77.6 126.6,76.2 121,75.1" fill="#895721" stroke="#895721" stroke-width="0.4"/>
<path d="M121.0 76.5L121.0 75.1" stroke="#161c26" stroke-opacity="0.8" stroke-width="0.45" fill="none"/>
<polygon points="115.5,72.4 121,73.7 121.1,72.3 115.5,71" fill="#88361a" stroke="#88361a" stroke-width="0.4"/>
<path d="M115.5 72.4L115.5 71.0" stroke="#161c26" stroke-opacity="0.8" stroke-width="0.45" fill="none"/>
<polygon points="93.5,96.7 98.8,97.4 101.5,93.4 96.2,92.8" fill="#68bab1" stroke="#68bab1" stroke-width="0.4"/>
<path d="M93.5 96.7L96.2 92.8M93.5 96.7L98.8 97.4" stroke="#161c26" stroke-opacity="0.8" stroke-width="0.45" fill="none"/>
<polygon points="108.8,72.4 114,73.9 114.1,72.5 108.9,70.9" fill="#983b1d" stroke="#983b1d" stroke-width="0.4"/>
<path d="M108.8 72.4L108.9 70.9" stroke="#161c26" stroke-opacity="0.8" stroke-width="0.45" fill="none"/>
<polygon points="113.3,78.8 118.7,79.9 118.9,78.5 113.6,77.2" fill="#9a6f28" stroke="#9a6f28" stroke-width="0.4"/>
<path d="M113.3 78.8L113.6 77.2" stroke="#161c26" stroke-opacity="0.8" stroke-width="0.45" fill="none"/>
<polygon points="109.1,69.4 114.3,71.1 115.6,69.5 110.1,68.3" fill="#d4d4d4" stroke="#d4d4d4" stroke-width="0.4"/>
<polygon points="85.5,100.4 90.8,100.6 93.5,96.7 88.2,96.5" fill="#519bc4" stroke="#519bc4" stroke-width="0.4"/>
<path d="M85.5 100.4L88.2 96.5M85.5 100.4L90.8 100.6" stroke="#161c26" stroke-opacity="0.8" stroke-width="0.45" fill="none"/>
<polygon points="77.4,104.2 82.6,104.4 85.5,100.4 80.3,100.6" fill="#4474d2" stroke="#4474d2" stroke-width="0.4"/>
<path d="M77.4 104.2L80.3 100.6M77.4 104.2L82.6 104.4" stroke="#161c26" stroke-opacity="0.8" stroke-width="0.45" fill="none"/>
<polygon points="121,75.1 126.6,76.2 126.7,74.9 121,73.7" fill="#89461d" stroke="#89461d" stroke-width="0.4"/>
<path d="M121.0 75.1L121.0 73.7" stroke="#161c26" stroke-opacity="0.8" stroke-width="0.45" fill="none"/>
<polygon points="117.4,86.2 123,86.5 123.5,84.9 118,84.3" fill="#a3a745" stroke="#a3a745" stroke-width="0.4"/>
<path d="M117.4 86.2L118.0 84.3M117.4 86.2L123.0 86.5" stroke="#161c26" stroke-opacity="0.8" stroke-width="0.45" fill="none"/>
<polygon points="108.9,70.9 114.1,72.5 114.3,71.1 109.1,69.4" fill="#942419" stroke="#942419" stroke-width="0.4"/>
<path d="M108.9 70.9L109.1 69.4M109.1 69.4L114.3 71.1" stroke="#161c26" stroke-opacity="0.8" stroke-width="0.45" fill="none"/>
<polygon points="56,105.8 61.1,108.2 64.2,104.4 59.2,102.1" fill="#556dff" stroke="#556dff" stroke-width="0.4"/>
<path d="M56.0 105.8L59.2 102.1" stroke="#161c26" stroke-opacity="0.8" stroke-width="0.45" fill="none"/>
<polygon points="115.5,71 121.1,72.3 121.1,70.8 115.6,69.5" fill="#851e16" stroke="#851e16" stroke-width="0.4"/>
<path d="M115.5 71.0L115.6 69.5M115.6 69.5L121.1 70.8" stroke="#161c26" stroke-opacity="0.8" stroke-width="0.45" fill="none"/>
<polygon points="69.4,107.1 74.5,107.6 77.4,104.2 72.4,104.2" fill="#4751d2" stroke="#4751d2" stroke-width="0.4"/>
<path d="M69.4 107.1L72.4 104.2M69.4 107.1L74.5 107.6" stroke="#161c26" stroke-opacity="0.8" stroke-width="0.45" fill="none"/>
<polygon points="113.6,77.2 118.9,78.5 119.1,77.1 113.8,75.7" fill="#9a5f24" stroke="#9a5f24" stroke-width="0.4"/>
<path d="M113.6 77.2L113.8 75.7" stroke="#161c26" stroke-opacity="0.8" stroke-width="0.45" fill="none"/>
<polygon points="118,84.3 123.5,84.9 123.7,83.5 118.2,82.8" fill="#908532" stroke="#908532" stroke-width="0.4"/>
<path d="M118.0 84.3L118.2 82.8" stroke="#161c26" stroke-opacity="0.8" stroke-width="0.45" fill="none"/>
<polygon points="118.2,82.8 123.7,83.5 123.9,82.2 118.5,81.4" fill="#947c2c" stroke="#947c2c" stroke-width="0.4"/>
<path d="M118.2 82.8L118.5 81.4" stroke="#161c26" stroke-opacity="0.8" stroke-width="0.45" fill="none"/>
<polygon points="113.8,75.7 119.1,77.1 119.2,75.7 113.9,74.2" fill="#994d21" stroke="#994d21" stroke-width="0.4"/>
<path d="M113.8 75.7L113.9 74.2" stroke="#161c26" stroke-opacity="0.8" stroke-width="0.45" fill="none"/>
<polygon points="121,73.7 126.7,74.9 126.7,73.5 121.1,72.3" fill="#88321a" stroke="#88321a" stroke-width="0.4"/>
<path d="M121.0 73.7L121.1 72.3" stroke="#161c26" stroke-opacity="0.8" stroke-width="0.45" fill="none"/>
<polygon points="114.9,90.5 120.5,91.3 123,86.5 117.4,86.2" fill="#bad562" stroke="#bad562" stroke-width="0.4"/>
<path d="M114.9 90.5L117.4 86.2M114.9 90.5L120.5 91.3" stroke="#161c26" stroke-opacity="0.8" stroke-width="0.45" fill="none"/>
<polygon points="106.9,94.1 112.4,94.8 114.9,90.5 109.4,89.9" fill="#91ce7c" stroke="#91ce7c" stroke-width="0.4"/>
<path d="M106.9 94.1L109.4 89.9M106.9 94.1L112.4 94.8" stroke="#161c26" stroke-opacity="0.8" stroke-width="0.45" fill="none"/>
<polygon points="118.5,81.4 123.9,82.2 124.1,81 118.7,79.9" fill="#987129" stroke="#987129" stroke-width="0.4"/>
<path d="M118.5 81.4L118.7 79.9" stroke="#161c26" stroke-opacity="0.8" stroke-width="0.45" fill="none"/>
<polygon points="61.6,108.9 66.3,110.2 69.4,107.1 65.3,106.1" fill="#504ce3" stroke="#504ce3" stroke-width="0.4"/>
<polygon points="113.9,74.2 119.2,75.7 119.4,74.2 114.1,72.6" fill="#96371c" stroke="#96371c" stroke-width="0.4"/>
<path d="M113.9 74.2L114.1 72.6" stroke="#161c26" stroke-opacity="0.8" stroke-width="0.45" fill="none"/>
<polygon points="114.3,71.1 119.6,72.8 121.1,70.8 115.6,69.5" fill="#d4d4d4" stroke="#d4d4d4" stroke-width="0.4"/>
<polygon points="98.8,97.3 104.3,98.2 106.9,94.1 101.5,93.4" fill="#7ac8a2" stroke="#7ac8a2" stroke-width="0.4"/>
<path d="M98.8 97.3L101.5 93.4M98.8 97.3L104.3 98.2" stroke="#161c26" stroke-opacity="0.8" stroke-width="0.45" fill="none"/>
<polygon points="121.1,72.3 126.7,73.5 126.8,72.1 121.1,70.8" fill="#861a16" stroke="#861a16" stroke-width="0.4"/>
<path d="M121.1 72.3L121.1 70.8M121.1 70.8L126.8 72.1" stroke="#161c26" stroke-opacity="0.8" stroke-width="0.45" fill="none"/>
<polygon points="118.7,79.9 124.1,81 124.3,79.7 118.9,78.5" fill="#9a6626" stroke="#9a6626" stroke-width="0.4"/>
<path d="M118.7 79.9L118.9 78.5" stroke="#161c26" stroke-opacity="0.8" stroke-width="0.45" fill="none"/>
<polygon points="114.1,72.6 119.4,74.2 119.6,72.8 114.3,71.1" fill="#921f18" stroke="#921f18" stroke-width="0.4"/>
<path d="M114.1 72.6L114.3 71.1M114.3 71.1L119.6 72.8" stroke="#161c26" stroke-opacity="0.8" stroke-width="0.45" fill="none"/>
<polygon points="90.8,100.6 96.1,101.3 98.8,97.4 93.5,96.7" fill="#64b5ba" stroke="#64b5ba" stroke-width="0.4"/>
<path d="M90.8 100.6L93.5 96.7M90.8 100.6L96.1 101.3" stroke="#161c26" stroke-opacity="0.8" stroke-width="0.45" fill="none"/>
<polygon points="82.6,104.4 87.9,104.8 90.8,100.6 85.5,100.4" fill="#4f98d0" stroke="#4f98d0" stroke-width="0.4"/>
<path d="M82.6 104.4L85.5 100.4M82.6 104.4L87.9 104.8" stroke="#161c26" stroke-opacity="0.8" stroke-width="0.45" fill="none"/>
<polygon points="118.9,78.5 124.3,79.7 124.5,78.4 119.1,77.1" fill="#995622" stroke="#995622" stroke-width="0.4"/>
<path d="M118.9 78.5L119.1 77.1" stroke="#161c26" stroke-opacity="0.8" stroke-width="0.45" fill="none"/>
<polygon points="74.5,107.6 79.7,108.2 82.6,104.4 77.4,104.2" fill="#4675dc" stroke="#4675dc" stroke-width="0.4"/>
<path d="M74.5 107.6L77.4 104.2M74.5 107.6L79.7 108.2" stroke="#161c26" stroke-opacity="0.8" stroke-width="0.45" fill="none"/>
<polygon points="119.1,77.1 124.5,78.4 124.6,77.1 119.2,75.7" fill="#97451f" stroke="#97451f" stroke-width="0.4"/>
<path d="M119.1 77.1L119.2 75.7" stroke="#161c26" stroke-opacity="0.8" stroke-width="0.45" fill="none"/>
<polygon points="119.6,72.8 125,74.6 126.8,72.1 121.1,70.8" fill="#d4d4d4" stroke="#d4d4d4" stroke-width="0.4"/>
<polygon points="66.3,110.2 71.5,111.1 74.5,107.6 69.4,107.1" fill="#495ddf" stroke="#495ddf" stroke-width="0.4"/>
<path d="M66.3 110.2L69.4 107.1" stroke="#161c26" stroke-opacity="0.8" stroke-width="0.45" fill="none"/>
<polygon points="112.4,94.8 118.1,95.6 120.5,91.3 114.9,90.5" fill="#a8d571" stroke="#a8d571" stroke-width="0.4"/>
<path d="M112.4 94.8L114.9 90.5M112.4 94.8L118.1 95.6" stroke="#161c26" stroke-opacity="0.8" stroke-width="0.45" fill="none"/>
<polygon points="119.2,75.7 124.6,77.1 124.8,75.9 119.4,74.2" fill="#942f1b" stroke="#942f1b" stroke-width="0.4"/>
<path d="M119.2 75.7L119.4 74.2" stroke="#161c26" stroke-opacity="0.8" stroke-width="0.45" fill="none"/>
<polygon points="104.3,98.2 109.9,99 112.4,94.8 106.9,94.1" fill="#88cc8d" stroke="#88cc8d" stroke-width="0.4"/>
<path d="M104.3 98.2L106.9 94.1M104.3 98.2L109.9 99.0" stroke="#161c26" stroke-opacity="0.8" stroke-width="0.45" fill="none"/>
<polygon points="119.4,74.2 124.8,75.9 125,74.6 119.6,72.8" fill="#901a17" stroke="#901a17" stroke-width="0.4"/>
<path d="M119.4 74.2L119.6 72.8M119.6 72.8L125.0 74.6" stroke="#161c26" stroke-opacity="0.8" stroke-width="0.45" fill="none"/>
<polygon points="96.1,101.3 101.6,102.2 104.3,98.2 98.8,97.3" fill="#71c4ac" stroke="#71c4ac" stroke-width="0.4"/>
<path d="M96.1 101.3L98.8 97.3M96.1 101.3L101.6 102.2" stroke="#161c26" stroke-opacity="0.8" stroke-width="0.45" fill="none"/>
<polygon points="87.9,104.8 93.4,105.6 96.1,101.3 90.8,100.6" fill="#5eaec4" stroke="#5eaec4" stroke-width="0.4"/>
<path d="M87.9 104.8L90.8 100.6M87.9 104.8L93.4 105.6" stroke="#161c26" stroke-opacity="0.8" stroke-width="0.45" fill="none"/>
<polygon points="79.7,108.2 85.1,108.9 87.9,104.8 82.6,104.4" fill="#4f93d9" stroke="#4f93d9" stroke-width="0.4"/>
<path d="M79.7 108.2L82.6 104.4M79.7 108.2L85.1 108.9" stroke="#161c26" stroke-opacity="0.8" stroke-width="0.45" fill="none"/>
<polygon points="71.5,111.1 76.7,112 79.7,108.2 74.5,107.6" fill="#4978e4" stroke="#4978e4" stroke-width="0.4"/>
<path d="M71.5 111.1L74.5 107.6" stroke="#161c26" stroke-opacity="0.8" stroke-width="0.45" fill="none"/>
<polygon points="109.9,99 115.5,99.9 118.1,95.6 112.4,94.8" fill="#99d27b" stroke="#99d27b" stroke-width="0.4"/>
<path d="M109.9 99.0L112.4 94.8M109.9 99.0L115.5 99.9" stroke="#161c26" stroke-opacity="0.8" stroke-width="0.45" fill="none"/>
<polygon points="101.6,102.2 107.2,103.3 109.9,99 104.3,98.2" fill="#82ce9d" stroke="#82ce9d" stroke-width="0.4"/>
<path d="M101.6 102.2L104.3 98.2M101.6 102.2L107.2 103.3" stroke="#161c26" stroke-opacity="0.8" stroke-width="0.45" fill="none"/>
<polygon points="93.4,105.6 98.9,106.6 101.6,102.2 96.1,101.3" fill="#6abeb7" stroke="#6abeb7" stroke-width="0.4"/>
<path d="M93.4 105.6L96.1 101.3M93.4 105.6L98.9 106.6" stroke="#161c26" stroke-opacity="0.8" stroke-width="0.45" fill="none"/>
<polygon points="85.1,108.9 90.5,109.9 93.4,105.6 87.9,104.8" fill="#59aad2" stroke="#59aad2" stroke-width="0.4"/>
<path d="M85.1 108.9L87.9 104.8M85.1 108.9L90.5 109.9" stroke="#161c26" stroke-opacity="0.8" stroke-width="0.45" fill="none"/>
<polygon points="76.7,112 82.1,113 85.1,108.9 79.7,108.2" fill="#4f91df" stroke="#4f91df" stroke-width="0.4"/>
<path d="M76.7 112.0L79.7 108.2" stroke="#161c26" stroke-opacity="0.8" stroke-width="0.45" fill="none"/>
<polygon points="107.2,103.3 113,104.2 115.5,99.9 109.9,99" fill="#8cce87" stroke="#8cce87" stroke-width="0.4"/>
<path d="M107.2 103.3L109.9 99.0M107.2 103.3L113.0 104.2" stroke="#161c26" stroke-opacity="0.8" stroke-width="0.45" fill="none"/>
<polygon points="98.9,106.6 104.5,107.8 107.2,103.3 101.6,102.2" fill="#77c9aa" stroke="#77c9aa" stroke-width="0.4"/>
<path d="M98.9 106.6L101.6 102.2M98.9 106.6L104.5 107.8" stroke="#161c26" stroke-opacity="0.8" stroke-width="0.45" fill="none"/>
<polygon points="90.5,109.9 96.1,111 98.9,106.6 93.4,105.6" fill="#64b7c3" stroke="#64b7c3" stroke-width="0.4"/>
<path d="M90.5 109.9L93.4 105.6M90.5 109.9L96.1 111.0" stroke="#161c26" stroke-opacity="0.8" stroke-width="0.45" fill="none"/>
<polygon points="82.1,113 87.6,114.1 90.5,109.9 85.1,108.9" fill="#56a7dc" stroke="#56a7dc" stroke-width="0.4"/>
<path d="M82.1 113.0L85.1 108.9" stroke="#161c26" stroke-opacity="0.8" stroke-width="0.45" fill="none"/>
<polygon points="104.5,107.8 110.3,109.1 113,104.2 107.2,103.3" fill="#85d19c" stroke="#85d19c" stroke-width="0.4"/>
<path d="M104.5 107.8L107.2 103.3M104.5 107.8L110.3 109.1" stroke="#161c26" stroke-opacity="0.8" stroke-width="0.45" fill="none"/>
<polygon points="96.1,111 101.8,112.2 104.5,107.8 98.9,106.6" fill="#6ec4b7" stroke="#6ec4b7" stroke-width="0.4"/>
<path d="M96.1 111.0L98.9 106.6M96.1 111.0L101.8 112.2" stroke="#161c26" stroke-opacity="0.8" stroke-width="0.45" fill="none"/>
<polygon points="87.6,114.1 93.2,115.4 96.1,111 90.5,109.9" fill="#60b3cf" stroke="#60b3cf" stroke-width="0.4"/>
<path d="M87.6 114.1L90.5 109.9" stroke="#161c26" stroke-opacity="0.8" stroke-width="0.45" fill="none"/>
<polygon points="101.8,112.2 107.6,113.6 110.3,109.1 104.5,107.8" fill="#79ccab" stroke="#79ccab" stroke-width="0.4"/>
<path d="M101.8 112.2L104.5 107.8M101.8 112.2L107.6 113.6" stroke="#161c26" stroke-opacity="0.8" stroke-width="0.45" fill="none"/>
<polygon points="93.2,115.4 99,116.7 101.8,112.2 96.1,111" fill="#68bdc2" stroke="#68bdc2" stroke-width="0.4"/>
<path d="M93.2 115.4L96.1 111.0" stroke="#161c26" stroke-opacity="0.8" stroke-width="0.45" fill="none"/>
<polygon points="99,116.7 104.8,118.1 107.6,113.6 101.8,112.2" fill="#71c8b7" stroke="#71c8b7" stroke-width="0.4"/>
<path d="M99.0 116.7L101.8 112.2" stroke="#161c26" stroke-opacity="0.8" stroke-width="0.45" fill="none"/>
</g>
<path d="M20.6 101.4L105.2 134.5" stroke="#9a9a9a" stroke-width="0.5" fill="none"/>
<path d="M105.2 134.5L141.7 78.7" stroke="#9a9a9a" stroke-width="0.5" fill="none"/>
<path d="M20.6 101.4L15.7 70.9" stroke="#9a9a9a" stroke-width="0.5" fill="none"/>
<path d="M141.7 78.7L145.7 49.6" stroke="#9a9a9a" stroke-width="0.5" fill="none"/>
<path d="M15.7 70.9L67.4 29.1" stroke="#9a9a9a" stroke-width="0.5" fill="none"/>
<path d="M67.4 29.1L145.7 49.6" stroke="#9a9a9a" stroke-width="0.5" fill="none"/>
<text x="14.6" y="112.6" font-size="9" text-anchor="middle" font-weight="bold" >−2</text>
<text x="32.6" y="120.2" font-size="9" text-anchor="middle" font-weight="bold" >−1</text>
<text x="56.6" y="128.2" font-size="9" text-anchor="middle" font-weight="bold" >0</text>
<text x="78.0" y="136.2" font-size="9" text-anchor="middle" font-weight="bold" >1</text>
<text x="100.6" y="144.8" font-size="9" text-anchor="middle" font-weight="bold" >2</text>
<text x="50.0" y="135.6" font-size="9.5" text-anchor="middle" font-weight="bold" font-style="italic" >x</text>
<text x="113.6" y="140.2" font-size="9" text-anchor="middle" font-weight="bold" >−2</text>
<text x="123.4" y="124.2" font-size="9" text-anchor="middle" font-weight="bold" >−1</text>
<text x="130.0" y="109.8" font-size="9" text-anchor="middle" font-weight="bold" >0</text>
<text x="136.6" y="96.4" font-size="9" text-anchor="middle" font-weight="bold" >1</text>
<text x="145.0" y="83.4" font-size="9" text-anchor="middle" font-weight="bold" >2</text>
<text x="136.4" y="112.2" font-size="9.5" text-anchor="middle" font-weight="bold" font-style="italic" >t</text>
<text x="14.0" y="74.6" font-size="9.4" text-anchor="end" font-weight="bold" >0.4</text>
<text x="14.8" y="81.3" font-size="9.4" text-anchor="end" font-weight="bold" >0.3</text>
<text x="15.7" y="88.1" font-size="9.4" text-anchor="end" font-weight="bold" >0.2</text>
<text x="16.9" y="95.1" font-size="9.4" text-anchor="end" font-weight="bold" >0.1</text>
<text x="18.1" y="101.9" font-size="9.4" text-anchor="end" font-weight="bold" >0.0</text>
<linearGradient id="gA" x1="0" y1="0" x2="0" y2="1"><stop offset="0.000" stop-color="#db2122"/><stop offset="0.043" stop-color="#df4127"/><stop offset="0.087" stop-color="#e2602d"/><stop offset="0.130" stop-color="#e47932"/><stop offset="0.174" stop-color="#e48f36"/><stop offset="0.217" stop-color="#e0a13a"/><stop offset="0.261" stop-color="#d8ac3e"/><stop offset="0.304" stop-color="#cfb741"/><stop offset="0.348" stop-color="#bfba49"/><stop offset="0.391" stop-color="#afbd51"/><stop offset="0.435" stop-color="#9ebc5d"/><stop offset="0.478" stop-color="#8cbb6a"/><stop offset="0.522" stop-color="#7cb77a"/><stop offset="0.565" stop-color="#6db18c"/><stop offset="0.609" stop-color="#5faa9e"/><stop offset="0.652" stop-color="#569eae"/><stop offset="0.696" stop-color="#4c92be"/><stop offset="0.739" stop-color="#4680c6"/><stop offset="0.783" stop-color="#416dcc"/><stop offset="0.826" stop-color="#4157c9"/><stop offset="0.870" stop-color="#443fc0"/><stop offset="0.913" stop-color="#4d2cb3"/><stop offset="0.957" stop-color="#62249d"/><stop offset="1.000" stop-color="#781c86"/></linearGradient>
<rect x="158.0" y="52.1" width="5.5" height="48.2" fill="url(#gA)"/>
<text x="166.6" y="58.8" font-size="10.4" text-anchor="start" font-weight="bold" >0.4</text>
<text x="166.6" y="70.6" font-size="10.4" text-anchor="start" font-weight="bold" >0.3</text>
<text x="166.6" y="82.4" font-size="10.4" text-anchor="start" font-weight="bold" >0.2</text>
<text x="166.6" y="94.2" font-size="10.4" text-anchor="start" font-weight="bold" >0.1</text>
<path d="M163.5 55.1h1.4M163.5 66.9h1.4M163.5 78.7h1.4M163.5 90.5h1.4" stroke="#7f7f7f" stroke-width="0.4"/>
<path d="M319.6 51.0V115.6M345.0 51.0V115.6M370.4 51.0V115.6M291.8 109.0H398.0M291.8 97.0H398.0M291.8 85.0H398.0M291.8 73.0H398.0M291.8 61.0H398.0" stroke="#d4d4d4" stroke-width="0.5" stroke-dasharray="1.2 1" fill="none"/>
<path d="M294.2 113.8L295.7 113.0" stroke="#751d8a" stroke-width="0.9" stroke-linecap="round" fill="none"/>
<path d="M295.7 113.0L297.2 112.2" stroke="#6f1f90" stroke-width="0.9" stroke-linecap="round" fill="none"/>
<path d="M297.2 112.2L298.7 111.4" stroke="#682297" stroke-width="0.9" stroke-linecap="round" fill="none"/>
<path d="M298.7 111.4L300.2 110.6" stroke="#61249e" stroke-width="0.9" stroke-linecap="round" fill="none"/>
<path d="M300.2 110.6L301.6 109.7" stroke="#5a27a5" stroke-width="0.9" stroke-linecap="round" fill="none"/>
<path d="M301.6 109.7L303.1 108.9" stroke="#532aac" stroke-width="0.9" stroke-linecap="round" fill="none"/>
<path d="M303.1 108.9L304.6 108.0" stroke="#4c2cb4" stroke-width="0.9" stroke-linecap="round" fill="none"/>
<path d="M304.6 108.0L306.1 107.1" stroke="#4631ba" stroke-width="0.9" stroke-linecap="round" fill="none"/>
<path d="M306.1 107.1L307.6 106.2" stroke="#4539be" stroke-width="0.9" stroke-linecap="round" fill="none"/>
<path d="M307.6 106.2L309.1 105.2" stroke="#4441c1" stroke-width="0.9" stroke-linecap="round" fill="none"/>
<path d="M309.1 105.2L310.6 104.3" stroke="#434ac4" stroke-width="0.9" stroke-linecap="round" fill="none"/>
<path d="M310.6 104.3L312.1 103.3" stroke="#4253c8" stroke-width="0.9" stroke-linecap="round" fill="none"/>
<path d="M312.1 103.3L313.6 102.3" stroke="#415ccb" stroke-width="0.9" stroke-linecap="round" fill="none"/>
<path d="M313.6 102.3L315.0 101.3" stroke="#3f65cf" stroke-width="0.9" stroke-linecap="round" fill="none"/>
<path d="M315.0 101.3L316.5 100.2" stroke="#416dcd" stroke-width="0.9" stroke-linecap="round" fill="none"/>
<path d="M316.5 100.2L318.0 99.1" stroke="#4374ca" stroke-width="0.9" stroke-linecap="round" fill="none"/>
<path d="M318.0 99.1L319.5 98.0" stroke="#457cc7" stroke-width="0.9" stroke-linecap="round" fill="none"/>
<path d="M319.5 98.0L321.0 96.9" stroke="#4885c4" stroke-width="0.9" stroke-linecap="round" fill="none"/>
<path d="M321.0 96.9L322.5 95.7" stroke="#4a8dc1" stroke-width="0.9" stroke-linecap="round" fill="none"/>
<path d="M322.5 95.7L324.0 94.4" stroke="#4d94bc" stroke-width="0.9" stroke-linecap="round" fill="none"/>
<path d="M324.0 94.4L325.5 93.1" stroke="#529ab4" stroke-width="0.9" stroke-linecap="round" fill="none"/>
<path d="M325.5 93.1L327.0 91.7" stroke="#57a0ac" stroke-width="0.9" stroke-linecap="round" fill="none"/>
<path d="M327.0 91.7L328.4 90.3" stroke="#5ca6a3" stroke-width="0.9" stroke-linecap="round" fill="none"/>
<path d="M328.4 90.3L329.9 88.7" stroke="#62ac99" stroke-width="0.9" stroke-linecap="round" fill="none"/>
<path d="M329.9 88.7L331.4 87.0" stroke="#6bb08e" stroke-width="0.9" stroke-linecap="round" fill="none"/>
<path d="M331.4 87.0L332.9 85.2" stroke="#75b481" stroke-width="0.9" stroke-linecap="round" fill="none"/>
<path d="M332.9 85.2L334.4 83.2" stroke="#80b974" stroke-width="0.9" stroke-linecap="round" fill="none"/>
<path d="M334.4 83.2L335.9 80.9" stroke="#8ebb68" stroke-width="0.9" stroke-linecap="round" fill="none"/>
<path d="M335.9 80.9L337.4 78.3" stroke="#9fbc5c" stroke-width="0.9" stroke-linecap="round" fill="none"/>
<path d="M337.4 78.3L337.8 77.5" stroke="#aabd53" stroke-width="0.9" stroke-linecap="round" fill="none"/>
<path d="M337.8 77.5L338.2 76.7" stroke="#afbd51" stroke-width="0.9" stroke-linecap="round" fill="none"/>
<path d="M338.2 76.7L338.6 75.9" stroke="#b4bc4e" stroke-width="0.9" stroke-linecap="round" fill="none"/>
<path d="M338.6 75.9L338.9 75.0" stroke="#b9bb4c" stroke-width="0.9" stroke-linecap="round" fill="none"/>
<path d="M338.9 75.0L339.3 74.0" stroke="#bfba49" stroke-width="0.9" stroke-linecap="round" fill="none"/>
<path d="M339.3 74.0L339.7 73.0" stroke="#c5b946" stroke-width="0.9" stroke-linecap="round" fill="none"/>
<path d="M339.7 73.0L340.1 72.0" stroke="#cbb743" stroke-width="0.9" stroke-linecap="round" fill="none"/>
<path d="M340.1 72.0L340.5 70.9" stroke="#d1b540" stroke-width="0.9" stroke-linecap="round" fill="none"/>
<path d="M340.5 70.9L340.9 69.7" stroke="#d5b03f" stroke-width="0.9" stroke-linecap="round" fill="none"/>
<path d="M340.9 69.7L341.3 68.4" stroke="#d9ab3d" stroke-width="0.9" stroke-linecap="round" fill="none"/>
<path d="M341.3 68.4L341.7 67.0" stroke="#dda53c" stroke-width="0.9" stroke-linecap="round" fill="none"/>
<path d="M341.7 67.0L342.1 65.5" stroke="#e29f3a" stroke-width="0.9" stroke-linecap="round" fill="none"/>
<path d="M342.1 65.5L342.5 63.9" stroke="#e49537" stroke-width="0.9" stroke-linecap="round" fill="none"/>
<path d="M342.5 63.9L342.9 62.1" stroke="#e48635" stroke-width="0.9" stroke-linecap="round" fill="none"/>
<path d="M342.9 62.1L343.2 60.1" stroke="#e47631" stroke-width="0.9" stroke-linecap="round" fill="none"/>
<path d="M343.2 60.1L343.6 58.1" stroke="#e3632e" stroke-width="0.9" stroke-linecap="round" fill="none"/>
<path d="M343.6 58.1L344.0 56.2" stroke="#e04c29" stroke-width="0.9" stroke-linecap="round" fill="none"/>
<path d="M344.0 56.2L344.4 54.5" stroke="#dd3625" stroke-width="0.9" stroke-linecap="round" fill="none"/>
<path d="M344.4 54.5L344.8 53.7" stroke="#db2823" stroke-width="0.9" stroke-linecap="round" fill="none"/>
<path d="M344.8 53.7L345.2 53.7" stroke="#db2322" stroke-width="0.9" stroke-linecap="round" fill="none"/>
<path d="M345.2 53.7L345.6 54.5" stroke="#db2823" stroke-width="0.9" stroke-linecap="round" fill="none"/>
<path d="M345.6 54.5L346.0 56.9" stroke="#de3b26" stroke-width="0.9" stroke-linecap="round" fill="none"/>
<path d="M346.0 56.9L346.4 59.7" stroke="#e25a2c" stroke-width="0.9" stroke-linecap="round" fill="none"/>
<path d="M346.4 59.7L346.8 62.6" stroke="#e47731" stroke-width="0.9" stroke-linecap="round" fill="none"/>
<path d="M346.8 62.6L347.1 65.4" stroke="#e48f36" stroke-width="0.9" stroke-linecap="round" fill="none"/>
<path d="M347.1 65.4L347.5 67.7" stroke="#e1a13a" stroke-width="0.9" stroke-linecap="round" fill="none"/>
<path d="M347.5 67.7L347.9 69.6" stroke="#daaa3d" stroke-width="0.9" stroke-linecap="round" fill="none"/>
<path d="M347.9 69.6L348.3 71.2" stroke="#d4b13f" stroke-width="0.9" stroke-linecap="round" fill="none"/>
<path d="M348.3 71.2L348.7 72.7" stroke="#ceb742" stroke-width="0.9" stroke-linecap="round" fill="none"/>
<path d="M348.7 72.7L349.1 74.1" stroke="#c6b846" stroke-width="0.9" stroke-linecap="round" fill="none"/>
<path d="M349.1 74.1L349.5 75.2" stroke="#beba49" stroke-width="0.9" stroke-linecap="round" fill="none"/>
<path d="M349.5 75.2L349.9 76.2" stroke="#b8bb4c" stroke-width="0.9" stroke-linecap="round" fill="none"/>
<path d="M349.9 76.2L350.3 77.1" stroke="#b2bc4f" stroke-width="0.9" stroke-linecap="round" fill="none"/>
<path d="M350.3 77.1L350.7 77.9" stroke="#adbd52" stroke-width="0.9" stroke-linecap="round" fill="none"/>
<path d="M350.7 77.9L351.1 78.7" stroke="#a7bd56" stroke-width="0.9" stroke-linecap="round" fill="none"/>
<path d="M351.1 78.7L351.4 79.4" stroke="#a2bd59" stroke-width="0.9" stroke-linecap="round" fill="none"/>
<path d="M351.4 79.4L351.8 80.1" stroke="#9ebc5d" stroke-width="0.9" stroke-linecap="round" fill="none"/>
<path d="M351.8 80.1L352.2 80.7" stroke="#99bc60" stroke-width="0.9" stroke-linecap="round" fill="none"/>
<path d="M352.2 80.7L352.6 81.2" stroke="#96bc63" stroke-width="0.9" stroke-linecap="round" fill="none"/>
<path d="M352.6 81.2L354.4 83.1" stroke="#8ebb69" stroke-width="0.9" stroke-linecap="round" fill="none"/>
<path d="M354.4 83.1L356.2 84.5" stroke="#82ba71" stroke-width="0.9" stroke-linecap="round" fill="none"/>
<path d="M356.2 84.5L358.0 85.7" stroke="#7bb77a" stroke-width="0.9" stroke-linecap="round" fill="none"/>
<path d="M358.0 85.7L359.8 86.6" stroke="#75b482" stroke-width="0.9" stroke-linecap="round" fill="none"/>
<path d="M359.8 86.6L361.6 87.3" stroke="#71b288" stroke-width="0.9" stroke-linecap="round" fill="none"/>
<path d="M361.6 87.3L363.4 87.9" stroke="#6db18c" stroke-width="0.9" stroke-linecap="round" fill="none"/>
<path d="M363.4 87.9L365.2 88.4" stroke="#6aaf90" stroke-width="0.9" stroke-linecap="round" fill="none"/>
<path d="M365.2 88.4L367.0 88.9" stroke="#67ae94" stroke-width="0.9" stroke-linecap="round" fill="none"/>
<path d="M367.0 88.9L368.8 89.2" stroke="#65ad96" stroke-width="0.9" stroke-linecap="round" fill="none"/>
<path d="M368.8 89.2L370.6 89.3" stroke="#64ad98" stroke-width="0.9" stroke-linecap="round" fill="none"/>
<path d="M370.6 89.3L372.4 89.3" stroke="#63ad98" stroke-width="0.9" stroke-linecap="round" fill="none"/>
<path d="M372.4 89.3L374.2 89.3" stroke="#64ad98" stroke-width="0.9" stroke-linecap="round" fill="none"/>
<path d="M374.2 89.3L376.0 89.2" stroke="#64ad98" stroke-width="0.9" stroke-linecap="round" fill="none"/>
<path d="M376.0 89.2L377.8 89.1" stroke="#64ad97" stroke-width="0.9" stroke-linecap="round" fill="none"/>
<path d="M377.8 89.1L379.6 89.0" stroke="#65ad97" stroke-width="0.9" stroke-linecap="round" fill="none"/>
<path d="M379.6 89.0L381.4 88.9" stroke="#65ae96" stroke-width="0.9" stroke-linecap="round" fill="none"/>
<path d="M381.4 88.9L383.2 88.8" stroke="#66ae95" stroke-width="0.9" stroke-linecap="round" fill="none"/>
<path d="M383.2 88.8L385.0 88.7" stroke="#66ae94" stroke-width="0.9" stroke-linecap="round" fill="none"/>
<path d="M385.0 88.7L386.8 88.6" stroke="#67ae93" stroke-width="0.9" stroke-linecap="round" fill="none"/>
<path d="M386.8 88.6L388.6 88.4" stroke="#68af92" stroke-width="0.9" stroke-linecap="round" fill="none"/>
<path d="M388.6 88.4L390.4 88.2" stroke="#69af91" stroke-width="0.9" stroke-linecap="round" fill="none"/>
<path d="M390.4 88.2L392.2 87.9" stroke="#6bb08f" stroke-width="0.9" stroke-linecap="round" fill="none"/>
<path d="M392.2 87.9L394.0 87.7" stroke="#6cb08d" stroke-width="0.9" stroke-linecap="round" fill="none"/>
<path d="M394.0 87.7L395.8 87.4" stroke="#6db18c" stroke-width="0.9" stroke-linecap="round" fill="none"/>
<rect x="291.8" y="51.0" width="106.2" height="64.6" fill="none" stroke="#959595" stroke-width="0.5"/>
<path d="M294.2 115.6v-2M294.2 51.0v2M319.6 115.6v-2M319.6 51.0v2M345.0 115.6v-2M345.0 51.0v2M370.4 115.6v-2M370.4 51.0v2M395.8 115.6v-2M395.8 51.0v2M291.8 109.0h2M398.0 109.0h-2M291.8 97.0h2M398.0 97.0h-2M291.8 85.0h2M398.0 85.0h-2M291.8 73.0h2M398.0 73.0h-2M291.8 61.0h2M398.0 61.0h-2M300.6 115.6v-1.2M300.6 51.0v1.2M306.9 115.6v-1.2M306.9 51.0v1.2M313.2 115.6v-1.2M313.2 51.0v1.2M325.9 115.6v-1.2M325.9 51.0v1.2M332.3 115.6v-1.2M332.3 51.0v1.2M338.6 115.6v-1.2M338.6 51.0v1.2M351.4 115.6v-1.2M351.4 51.0v1.2M357.7 115.6v-1.2M357.7 51.0v1.2M364.1 115.6v-1.2M364.1 51.0v1.2M376.8 115.6v-1.2M376.8 51.0v1.2M383.1 115.6v-1.2M383.1 51.0v1.2M389.4 115.6v-1.2M389.4 51.0v1.2M291.8 113.8h1.2M398.0 113.8h-1.2M291.8 111.4h1.2M398.0 111.4h-1.2M291.8 106.6h1.2M398.0 106.6h-1.2M291.8 104.2h1.2M398.0 104.2h-1.2M291.8 101.8h1.2M398.0 101.8h-1.2M291.8 99.4h1.2M398.0 99.4h-1.2M291.8 94.6h1.2M398.0 94.6h-1.2M291.8 92.2h1.2M398.0 92.2h-1.2M291.8 89.8h1.2M398.0 89.8h-1.2M291.8 87.4h1.2M398.0 87.4h-1.2M291.8 82.6h1.2M398.0 82.6h-1.2M291.8 80.2h1.2M398.0 80.2h-1.2M291.8 77.8h1.2M398.0 77.8h-1.2M291.8 75.4h1.2M398.0 75.4h-1.2M291.8 70.6h1.2M398.0 70.6h-1.2M291.8 68.2h1.2M398.0 68.2h-1.2M291.8 65.8h1.2M398.0 65.8h-1.2M291.8 63.4h1.2M398.0 63.4h-1.2M291.8 58.6h1.2M398.0 58.6h-1.2M291.8 56.2h1.2M398.0 56.2h-1.2M291.8 53.8h1.2M398.0 53.8h-1.2M291.8 51.4h1.2M398.0 51.4h-1.2" stroke="#959595" stroke-width="0.4" fill="none"/>
<text x="293.8" y="126.9" font-size="9.5" text-anchor="middle" font-weight="bold" >−2</text>
<text x="319.2" y="126.9" font-size="9.5" text-anchor="middle" font-weight="bold" >−1</text>
<text x="345.0" y="126.9" font-size="9.5" text-anchor="middle" font-weight="bold" >0</text>
<text x="370.4" y="126.9" font-size="9.5" text-anchor="middle" font-weight="bold" >1</text>
<text x="395.8" y="126.9" font-size="9.5" text-anchor="middle" font-weight="bold" >2</text>
<text x="289.7" y="112.4" font-size="9.5" text-anchor="end" font-weight="bold" >0.10</text>
<text x="289.7" y="100.4" font-size="9.5" text-anchor="end" font-weight="bold" >0.15</text>
<text x="289.7" y="88.4" font-size="9.5" text-anchor="end" font-weight="bold" >0.20</text>
<text x="289.7" y="76.4" font-size="9.5" text-anchor="end" font-weight="bold" >0.25</text>
<text x="289.7" y="64.4" font-size="9.5" text-anchor="end" font-weight="bold" >0.30</text>
<text x="345.0" y="144.9" font-size="14.5" text-anchor="middle" font-weight="bold" >x</text>
<text transform="translate(266.3,84.4) rotate(-90)" font-size="14.4" text-anchor="middle" font-weight="bold">|<tspan font-style="italic">v</tspan><tspan font-size="9.8" dy="2.8">16</tspan><tspan dy="-2.8">|</tspan></text>
<linearGradient id="gB" x1="0" y1="0" x2="0" y2="1"><stop offset="0.000" stop-color="#db2122"/><stop offset="0.043" stop-color="#de3f27"/><stop offset="0.087" stop-color="#e25c2c"/><stop offset="0.130" stop-color="#e47531"/><stop offset="0.174" stop-color="#e48a35"/><stop offset="0.217" stop-color="#e39e39"/><stop offset="0.261" stop-color="#dba83c"/><stop offset="0.304" stop-color="#d3b340"/><stop offset="0.348" stop-color="#c7b845"/><stop offset="0.391" stop-color="#b8bb4d"/><stop offset="0.435" stop-color="#a8bd55"/><stop offset="0.478" stop-color="#98bc61"/><stop offset="0.522" stop-color="#87ba6d"/><stop offset="0.565" stop-color="#78b67e"/><stop offset="0.609" stop-color="#6bb08f"/><stop offset="0.652" stop-color="#5ea8a0"/><stop offset="0.696" stop-color="#559eaf"/><stop offset="0.739" stop-color="#4c93be"/><stop offset="0.783" stop-color="#4782c5"/><stop offset="0.826" stop-color="#426fcc"/><stop offset="0.870" stop-color="#415ccb"/><stop offset="0.913" stop-color="#4345c2"/><stop offset="0.957" stop-color="#462fba"/><stop offset="1.000" stop-color="#5a27a5"/></linearGradient>
<rect x="404.4" y="72.4" width="6.0" height="48.2" fill="url(#gB)"/>
<text x="413.2" y="82.0" font-size="10" text-anchor="start" font-weight="bold" >0.30</text>
<text x="413.2" y="91.8" font-size="10" text-anchor="start" font-weight="bold" >0.25</text>
<text x="413.2" y="101.6" font-size="10" text-anchor="start" font-weight="bold" >0.20</text>
<text x="413.2" y="111.4" font-size="10" text-anchor="start" font-weight="bold" >0.15</text>
<text x="413.2" y="121.2" font-size="10" text-anchor="start" font-weight="bold" >0.10</text>
<path d="M410.4 78.4h1.6M410.4 88.2h1.6M410.4 98.0h1.6M410.4 107.8h1.6M410.4 117.6h1.6" stroke="#7f7f7f" stroke-width="0.4"/>
<g clip-path="url(#clipC)">
<clipPath id="clipC"><rect x="538" y="4.4" width="110" height="110"/></clipPath>
<path d="M593.5 59.4 622.2 58.5 648 57 648 4.4 647.5 4.4 594.4 4.4 593.5 32.7 593 58.5 593 59.4ZM593.5 59.5 603.1 59.9 618.4 61.3 633.3 63.1 648 65.3 648 114.4 647.1 114.4 593 114.4 593 59.4ZM592.5 59.4 538 59.4 538 4.4 538.9 4.4 588.7 4.4 590.7 22.8 592.1 39.5 593 59 593 59.4ZM592.5 59.4 538 59.4 538 114.4 538.5 114.4 593 114.4 593 59.4Z" fill="#721e8d"/>
<path d="M593.5 59.4 622.2 58.5 648 57 648 4.4 647.5 4.4 594.4 4.4 593.5 32.7 593 58.5 593 59.4ZM593.5 59.5 603.1 59.9 618.4 61.3 633.3 63.1 648 65.3 648 114.4 640.6 114.4 593 114.4 593 100.6 595.2 98.2 598.8 93.6 599.4 88.5 599.4 85.7 598.9 82.5 596.7 75.4 596.2 74.2 594.4 72.1 593 70.1 593 59.4ZM592.5 59.4 538 59.4 538 53.3 542.6 53.3 544.9 52.9 554.2 50.8 556.9 50 557.5 49.7 550.5 44.4 545.4 41 538 38 538 23.3 538 4.4 588.7 4.4 590.7 22.8 592.1 39.5 593 59 593 59.4ZM592.5 59.4 538 59.4 538 114.4 538.5 114.4 593 114.4 593 59.4Z" fill="#4346c3"/>
<path d="M593.5 59.4 622.2 58.5 648 57 648 4.4 647.5 4.4 594.4 4.4 593.5 32.7 593 58.5 593 59.4ZM593.5 59.5 603.1 59.9 618.4 61.3 633.3 63.1 648 65.3 648 114.4 646.6 114.4 608.4 114.4 608.8 105.2 608.6 99.6 607.6 92.7 606.3 86.7 605.1 83 603.4 78.8 593.2 59.9 593 59.4ZM592.5 59.4 538 59.4 538 58.1 560.6 57.8 573.1 56.9 575.3 56.6 576.4 56.2 579 54.3 576.3 50.2 568 43.3 560.6 38.4 550 32.3 538 26.6 538 4.4 588.7 4.4 590.7 22.8 592.1 39.5 593 59 593 59.4ZM592.5 59.4 538 59.4 538 114.4 539.8 114.4 574.9 114.4 583.3 89.9 583.6 89.4 583.8 88.5 584.1 88.1 584.2 87.1 584.6 86.7 584.7 85.7 585.1 85.3 585.1 84.3 585.5 83.9 585.6 83 586 82.5 586.1 81.6 586.5 81.1 586.5 80.3 589.8 81.1 593 81.3 593 59.4Z" fill="#4885c4"/>
<path d="M593.5 59.4 622.2 58.5 648 57 648 4.4 647.5 4.4 594.4 4.4 593.5 32.7 593 58.5 593 59.4ZM593.5 59.5 603.1 59.9 618.4 61.3 633.3 63.1 648 65.3 648 114.4 647.1 114.4 630.9 114.4 620 95 609.9 78.8 605.3 72.3 600.9 66.8 597.2 62.6 593.9 59.9 593.5 59.8 593.1 59.4ZM592.6 58.9 592.5 57.5 591.1 54.8 587.9 50.2 582.6 44.6 576.4 39 568.5 33 559.7 27 548.2 19.9 538 14.2 538 4.4 538.9 4.4 588.7 4.4 590.7 22.8 592.1 39.5 593 59 593 59.4ZM592.5 59.4 538 59.4 538 114.4 538.9 114.4 542.1 114.4 593 59.4Z" fill="#62ac9a"/>
<path d="M593.5 59.4 622.2 58.5 648 57 648 36.8 643.4 39.1 639.7 40.5 639.2 40.9 630 44.7 628.6 45.5 620.3 48.9 619.8 49.2 613.3 51.7 612 52.5 611 52.6 609.6 53.4 608.7 53.5 606 54.8 604.1 55.3 603.6 55.7 602.7 55.8 602.3 56.2 600.4 56.7 599.9 57.1 599 57.2 598.6 57.5 597.6 57.7 595.8 58.5 594.9 58.6 594.4 58.9 593.4 58.9 593.5 56.5 595.3 50.2 595.7 49.7 597.6 44.6 599.9 40 603.6 33.6 606.9 28.6 610.1 23.8 615.6 16.4 625.8 4.4 594.4 4.4 593.5 32.7 593 58.5 593 59.4ZM593.5 59.5 603.1 59.9 618.4 61.3 633.3 63.1 648 65.3 648 100.1 631.8 85.7 624 79.3 615.6 72.8 609.1 68.2 602.6 64 597.6 61.3 594.5 59.9 593.5 59.8 593.1 59.4ZM592.6 58.9 592.5 56.8 592.1 55.3 590.7 51.9 588.8 48.2 585.1 42.3 579.6 35 574 28.7 567.6 22 558.8 13.8 547.7 4.4 548.2 4.4 588.7 4.4 590.7 22.8 592.1 39.5 593 59 593 59.3ZM592.5 59.4 538 59.4 538 83.6 538.4 83.4 592.5 59.8 592.9 59.4Z" fill="#90bb67"/>
<path d="M593.5 59.4 622.2 58.5 648 57 648 47.9 627.2 52.9 605 57.5 596.8 58.9 593.5 59.1 593.3 58.9 593.4 57.5 593.5 53.3 593.9 49.6 594.9 43.7 596.7 34.4 599.9 21.5 603.2 10.4 605.2 4.4 594.4 4.4 593.5 32.7 593 58.5 593 59.2ZM593.5 59.5 603.1 59.9 618.4 61.3 633.3 63.1 648 65.3 648 83.1 647.8 83 632.2 74.7 616.6 67.3 603.6 62.2 597.5 60.3 595.6 59.9 593.5 59.7 593.2 59.4ZM592.7 58.9 592.5 55.7 591.6 51.6 589.8 45.7 587 38.6 583.3 30.8 578.2 21.5 572.2 11.8 567.1 4.4 568 4.4 588.7 4.4 590.7 22.8 592.1 39.5 593 59 593 59.2ZM592.5 59.4 538 59.4 538 64 538.5 63.9 540.7 63.6 544.5 63.4 545.8 63.1 549.6 63 550.9 62.6 560.2 62 561.6 61.7 571.3 61.1 573 60.8 577.3 60.7 579 60.3 583.8 60.2 585.4 59.9 591.6 59.8 592.5 59.6 592.8 59.4Z" fill="#c3b947"/>
<path d="M593.5 59.4 622.2 58.5 648 57 648 53 618.3 57.1 600.4 58.9 593.9 59.1 593.5 59.2 593.2 59.4ZM593.1 58.9 593.3 58 593.5 49.5 594.4 38.8 596.2 23.2 599.1 4.4 598.5 4.4 594.4 4.4 593.5 32.7ZM593.5 59.5 603.1 59.9 618.4 61.3 633.3 63.1 648 65.3 648 75.1 647.5 75 631.5 69.1 615.2 64 602.1 60.8 597 59.9 593.5 59.7 593.2 59.4ZM592.8 58.9 592.5 54.2 592.1 51.2 589.3 38.7 587 30.7 584.2 22.5 580.5 12.7 577 4.4 577.7 4.4 588.7 4.4 590.7 22.8 592.1 39.5 593 59 593 59.2ZM592.5 59.4 538 59.4 538 60.8 538.5 60.8 565.3 60.2 570.8 59.9 590.7 59.7Z" fill="#e29f3a"/>
<path d="M593.5 59.4 622.2 58.5 648 57 648 54.9 617.1 58 604 58.9 593.9 59.1ZM593.2 58.5 593.5 42.7 593.9 32.9 595.7 6.2 595.8 4.4 594.9 4.4 594.4 4.4 593.9 17.1 593.4 38.6 593 58.5 593 58.9ZM593.5 59.5 603.1 59.9 618.4 61.3 633.3 63.1 648 65.3 648 70.9 647.5 70.8 631.2 66.3 615.2 62.6 602 60.3ZM592.8 58.9 592.5 52.7 592.1 48.7 590.2 37.3 587 22.3 582.1 4.4 582.8 4.4 588.7 4.4 588.8 5.3 590.7 22.8 592.1 39.5 592.5 46.9 593 59ZM592.1 59.4 538 59.4 538 60.1 538.5 60.1Z" fill="#e2592c"/>
<path d="M593.5 59.4 611.4 58.9 639.4 57.5 648 57 648 56.1 615.9 58.5 607.2 58.9 594.4 59.2ZM593.1 58.5 593.5 38.5 595 4.4 594.4 4.4 593.5 32.7ZM593.5 59.5 603.1 59.9 618.4 61.3 633.3 63.1 645.7 64.9 648 65.3 648 67.9 647.5 67.8 633.9 64.9 618.4 62.2 604.9 60.3ZM592.9 58.9 592.5 50.6 590.7 33.8 588.4 18.8 585.7 4.4 586.5 4.4 588.7 4.4 588.8 5.3 590.7 22.8 592.1 39.5 592.5 46.9Z" fill="#db2122"/>
<path d="M593 59.4 593 59.4M648 36.8 637.8 41.4 605.9 54.8 593.4 58.9 593.8 55.7 598.1 43.7 608.9 25.7 621.7 9.1 625.8 4.4M593 59.2 593.1 59.4M648 47.9 593.3 58.9 593.4 56.2 597.2 32.5 605.2 4.4M593 59.1 596.9 18.7 599.1 4.4M648 53 593.2 59.4M593 58.9 595.8 4.4M648 54.9 593.3 59.4M593 58.7 595 4.4M648 56.1 593.4 59.4M593 58.5 594.4 4.4M648 57 593.6 59.4M593 100.6 595.2 98.2 598.8 93.6 599.3 91.3 599.5 88.1 599.3 85.3 598.9 82.5 596.7 75.4 596.2 74.2 594.4 72.1 593 70.1M608.4 114.4 606.9 88.9 599.9 72.1 593 59.4M630.9 114.4 604.9 71.9 593.1 59.4M648 100.1 611 69.5 593.1 59.4M648 83.1 616.1 67.1 593.2 59.4M648 75.1 593.2 59.4M648 70.9 593.3 59.4M648 67.9 600.4 59.9 593.3 59.4M648 65.3 593.4 59.4M538 53.3 542.6 53.3 544.9 52.9 554.2 50.8 556.9 50 557.5 49.7 550.5 44.4 545.4 41 538 38M538 58.1 577.7 55.2 577.5 52 569 44 547.2 31 538 26.6M593 59.4 586.2 48.3 572.2 35.8 545.9 18.6 538 14.2M593 59.3 591.3 53.4 583.1 39.5 564.8 19.3 547.7 4.4M593 59.2 592.2 54.3 586.1 36.8 574.8 16 567.1 4.4M593 59.2 592.6 54.8 588.8 37 577 4.4M593 59.1 592.6 54.8 588.8 30.3 582.1 4.4M593 59 592.7 54.8 588.7 21 585.7 4.4M593 59 588.7 4.4M574.9 114.4 583.3 89.9 583.6 89.4 583.8 88.5 584.1 88.1 584.2 87.1 584.6 86.7 584.7 85.7 585.1 85.3 585.1 84.3 585.5 83.9 585.6 83 586 82.5 586.1 81.6 586.5 81.1 586.5 80.3 589.8 81.1 593 81.3M542.1 114.4 593 59.4M538 83.6 592.9 59.4M538 64 592.8 59.4M538 60.8 565.3 60.2 570.8 59.9 590.7 59.7 592.6 59.4M538 60.1 592.4 59.4" fill="none" stroke="#1a1a1a" stroke-opacity="0.55" stroke-width="0.35"/>
<path d="M593 59.4L592.2 114.4L593.6 114.4Z" fill="#62ac9a" stroke="#333" stroke-width="0.25"/>
<path d="M538 59.6L593 59.4" stroke="#3a2a10" stroke-width="0.7"/>
</g>
<rect x="535.7" y="2.0" width="114.2" height="114.5" fill="none" stroke="#a8a8a8" stroke-width="0.5"/>
<path d="M538.0 116.5v-2M538.0 2.0v2M565.5 116.5v-2M565.5 2.0v2M593.0 116.5v-2M593.0 2.0v2M620.5 116.5v-2M620.5 2.0v2M648.0 116.5v-2M648.0 2.0v2M535.7 114.4h2M649.9 114.4h-2M535.7 86.9h2M649.9 86.9h-2M535.7 59.4h2M649.9 59.4h-2M535.7 31.9h2M649.9 31.9h-2M535.7 4.4h2M649.9 4.4h-2M544.9 116.5v-1.2M544.9 2.0v1.2M551.8 116.5v-1.2M551.8 2.0v1.2M558.6 116.5v-1.2M558.6 2.0v1.2M572.4 116.5v-1.2M572.4 2.0v1.2M579.2 116.5v-1.2M579.2 2.0v1.2M586.1 116.5v-1.2M586.1 2.0v1.2M599.9 116.5v-1.2M599.9 2.0v1.2M606.8 116.5v-1.2M606.8 2.0v1.2M613.6 116.5v-1.2M613.6 2.0v1.2M627.4 116.5v-1.2M627.4 2.0v1.2M634.2 116.5v-1.2M634.2 2.0v1.2M641.1 116.5v-1.2M641.1 2.0v1.2M535.7 107.5h1.2M649.9 107.5h-1.2M535.7 100.7h1.2M649.9 100.7h-1.2M535.7 93.8h1.2M649.9 93.8h-1.2M535.7 80.0h1.2M649.9 80.0h-1.2M535.7 73.2h1.2M649.9 73.2h-1.2M535.7 66.3h1.2M649.9 66.3h-1.2M535.7 52.5h1.2M649.9 52.5h-1.2M535.7 45.6h1.2M649.9 45.6h-1.2M535.7 38.8h1.2M649.9 38.8h-1.2M535.7 25.0h1.2M649.9 25.0h-1.2M535.7 18.1h1.2M649.9 18.1h-1.2M535.7 11.3h1.2M649.9 11.3h-1.2" stroke="#a8a8a8" stroke-width="0.4" fill="none"/>
<text x="537.6" y="127.1" font-size="9.5" text-anchor="middle" font-weight="bold" >−2</text>
<text x="565.1" y="127.1" font-size="9.5" text-anchor="middle" font-weight="bold" >−1</text>
<text x="593.0" y="127.1" font-size="9.5" text-anchor="middle" font-weight="bold" >0</text>
<text x="620.5" y="127.1" font-size="9.5" text-anchor="middle" font-weight="bold" >1</text>
<text x="648.0" y="127.1" font-size="9.5" text-anchor="middle" font-weight="bold" >2</text>
<text x="533.9" y="117.4" font-size="9.5" text-anchor="end" font-weight="bold" >−2</text>
<text x="533.9" y="89.9" font-size="9.5" text-anchor="end" font-weight="bold" >−1</text>
<text x="533.9" y="62.4" font-size="9.5" text-anchor="end" font-weight="bold" >0</text>
<text x="533.9" y="34.9" font-size="9.5" text-anchor="end" font-weight="bold" >1</text>
<text x="533.9" y="7.4" font-size="9.5" text-anchor="end" font-weight="bold" >2</text>
<text x="593.0" y="144.9" font-size="14.5" text-anchor="middle" font-weight="bold" >x</text>
<text transform="translate(516.4,59.4) rotate(-90)" font-size="14.5" text-anchor="middle" font-weight="bold">t</text>
<rect x="656.5" y="28.90" width="5.8" height="9.50" fill="#db2122"/>
<rect x="656.5" y="38.20" width="5.8" height="9.36" fill="#e2592c"/>
<rect x="656.5" y="47.36" width="5.8" height="9.36" fill="#e29f3a"/>
<rect x="656.5" y="56.51" width="5.8" height="9.36" fill="#c3b947"/>
<rect x="656.5" y="65.67" width="5.8" height="9.36" fill="#90bb67"/>
<rect x="656.5" y="74.83" width="5.8" height="9.36" fill="#62ac9a"/>
<rect x="656.5" y="83.98" width="5.8" height="9.36" fill="#4885c4"/>
<rect x="656.5" y="93.14" width="5.8" height="9.36" fill="#4346c3"/>
<rect x="656.5" y="102.30" width="5.8" height="8.30" fill="#721e8d"/>
<path d="M662.3 38.20h2M662.3 47.36h2M662.3 56.51h2M662.3 65.67h2M662.3 74.83h2M662.3 83.98h2M662.3 93.14h2M662.3 102.30h2" stroke="#7f7f7f" stroke-width="0.4"/>
<text x="665.0" y="41.6" font-size="9.5" text-anchor="start" font-weight="bold" >0.40</text>
<text x="665.0" y="50.8" font-size="9.5" text-anchor="start" font-weight="bold" >0.35</text>
<text x="665.0" y="59.9" font-size="9.5" text-anchor="start" font-weight="bold" >0.30</text>
<text x="665.0" y="69.1" font-size="9.5" text-anchor="start" font-weight="bold" >0.25</text>
<text x="665.0" y="78.2" font-size="9.5" text-anchor="start" font-weight="bold" >0.20</text>
<text x="665.0" y="87.4" font-size="9.5" text-anchor="start" font-weight="bold" >0.15</text>
<text x="665.0" y="96.5" font-size="9.5" text-anchor="start" font-weight="bold" >0.10</text>
<text x="665.0" y="105.7" font-size="9.5" text-anchor="start" font-weight="bold" >0.05</text>
<clipPath id="clipD"><rect x="176.1" y="213.3" width="113.8" height="113.8"/></clipPath>
<g clip-path="url(#clipD)">
<path d="M233.5 270.2 259.8 269.3 289.9 267.3 289.9 213.3 289.4 213.3 234.7 213.3 233.5 245.8 233 269.4 233 270.2ZM233.5 270.4 241.9 270.7 257.9 272.4 273.6 274.7 289.9 277.6 289.9 327.1 288.9 327.1 233 327.1 233 270.3ZM232.5 270.2 176.1 270.2 176.1 213.3 177.1 213.3 227.2 213.3 229.8 232.5 231.7 249.7 233 269.8 233 270.2ZM232.5 270.3 176.1 270.3 176.1 327.1 176.6 327.1 233 327.1 233 270.3Z" fill="#721e8c"/>
<path d="M233.5 270.2 259.8 269.3 289.9 267.3 289.9 213.3 289.4 213.3 234.7 213.3 233.5 245.8 233 269.4 233 270.2ZM233.5 270.4 241.9 270.7 257.9 272.4 273.6 274.7 289.9 277.6 289.9 327.1 288.9 327.1 233 327.1 233 270.3ZM232.5 270.2 176.1 270.2 176.1 213.3 177.1 213.3 227.2 213.3 229.8 232.5 231.7 249.7 233 269.8 233 270.2ZM232.5 270.3 176.1 270.3 176.1 327.1 176.6 327.1 233 327.1 233 270.3Z" fill="#662299"/>
<path d="M233.5 270.2 259.8 269.3 289.9 267.3 289.9 213.3 289.4 213.3 234.7 213.3 233.5 245.8 233 269.4 233 270.2ZM233.5 270.4 241.9 270.7 257.9 272.4 273.6 274.7 289.9 277.6 289.9 327.1 285.1 327.1 233 327.1 233 303.6 235.7 299.9 236.4 298 236.7 296.1 235.8 292.7 233 288.4 233 270.3ZM232.5 270.2 176.1 270.2 176.1 260 184.2 259 185.7 258.8 185.8 258.3 180.9 255.4 176.1 253.2 176.1 222.4 176.1 213.3 227.2 213.3 229.8 232.5 231.7 249.7 233 269.8 233 270.2ZM232.5 270.3 176.1 270.3 176.1 327.1 176.6 327.1 233 327.1 233 270.3Z" fill="#5a27a5"/>
<path d="M233.5 270.2 259.8 269.3 289.9 267.3 289.9 213.3 289.4 213.3 234.7 213.3 233.5 245.8 233 269.4 233 270.2ZM233.5 270.4 241.9 270.7 257.9 272.4 273.6 274.7 289.9 277.6 289.9 327.1 282.7 327.1 233 327.1 233 309.6 238.7 303 239 299.4 238.5 294.2 236.8 288.2 233 283.5 233 270.3ZM232.5 270.2 176.1 270.2 176.1 263.1 184.7 261.9 193.3 259.7 184.2 253.4 176.1 249.3 176.1 229.6 176.1 213.3 227.2 213.3 229.8 232.5 231.7 249.7 233 269.8 233 270.2ZM232.5 270.3 176.1 270.3 176.1 327.1 176.6 327.1 233 327.1 233 270.3Z" fill="#4e2bb1"/>
<path d="M233.5 270.2 259.8 269.3 289.9 267.3 289.9 213.3 289.4 213.3 234.7 213.3 233.5 245.8 233 269.4 233 270.2ZM233.5 270.4 241.9 270.7 257.9 272.4 273.6 274.7 289.9 277.6 289.9 327.1 281.3 327.1 233 327.1 233 316.3 236.5 312.8 239.2 309.3 240 305.6 240.4 300.9 240 295.6 238.2 289.4 235.9 283 233 279.4 233 270.3ZM232.5 270.2 176.1 270.2 176.1 264.5 186.6 264.4 197.1 261.7 198.8 261.2 199.2 260.7 189 252.6 183.3 249.8 176.1 247 176.1 236.3 176.1 213.3 227.2 213.3 229.8 232.5 231.7 249.7 233 269.8 233 270.2ZM232.5 270.3 176.1 270.3 176.1 327.1 176.6 327.1 233 327.1 233 270.3Z" fill="#4632bb"/>
<path d="M233.5 270.2 259.8 269.3 289.9 267.3 289.9 213.3 289.4 213.3 234.7 213.3 233.5 245.8 233 269.4 233 270.2ZM233.5 270.4 241.9 270.7 257.9 272.4 273.6 274.7 289.9 277.6 289.9 327.1 279.9 327.1 233 327.1 233 322.8 238.3 317.8 240.4 315.2 241.3 310.4 241.9 302.8 241.5 297 240 291.3 235.4 279.3 233 276.4 233 270.3ZM232.5 270.2 176.1 270.2 176.1 265.4 190 265.4 195.7 265 201 263.2 203.5 262.1 204 261.6 200 257.4 196.6 254.5 185.7 248.7 176.1 244.7 176.1 240.6 176.1 213.3 227.2 213.3 229.8 232.5 231.7 249.7 233 269.8 233 270.2ZM232.5 270.3 176.1 270.3 176.1 327.1 176.6 327.1 233 327.1 233 270.3Z" fill="#443fc0"/>
<path d="M233.5 270.2 259.8 269.3 289.9 267.3 289.9 213.3 289.4 213.3 234.7 213.3 233.5 245.8 233 269.4 233 270.2ZM233.5 270.4 241.9 270.7 257.9 272.4 273.6 274.7 289.9 277.6 289.9 327.1 282.7 327.1 236.9 327.1 240.7 322.4 242 318.5 243.3 311.4 243.4 302.3 242.8 297 241.3 291.8 234.9 276.6 233 273.8 233 270.3ZM232.5 270.2 176.1 270.2 176.1 266.4 191.4 266.3 201 265.9 202.7 265.5 208.2 262.6 203.6 256.9 201 255 188.1 247.7 177.5 243 176.1 242.4 176.1 213.3 227.2 213.3 229.8 232.5 231.7 249.7 233 269.8 233 270.2ZM232.5 270.3 176.1 270.3 176.1 327.1 176.6 327.1 233 327.1 233 270.3Z" fill="#424cc5"/>
<path d="M233.5 270.2 259.8 269.3 289.9 267.3 289.9 213.3 289.4 213.3 234.7 213.3 233.5 245.8 233 269.4 233 270.2ZM233.5 270.4 241.9 270.7 257.9 272.4 273.6 274.7 289.9 277.6 289.9 327.1 286.1 327.1 243 327.1 244.8 318.5 245.4 313.3 245.4 308 244.7 299.9 243.6 295.1 242.1 290.8 233.2 272.2 233 270.3ZM232.5 270.2 176.1 270.2 176.1 267.3 196.7 267.1 206.2 266.5 207.7 266.2 212.1 263.6 208.6 258.3 203.4 254.4 192.4 247.8 181.8 242.6 176.1 240.1 176.1 213.3 227.2 213.3 229.8 232.5 231.7 249.7 233 269.8 233 270.2ZM232.5 270.3 176.1 270.3 176.1 327.1 177.1 327.1 228.9 327.1 230.5 322.8 233 318.5 233 270.3Z" fill="#4159ca"/>
<path d="M233.5 270.2 259.8 269.3 289.9 267.3 289.9 213.3 289.4 213.3 234.7 213.3 233.5 245.8 233 269.4 233 270.2ZM233.5 270.4 241.9 270.7 257.9 272.4 273.6 274.7 289.9 277.6 289.9 327.1 288 327.1 246.7 327.1 247.6 318.1 247.8 312.3 247.1 305.2 246 298.9 243.5 291.3 233.1 270.7 233 270.3ZM232.5 270.2 176.1 270.2 176.1 268.3 197.1 268.1 207.7 267.5 212.5 266.9 216 264.5 215.9 264 213.1 259.7 206.6 254.5 198.1 248.9 186.1 242.4 176.1 237.8 176.1 213.3 227.2 213.3 229.8 232.5 231.7 249.7 233 269.8 233 270.2ZM232.5 270.3 176.1 270.3 176.1 327.1 177.1 327.1 219.7 327.1 222.3 320 225.3 314.1 228.7 309.5 233 305.6 233 270.3Z" fill="#4066cf"/>
<path d="M233.5 270.2 259.8 269.3 289.9 267.3 289.9 213.3 289.4 213.3 234.7 213.3 233.5 245.8 233 269.4 233 270.2ZM233.5 270.4 241.9 270.7 257.9 272.4 273.6 274.7 289.9 277.6 289.9 327.1 288.9 327.1 250.5 327.1 250.5 317.6 250.1 311.8 249.3 306.6 247.4 298.5 245.7 293.7 243.8 289.4 233.3 270.7 233 270.3ZM232.5 270.2 176.1 270.2 176.1 269.1 200 269 212.9 268.2 217.9 267.4 220.2 265.5 217.4 261.2 209.5 254.5 202.9 249.7 190.4 242.4 176.1 235.4 176.1 213.3 227.2 213.3 229.8 232.5 231.7 249.7 233 269.8 233 270.2ZM232.5 270.3 176.1 270.3 176.1 327.1 182.8 327.1 212 327.1 224.4 294.4 232.5 271.8 232.9 272.2 233 277.9 233 270.3Z" fill="#4271cb"/>
<path d="M233.5 270.2 259.8 269.3 289.9 267.3 289.9 213.3 289.4 213.3 234.7 213.3 233.5 245.8 233 269.4 233 270.2ZM233.5 270.4 241.9 270.7 257.9 272.4 273.6 274.7 289.9 277.6 289.9 327.1 288.9 327.1 254.5 327.1 253.4 317.1 252.5 310.9 250.9 304.7 248.6 297.5 246.6 292.7 243.9 287.5 238.5 278.4 233 270.3ZM232.5 270.2 176.1 270.2 176.1 269.8 204.3 269.8 216.7 269.4 222.5 268.5 223.4 267.9 224.2 266.9 224.5 266.4 222.6 263.6 213 254.9 205.3 249.1 194.6 242.5 186.1 237.8 176.1 232.9 176.1 213.3 227.2 213.3 229.8 232.5 231.7 249.7 233 269.8 233 270.2ZM232.5 270.3 176.1 270.3 176.1 327.1 177.1 327.1 206.4 327.1 233 270.6 233 270.3Z" fill="#457bc8"/>
<path d="M233.5 270.2 259.8 269.3 289.9 267.3 289.9 213.3 289.4 213.3 234.7 213.3 233.5 245.8 233 269.4 233 270.2ZM233.5 270.4 241.9 270.7 257.9 272.4 273.6 274.7 289.9 277.6 289.9 327.1 288.9 327.1 258.7 327.1 254.9 310.4 252.8 304.2 249.8 296.5 247.3 291.3 243.6 285.1 237.9 276.5 233 270.3ZM232.5 270.1 230.1 269.8 228.9 269.3 228.6 268.8 228.6 267.9 227.5 265.9 223 261.4 214.8 254.2 206.7 248 191.4 238.4 176.1 230.4 176.1 213.3 177.1 213.3 227.2 213.3 229.7 231.5 231.6 247.9 233 269.8 233 270.2ZM232.5 270.3 176.1 270.3 176.1 327.1 177.1 327.1 200.3 327.1 233 270.6 233 270.3Z" fill="#4886c4"/>
<path d="M233.5 270.2 259.8 269.3 289.9 267.3 289.9 213.3 289.4 213.3 234.7 213.3 233.5 245.8 233 269.4 233 270.2ZM233.5 270.4 241.9 270.7 257.9 272.4 273.6 274.7 289.9 277.6 289.9 327.1 288.9 327.1 263.3 327.1 257.2 309.5 250.7 295.1 247.2 288.9 242.2 281.2 237.1 274.6 233 270.3ZM232.5 269.8 228.2 264.5 223.9 260 217.7 254.4 210.5 248.6 203.8 243.9 194.7 238.2 176.1 227.8 176.1 213.3 177.1 213.3 227.2 213.3 229.7 231.5 231.6 247.9 233 269.8 233 270.2ZM232.5 270.3 176.1 270.3 176.1 327.1 177.1 327.1 193.6 327.1 233 270.5Z" fill="#4b90c0"/>
<path d="M233.5 270.2 259.8 269.3 289.9 267.3 289.9 213.3 289.4 213.3 234.7 213.3 233.5 245.8 233 269.4 233 270.2ZM233.5 270.4 241.9 270.7 257.9 272.4 273.6 274.7 289.9 277.6 289.9 327.1 288.9 327.1 268.3 327.1 259.7 308.5 250.9 292.7 246.2 285.6 241.3 278.9 237.3 274.1 234.4 271.2 233.5 270.7 233.1 270.3ZM232.5 269.8 232.5 268.8 231.1 266.4 226.3 260.5 220.6 254.8 212.9 248.3 205.7 243.1 196.7 237.1 186.6 231.1 176.1 225.3 176.1 213.3 177.1 213.3 227.2 213.3 229.7 231.5 231.6 247.9 233 269.8 233 270.2ZM232.5 270.3 176.1 270.3 176.1 327.1 177.1 327.1 186.2 327.1 233 270.4Z" fill="#5097b8"/>
<path d="M233.5 270.2 259.8 269.3 289.9 267.3 289.9 213.3 289.4 213.3 234.7 213.3 233.5 245.8 233 269.4 233 270.2ZM233.5 270.4 241.9 270.7 257.9 272.4 273.6 274.7 289.9 277.6 289.9 327.1 288.9 327.1 273.8 327.1 262 307.1 250.4 289.4 245 282.2 240.6 276.9 236.9 273.1 234 270.7 233.5 270.7 233.1 270.3ZM232.5 269.8 232.5 268.3 231.6 266.3 228.2 261.1 223.4 255.7 216.3 249.1 207.7 242.4 198.6 236.1 187.6 229.1 176.1 222.5 176.1 213.3 177.1 213.3 227.2 213.3 229.7 231.5 231.6 247.9 233 269.8 233 270.2ZM232.5 270.3 176.1 270.3 176.1 327.1 177.1 327.1 177.7 327.1 233 270.3Z" fill="#559daf"/>
<path d="M233.5 270.2 259.8 269.3 289.9 267.3 289.9 213.3 289.4 213.3 234.7 213.3 233.5 245.8 233 269.4 233 270.2ZM233.5 270.4 241.9 270.7 257.9 272.4 273.6 274.7 289.9 277.6 289.9 327.1 288.9 327.1 279.3 327.1 265.4 306.6 252.9 289.9 246.8 282.7 241.5 276.9 236.8 272.6 234.1 270.7 233.5 270.7 233.1 270.3ZM232.6 269.8 232.5 268.2 231.6 265.9 228.2 260.6 223 254.3 216.7 248.2 208.6 241.3 199.5 234.5 188.5 227 176.1 219.2 176.1 213.3 177.1 213.3 227.2 213.3 229.7 231.5 231.6 247.9 233 269.8 233 270.2ZM232.5 270.3 176.1 270.3 176.2 320 232.5 270.7 233 270.3Z" fill="#5aa4a6"/>
<path d="M233.5 270.2 259.8 269.3 289.9 267.3 289.9 213.3 289.4 213.3 234.7 213.3 233.5 245.8 233 269.4 233 270.2ZM233.5 270.4 241.9 270.7 257.9 272.4 273.6 274.7 289.9 277.6 289.9 327.1 288.9 327.1 285.2 327.1 269.4 306.6 255.3 289.9 248.5 282.7 242.4 276.9 237.2 272.6 234.2 270.7 233.5 270.7 233.1 270.3ZM232.6 269.8 232.5 268 232 266.7 228.7 260.7 224.4 255 218.7 248.7 210 240.7 200.5 232.9 189.5 224.8 176.1 215.9 176.1 213.3 177.1 213.3 227.2 213.3 229.7 231.5 231.6 247.9 232.5 259.5 233 269.8 233 270.2ZM232.5 270.3 176.1 270.3 176.1 312.6 176.4 312.3 232.5 270.7 233 270.3Z" fill="#60aa9e"/>
<path d="M233.5 270.2 259.8 269.3 289.9 267.3 289.9 216.3 266.5 235.7 248.3 252.3 248.1 252.1 249.7 250.4 266 235.2 289.9 215.1 289.9 213.3 234.7 213.3 233.5 245.8 233 269.4 233 270.2ZM235.4 266.4 235.4 266.4ZM236.8 264.5 236.9 264.5ZM237.3 264 237.3 264ZM238.7 262.1 238.9 262.1ZM239.1 261.6 239.4 261.6ZM239.6 261.2 239.8 261.2ZM240.1 260.7 240.2 260.7ZM242 258.3 242.3 258.3ZM242.5 257.8 242.8 257.8 242.6 258ZM242.9 257.3 243.3 257.3 243 257.6ZM243.4 256.9 243.8 256.9 243.5 257.1ZM243.8 256.4 244.3 256.4 244 256.6ZM244.3 255.9 244.7 255.9 244.5 256.1ZM244.8 255.4 245.2 255.4 245 255.7ZM245.2 254.9 245.4 254.7 245.7 254.9 245.4 255.2ZM245.7 254.5 245.9 254.3 246.1 254.5 245.9 254.7ZM246.2 254 246.4 253.8 246.6 254 246.4 254.2ZM246.7 253.5 246.9 253.3 247.1 253.5 246.9 253.7ZM247.1 253 247.3 252.8 247.6 253 247.3 253.2ZM247.6 252.6 247.8 252.3 248 252.6 247.8 252.8ZM233.5 270.4 241.9 270.7 257.9 272.4 273.6 274.7 289.9 277.6 289.9 325 289.7 324.8 271.8 304.2 257 288.9 249.8 282.2 242.9 276.5 237.6 272.6 234.3 270.7 233.5 270.7 233.1 270.3ZM232.6 269.8 232.5 267.9 232 266.5 228.7 260 223.9 253.4 217.2 245.8 210.5 239.2 201.9 231.7 190.9 223 177.6 213.3 178.5 213.3 227.2 213.3 229.7 231.5 231.6 247.9 232.5 259.5 233 269.8 233 270.2ZM232.5 270.3 176.1 270.3 176.1 305.9 176.5 305.6 232.5 270.7 232.9 270.3Z" fill="#67ae94"/>
<path d="M233.5 270.2 259.8 269.3 289.9 267.3 289.9 234.6 254.5 256.2 233.7 269.8 233.5 269.8 233.5 268.5 235.9 263.1 238.7 258 242.6 252.2 251.6 240.4 263.1 227.4 277.1 213.3 234.7 213.3 233.5 245.8 233 269.4 233 270.2ZM233.5 270.4 241.9 270.7 257.9 272.4 273.6 274.7 289.9 277.6 289.9 317.6 272.6 300.4 256.6 286 249.4 280.3 242.8 275.5 237.4 272.2 234.4 270.7 233.5 270.6 233.1 270.3ZM232.6 269.8 232.5 267.7 232 266.2 228.7 259.3 224.4 252.8 218.2 245.2 212.4 239.1 205.3 232.2 193.8 222.2 182.5 213.3 183.3 213.3 227.2 213.3 229.7 231.5 231.6 247.9 232.5 259.5 233 269.8 233 270.2ZM232.5 270.3 176.1 270.3 176.1 299.8 176.6 299.5 232.5 270.6 232.9 270.3Z" fill="#6fb28a"/>
<path d="M233.5 270.2 259.8 269.3 289.9 267.3 289.9 247.6 256.6 261.6 241.7 267.4 234.6 269.8 233.4 269.8 233.5 267 235.3 261.2 236.8 256.8 239.7 250.7 246.4 239.1 254.5 227.4 265.8 213.3 234.7 213.3 233.5 245.8 233 269.4 233 270.2ZM233.5 270.4 241.9 270.7 257.9 272.4 273.6 274.7 289.9 277.6 289.7 311.4 271.5 295.6 256.8 284.1 243.2 275 237.9 272.2 234.6 270.7 233.5 270.6 233.1 270.3ZM232.6 269.8 232.5 267.5 232 265.9 229.2 259.4 224.9 252.3 220.1 245.9 214.4 239.1 207.7 232 198.6 223.3 187.1 213.3 187.6 213.3 227.2 213.3 229.7 231.5 231.6 247.9 232.5 259.5 233 269.8 233 270.1ZM232.5 270.3 176.1 270.3 176.1 294.4 176.6 294.2 232.5 270.6 232.9 270.3Z" fill="#77b580"/>
<path d="M233.5 270.2 259.8 269.3 289.9 267.3 289.9 249.9 256.6 262.6 235 269.8 233.4 269.8 233.5 266.6 234.4 262.6 238.3 251.9 244 240.1 251.6 227.1 261 213.3 234.7 213.3 233.5 245.8 233 269.4 233 270.2ZM233.5 270.4 241.9 270.7 257.9 272.4 273.6 274.7 289.9 277.6 289.7 307.5 272.2 293.7 256.6 282.7 243.2 274.6 237.2 271.7 234.8 270.7 233.5 270.6 233.1 270.3ZM232.6 269.8 232.5 267.4 232 265.7 229.7 259.7 226.3 253.5 221.5 246.2 215.8 238.6 210 231.9 201.4 222.8 191.7 213.3 192.4 213.3 227.2 213.3 229.7 231.5 231.6 247.9 232.5 259.5 233 269.8 233 270.1ZM232.5 270.3 176.1 270.3 176.1 290.1 176.6 290 232.5 270.6 232.8 270.3Z" fill="#7fb875"/>
<path d="M233.5 270.2 259.8 269.3 289.9 267.3 289.9 252.1 258 263.1 235.3 269.8 233.4 269.8 233.5 266.2 233.9 264 236.8 253.8 242.1 240.6 248.8 227.1 256.6 213.3 234.7 213.3 233.5 245.8 233 269.4 233 270.1ZM233.5 270.4 241.9 270.7 257.9 272.4 273.6 274.7 289.9 277.6 289.9 304.1 289.4 303.7 272.7 291.8 257.1 281.7 243.1 274.1 237.7 271.7 235 270.7 233.5 270.6 233.1 270.3ZM232.6 269.8 232.5 267.1 230.1 260.1 226.8 253.2 222.5 245.9 213.4 233.3 204.8 223 195.9 213.3 196.7 213.3 227.2 213.3 229.7 231.5 231.6 247.9 232.5 259.5 233 269.8 233 270.1ZM232.5 270.3 176.1 270.3 176.1 286 218.9 274.1 232.5 270.6 232.8 270.3Z" fill="#88bb6d"/>
<path d="M233.5 270.2 259.8 269.3 289.9 267.3 289.9 254.3 258.1 264 235.7 269.8 233.3 269.8 233.5 265.9 235.7 255.4 239.7 242.9 245.4 228.5 252.6 213.3 234.7 213.3 233.5 245.8 233 269.4 233 270.1ZM233.5 270.4 241.9 270.7 257.9 272.4 273.6 274.7 289.9 277.6 289.9 300.7 289.4 300.4 272.5 289.4 256.8 280.3 243 273.6 236.7 271.2 233.5 270.6 233.2 270.3ZM232.7 269.8 232.5 266.9 230.6 260.5 227.7 253.8 223.9 246.5 215.3 233.1 208.1 223.5 199.7 213.3 200.5 213.3 227.2 213.3 229.7 231.5 231.6 247.9 232.5 259.5 233 269.8 233 270.1ZM232.5 270.3 176.1 270.3 176.1 282.1 176.6 282 218.5 273.1 232.5 270.5 232.8 270.3Z" fill="#92bb66"/>
<path d="M233.5 270.2 259.8 269.3 289.9 267.3 289.9 256.5 260 264.5 236.8 269.7 233.3 269.8 233.4 266.9 233.6 264 234.9 256.6 238.3 243.2 243 228.4 248.8 213.3 234.7 213.3 233.5 245.8 233 269.4 233 270.1ZM233.5 270.4 241.9 270.7 257.9 272.4 273.6 274.7 289.9 277.6 289.9 297.5 289.4 297.2 271.1 286.5 256.2 278.9 242.9 273.1 237.2 271.2 233.5 270.6 233.2 270.3ZM232.7 269.8 232.5 266.6 230.6 259.7 228.2 253.5 224.9 246.4 217.2 233.1 211 223.8 203.2 213.3 203.8 213.3 227.2 213.3 229.7 231 231.5 247.3 232.5 259.5 233 269.8 233 270.1ZM232.5 270.3 176.1 270.3 176.1 278.2 176.6 278.2 218.1 272.2 228.9 270.7 232 270.6 232.5 270.5 232.8 270.3Z" fill="#9bbc5e"/>
<path d="M233.5 270.2 259.8 269.3 289.9 267.3 289.9 258.5 266.6 264 245.6 268.3 236.9 269.8 233.5 269.9 233.4 268.8 233.5 263.8 234 260 236.8 244.3 240.7 229 245.4 213.3 234.7 213.3 233.5 245.8 233 269.4 233 270.1ZM233.5 270.4 241.9 270.7 257.9 272.4 273.6 274.7 289.9 277.6 289.9 294.6 289.4 294.3 273.8 286 257.5 278.4 244 273.1 237.7 271.2 233.5 270.6 233.2 270.3ZM232.7 269.8 232.5 266.4 230.6 258.8 228.2 252.1 225.3 245.4 222 238.6 217.2 230 206.5 213.3 207.2 213.3 227.2 213.3 229.7 231 231.5 247.3 232.5 259.5 233 269.8 233 270.1ZM232.5 270.3 176.1 270.3 176.1 274.9 176.6 274.8 211.9 271.7 223 271.1 224.9 270.7 231.6 270.6 232.5 270.5 232.7 270.3Z" fill="#a5bd57"/>
<path d="M233.5 270.2 259.8 269.3 289.9 267.3 289.9 259.6 264.8 265 243.9 268.8 237.4 269.8 233.5 269.9 233.3 269.8 233.4 268.8 233.5 263.3 234 259.2 236.3 244.8 239.7 229.8 244.1 213.3 234.7 213.3 233.5 245.8 233 269.4 233 270ZM233.5 270.4 241.9 270.7 257.9 272.4 273.6 274.7 289.9 277.6 289.9 292.9 289.6 292.7 272.1 284.1 256.6 277.4 243.2 272.6 238.1 271.2ZM232.7 269.8 232.5 266.1 231.2 260.2 229.2 253.7 226.8 247.4 223.4 239.8 219.1 231.2 214.4 222.7 208.6 213.3 209.6 213.3 227.2 213.3 229.7 231 231.5 247.3 232.5 259.5 233 269.8 233 270.1ZM232.5 270.3 176.1 270.3 176.1 274.1 176.6 274.1 218.2 271.1 231.6 270.6Z" fill="#aebd51"/>
<path d="M233.5 270.2 259.8 269.3 289.9 267.3 289.9 260.6 267.8 265 248.2 268.3 237.9 269.8 233.5 269.9 233.2 269.8 233.3 269.3 233.5 262.7 235.8 245.9 238.7 230.8 242.9 213.3 234.7 213.3 233.5 245.8 233 269.4 233 270ZM233.5 270.4 241.9 270.7 257.9 272.4 273.6 274.7 289.9 277.6 289.9 291.2 289.4 291 272.3 283.2 256.9 276.9 243 272.4 236.2 270.7ZM232.7 269.8 232.5 265.9 231.6 261.2 229.7 254.3 227.3 247.3 223.9 239.1 220.1 230.8 210.7 213.3 211.5 213.3 227.2 213.3 229.7 231 231.5 246.8 232.5 259.5 233 269.8 233 270.1ZM232.5 270.3 176.1 270.3 176.1 273.5 176.6 273.5 218.2 270.9 231.6 270.6Z" fill="#b7bb4d"/>
<path d="M233.5 270.2 259.8 269.3 289.9 267.3 289.9 261.6 264.6 266.1 244 269.1 238.6 269.8 233.5 270 233.2 269.8 233.4 268.8 233.5 262 235.4 246.2 238.3 229.6 241.7 213.3 234.7 213.3 233.5 245.8 233 269.4 233 270ZM233.5 270.4 241.9 270.7 257.9 272.4 273.6 274.7 289.9 277.6 289.9 289.6 289.4 289.4 272.5 282.2 257.1 276.5 242.9 272.2 236.5 270.7ZM232.7 269.8 232.5 265.6 231.6 260.6 227.7 247.2 224.9 239.4 221 230.4 212.7 213.3 213.4 213.3 227.2 213.3 229.7 231 231.5 246.8 232.5 259.5 233 269.8ZM232.5 270.3 176.1 270.3 176.1 272.9 176.6 272.9 219.9 270.7 231.1 270.6Z" fill="#c0ba49"/>
<path d="M233.5 270.2 259.8 269.3 289.9 267.3 289.9 262.7 256.9 267.7 239.5 269.8 234 269.9 233.5 270 233.2 270.2ZM233.2 269.8 233.5 261.1 234.5 250.6 237.1 232.5 240.5 213.3 239.7 213.3 234.7 213.3 233.5 245.8ZM233.5 270.4 241.9 270.7 257.9 272.4 273.6 274.7 289.9 277.6 289.9 288 289.7 287.9 272.7 281.2 256.9 275.8 243.7 272.2 236.8 270.7ZM232.7 269.8 232.5 265.2 231.6 259.9 228.2 247.1 222.5 231.1 214.6 213.3 215.3 213.3 227.2 213.3 229.7 231 231.5 246.8 232.5 259.5 233 269.8ZM232.5 270.3 176.1 270.3 176.1 272.3 176.6 272.3 216.4 270.7 231.1 270.5Z" fill="#c9b844"/>
<path d="M233.5 270.2 259.8 269.3 289.9 267.3 289.9 263.6 259.1 267.9 240.6 269.8 234 269.9 233.5 270 233.2 270.2ZM233.1 269.8 233.5 260 234.4 249 236.3 232.9 239.3 213.3 238.7 213.3 234.7 213.3 233.5 245.8ZM233.5 270.4 241.9 270.7 257.9 272.4 273.6 274.7 289.9 277.6 289.9 286.5 289.4 286.4 272.8 280.3 256 275 242.4 271.7ZM232.7 269.8 232 261.8 229.2 248.8 223.9 232.1 216.4 213.3 217.2 213.3 227.2 213.3 229.7 231 231.5 246.8 232.5 259.5 233 269.8ZM232.5 270.3 176.1 270.3 176.1 271.7 176.6 271.7 210.1 270.7 230.6 270.5Z" fill="#d1b640"/>
<path d="M233.5 270.2 259.8 269.3 289.9 267.3 289.9 264.1 256.4 268.3 241.2 269.8 234 269.9ZM233.1 269.8 233.5 259.2 234.7 244.4 238.6 213.3 237.8 213.3 234.7 213.3 233.5 245.8ZM233.5 270.4 241.9 270.7 257.9 272.4 273.6 274.7 289.9 277.6 289.9 285.6 289.7 285.6 273.1 279.8 257.1 275 242.9 271.7ZM232.8 269.8 232 261.3 229.2 247.8 224.4 231.7 217.5 213.3 218.2 213.3 227.2 213.3 229.7 231 231.5 246.8 232.5 259.5 233 269.8ZM232.5 270.3 176.1 270.3 176.1 271.5 176.6 271.5Z" fill="#d5b03f"/>
<path d="M233.5 270.2 259.8 269.3 289.9 267.3 289.9 264.5 257.8 268.3 241.8 269.8 234 269.9ZM233.1 269.8 233.3 268.3 233.5 258.2 234.4 245.2 237.9 213.3 237.3 213.3 234.7 213.3 233.5 245.8ZM233.5 270.4 241.9 270.7 257.9 272.4 273.6 274.7 289.9 277.6 289.9 284.8 289.4 284.6 271.8 278.9 256.9 274.7 243.4 271.7ZM232.8 269.8 232 260.9 229.2 246.8 224.9 231.4 218.6 213.3 219.1 213.3 227.2 213.3 229.7 231 231.4 246.3 232.5 259.5 233 269.8ZM232.5 270.3 176.1 270.3 176.1 271.4 176.6 271.4Z" fill="#daaa3d"/>
<path d="M233.5 270.2 259.8 269.3 289.9 267.3 289.9 264.9 257.9 268.5 242.5 269.8 234 270ZM233 269.8 233.3 268.8 233.5 257 234.3 244.9 237.3 213.3 236.3 213.3 234.7 213.3 233.5 245.8ZM233.5 270.4 241.9 270.7 257.9 272.4 273.6 274.7 289.9 277.6 289.9 284 289.4 283.8 273.6 278.9 257.5 274.6 244 271.7ZM232.8 269.8 232 260.4 229.9 248.7 225.6 232 219.6 213.3 220.6 213.3 227.2 213.3 229.7 231 231.4 246.3 232.5 259.5 233 269.8ZM232.5 270.3 176.1 270.3 176.1 271.3 176.6 271.2Z" fill="#dfa33b"/>
<path d="M233.5 270.2 259.8 269.3 289.9 267.3 289.9 265.3 257.9 268.6 243.3 269.8 234 270ZM233.2 269.3 234 246.7 236.6 213.3 235.9 213.3 234.7 213.3 233.5 245.8 233 269.4 233 269.8ZM233.5 270.4 241.9 270.7 257.9 272.4 273.6 274.7 289.9 277.6 289.9 283.1 289.4 283 272.1 277.9 256.7 274.1 241.7 271.2ZM232.8 269.8 232 259.9 230.1 248.8 226.2 232 220.6 213.3 221.5 213.3 227.2 213.3 229.7 231 231.4 246.3 232.5 259.5ZM232 270.3 176.1 270.3 176.1 271.1 176.6 271.1Z" fill="#e39d39"/>
<path d="M233.5 270.2 259.8 269.3 289.9 267.3 289.9 265.6 257.7 268.8 244.3 269.8 234 270ZM233.2 269.3 234 243.2 235.9 213.3 235.4 213.3 234.7 213.3 234 231.6ZM233.5 270.4 241.9 270.7 257.9 272.4 273.6 274.7 289.9 277.6 289.9 282.3 289.6 282.2 274.1 277.9 258 274.1 242.3 271.2ZM232.8 269.8 232.5 263.4 230.6 250.1 226.8 232.2 221.6 213.3 222.5 213.3 227.2 213.3 229.7 231 231.4 246.3 232.5 259.5ZM232 270.3 176.1 270.3 176.1 271 176.6 271Z" fill="#e49237"/>
<path d="M233.5 270.2 259.8 269.3 289.9 267.3 289.9 265.9 258.9 268.8 244.9 269.8 234.4 270ZM233.2 269.3 233.5 252.3 235.7 213.3 234.9 213.3 234.7 213.3 234.6 215.3 233.5 245.8ZM233.5 270.4 241.9 270.7 257.9 272.4 273.6 274.7 289.9 277.6 289.9 281.7 289.4 281.5 272 276.9 256.8 273.6 242.8 271.2ZM232.8 269.8 232.1 259.3 230.3 247.3 227 231.5 222.4 213.3 223 213.3 227.2 213.3 229.7 231 231.4 246.3 232.5 259.5ZM232 270.3 176.1 270.3 176.1 270.8 176.6 270.8Z" fill="#e48634"/>
<path d="M233.5 270.2 259.8 269.3 287 267.6 289.9 267.3 289.9 266.1 260 268.8 245.4 269.8 234.4 270ZM233.2 269.3 233.5 251.6 235.6 213.3 234.9 213.3 234.7 213.3 234.6 215.3 233.5 245.8ZM233.5 270.4 241.9 270.7 256.9 272.3 272.2 274.5 289 277.4 289.9 277.6 289.9 281 289.4 280.9 273.6 276.9 257.4 273.5 243.3 271.2ZM232.8 269.8 232.5 262.7 230.8 249.2 227.6 232 223.1 213.3 223.9 213.3 227.2 213.3 229.7 231 231.4 246.3 232.5 259.5ZM232 270.3 176.1 270.3 176.1 270.7 176.6 270.7Z" fill="#e47932"/>
<path d="M233.5 270.2 249.8 269.8 280.3 268 289.9 267.3 289.9 266.3 261.2 268.8ZM233.1 269.3 233.5 250.7 235.4 213.3 234.9 213.3 234.7 213.3 234.6 215.3 233.5 245.8ZM233.5 270.4 241.9 270.7 254.5 272 267.9 273.8 282.7 276.3 289.9 277.6 289.9 280.4 289.4 280.3 273.3 276.5 256.9 273.2 243.8 271.2ZM232.9 269.8 232.5 262.3 230.8 248.3 227.9 231.5 223.9 213.3 224.4 213.3 227.2 213.3 227.5 215.7 231.5 246.8 232.5 259.5ZM231.6 270.3 176.1 270.3 176.1 270.5 176.6 270.5Z" fill="#e46d2f"/>
<path d="M233.5 270.2 249.8 269.8 275.9 268.3 289.9 267.3 289.9 266.6 255.3 269.3ZM233.1 269.3 233.5 249.9 235.3 213.3 234.7 213.3 233.5 245.8ZM233.5 270.4 241.9 270.7 251.8 271.7 276 275.1 289.9 277.6 289.9 279.8 273.6 276.2 257.6 273.1 244.4 271.2ZM232.9 269.8 232.5 261.8 231.1 249.1 228.4 232 224.6 213.3 225.3 213.3 227.2 213.3 229.2 227.7 232 253.2ZM230.1 270.3 176.6 270.4Z" fill="#e25d2d"/>
<path d="M233.5 270.2 249.8 269.8 271.3 268.6 289.9 267.3 289.9 266.8 256.4 269.3ZM233.1 269.3 233.5 248.8 235.1 213.3 234.7 213.3 233.5 245.8ZM233.5 270.4 249.3 271.4 270.8 274.3 289.9 277.6 289.9 279.2 289.4 279.1 274.8 276 258.9 273.1 245.1 271.2ZM232.9 269.8 232.5 261.3 231.1 247.8 228.7 231.7 225.3 213.3 225.8 213.3 227.2 213.3 229.8 232.5 232 253.2Z" fill="#e04c29"/>
<path d="M233.5 270.2 268.3 268.8 289.9 267.3 289.9 267 257.5 269.3ZM233.1 269.3 233.5 247.9 235 213.3 234.7 213.3 233.5 245.8ZM233.5 270.4 247.3 271.2 266.4 273.6 289.9 277.6 289.9 278.7 289.4 278.6 271.6 275 257 272.6 241 270.7ZM232.9 269.8 232.5 260.8 231.1 246.4 228.8 230.1 225.9 213.3 226.8 213.3 227.2 213.3 228.1 219.6 231 242 232.5 259.5Z" fill="#de3b26"/>
<path d="M233.5 270.2 259.8 269.3 289.9 267.2 258.6 269.3ZM233.1 269.3 233.5 246.9 234.7 213.8 233.5 245.8ZM233.5 270.4 247.3 271.2 261.7 272.9 286.4 276.9 289.9 277.6 289.9 278.1 289.4 278 273.4 275 258.2 272.6 241.4 270.7ZM232.9 269.8 232.5 260.2 231.6 249.4 229.4 232 226.5 213.3 227.2 213.3 231.3 244.9 232.5 259.5Z" fill="#dc2a23"/>
<path d="M236.7 270.2 238.5 269.3 240.3 270.1 242 269.2 243.9 270 245.6 269.1 247.5 269.9 249.2 268.9 251 269.7 252.8 268.8 254.6 269.6 256.4 268.7 258.2 269.5 260 268.5 261.8 269.3 263.6 268.4 265.4 269.2 267.1 268.3 269 269.1 270.7 268.1 272.5 268.9 274.3 268 276.1 268.8 277.9 267.9 279.7 268.7 281.5 267.7 283.3 268.5 285.1 267.6 286.9 268.4 288.6 267.5 290.5 268.3 290.5 277.9 288.5 278.1 286.8 277.2 284.9 277.5 283.2 276.5 281.3 276.8 279.6 275.9 277.7 276.1 276 275.2 274 275.4 272.3 274.5 270.4 274.7 268.7 273.8 266.8 274 265.1 273.1 263.2 273.3 261.4 272.4 259.6 272.7 257.9 272.1 256.1 272.4 254.4 271.8 252.6 272.1 250.8 271.6 249 271.9 247.3 271.3 245.5 271.6 243.8 271 242 271.3 240.2 270.7 238.4 271 236.7 270.5Z" fill="#e48835" stroke="#e48835" stroke-width="3.4" stroke-linejoin="round" stroke-opacity="0.55"/>
<path d="M236.7 270.2 238.5 269.3 240.3 270.1 242 269.2 243.9 270 245.6 269.1 247.5 269.9 249.2 268.9 251 269.7 252.8 268.8 254.6 269.6 256.4 268.7 258.2 269.5 260 268.5 261.8 269.3 263.6 268.4 265.4 269.2 267.1 268.3 269 269.1 270.7 268.1 272.5 268.9 274.3 268 276.1 268.8 277.9 267.9 279.7 268.7 281.5 267.7 283.3 268.5 285.1 267.6 286.9 268.4 288.6 267.5 290.5 268.3 290.5 277.9 288.5 278.1 286.8 277.2 284.9 277.5 283.2 276.5 281.3 276.8 279.6 275.9 277.7 276.1 276 275.2 274 275.4 272.3 274.5 270.4 274.7 268.7 273.8 266.8 274 265.1 273.1 263.2 273.3 261.4 272.4 259.6 272.7 257.9 272.1 256.1 272.4 254.4 271.8 252.6 272.1 250.8 271.6 249 271.9 247.3 271.3 245.5 271.6 243.8 271 242 271.3 240.2 270.7 238.4 271 236.7 270.5Z" fill="#fff" stroke="#dd3726" stroke-width="1.5" stroke-linejoin="round"/>
<path d="M236.7 270.2 238.5 269.3 240.3 270.1 242 269.2 243.9 270 245.6 269.1 247.5 269.9 249.2 268.9 251 269.7 252.8 268.8 254.6 269.6 256.4 268.7 258.2 269.5 260 268.5 261.8 269.3 263.6 268.4 265.4 269.2 267.1 268.3 269 269.1 270.7 268.1 272.5 268.9 274.3 268 276.1 268.8 277.9 267.9 279.7 268.7 281.5 267.7 283.3 268.5 285.1 267.6 286.9 268.4 288.6 267.5 290.5 268.3 290.5 277.9 288.5 278.1 286.8 277.2 284.9 277.5 283.2 276.5 281.3 276.8 279.6 275.9 277.7 276.1 276 275.2 274 275.4 272.3 274.5 270.4 274.7 268.7 273.8 266.8 274 265.1 273.1 263.2 273.3 261.4 272.4 259.6 272.7 257.9 272.1 256.1 272.4 254.4 271.8 252.6 272.1 250.8 271.6 249 271.9 247.3 271.3 245.5 271.6 243.8 271 242 271.3 240.2 270.7 238.4 271 236.7 270.5Z" fill="#fff"/>
<path d="M232.7 241.8 233.4 240 232.9 238.2 233.7 236.4 233.2 234.5 233.9 232.8 233.4 230.9 234.2 229.1 233.7 227.3 234.4 225.5 233.9 223.7 234.7 221.9 234.2 220 234.9 218.3 234.5 216.4 235.2 214.6 234.7 212.8 229.4 212.8 229 214.7 229.8 216.4 229.4 218.3 230.2 220 229.7 221.9 230.5 223.7 230.1 225.5 230.9 227.3 230.5 229.2 231.3 230.9 230.8 232.8 231.6 234.5 231.2 236.4 232 238.2 231.6 240 232.4 241.8Z" fill="#e48835" stroke="#e48835" stroke-width="3.4" stroke-linejoin="round" stroke-opacity="0.55"/>
<path d="M232.7 241.8 233.4 240 232.9 238.2 233.7 236.4 233.2 234.5 233.9 232.8 233.4 230.9 234.2 229.1 233.7 227.3 234.4 225.5 233.9 223.7 234.7 221.9 234.2 220 234.9 218.3 234.5 216.4 235.2 214.6 234.7 212.8 229.4 212.8 229 214.7 229.8 216.4 229.4 218.3 230.2 220 229.7 221.9 230.5 223.7 230.1 225.5 230.9 227.3 230.5 229.2 231.3 230.9 230.8 232.8 231.6 234.5 231.2 236.4 232 238.2 231.6 240 232.4 241.8Z" fill="#fff" stroke="#dd3726" stroke-width="1.5" stroke-linejoin="round"/>
<path d="M232.7 241.8 233.4 240 232.9 238.2 233.7 236.4 233.2 234.5 233.9 232.8 233.4 230.9 234.2 229.1 233.7 227.3 234.4 225.5 233.9 223.7 234.7 221.9 234.2 220 234.9 218.3 234.5 216.4 235.2 214.6 234.7 212.8 229.4 212.8 229 214.7 229.8 216.4 229.4 218.3 230.2 220 229.7 221.9 230.5 223.7 230.1 225.5 230.9 227.3 230.5 229.2 231.3 230.9 230.8 232.8 231.6 234.5 231.2 236.4 232 238.2 231.6 240 232.4 241.8Z" fill="#fff"/>
<path d="M175.5 271.4 177.3 269.1 179 271.4 180.8 269.1 182.5 271.4 184.3 269.1 186 271.4 187.8 269.1 189.5 271.4 191.3 269.1 193 271.4 194.8 269.1 196.5 271.4 198.3 269.1 200 271.4 201.7 269.1 203.5 271.4 205.2 269.1 207 271.4 208.7 269.1 210.5 271.4 212.2 269.1 214 271.4 215.7 269.1 217.5 271.4 219.2 269.1 221 271.4 222.7 269.1 224.5 271.4" fill="none" stroke="#dca73c" stroke-width="2.7" stroke-opacity="0.55" stroke-linejoin="round"/>
<path d="M175.5 271.4 177.3 269.1 179 271.4 180.8 269.1 182.5 271.4 184.3 269.1 186 271.4 187.8 269.1 189.5 271.4 191.3 269.1 193 271.4 194.8 269.1 196.5 271.4 198.3 269.1 200 271.4 201.7 269.1 203.5 271.4 205.2 269.1 207 271.4 208.7 269.1 210.5 271.4 212.2 269.1 214 271.4 215.7 269.1 217.5 271.4 219.2 269.1 221 271.4 222.7 269.1 224.5 271.4" fill="none" stroke="#e46f30" stroke-width="1.1" stroke-linejoin="round"/>
<path d="M224.5 271.4 226.4 269.3 228.4 271.2 230.4 269.2 232.4 271.1" fill="none" stroke="#c9b844" stroke-width="1.6" stroke-opacity="0.8" stroke-linejoin="round"/>
<path d="M232.6 241.8 233.7 243.6 232.6 245.4 233.8 247.1 232.7 248.9 233.9 250.7 232.8 252.5 234 254.2 232.9 256" fill="none" stroke="#dd3726" stroke-width="1.6" stroke-linejoin="round" stroke-opacity="0.9"/>
<path d="M232.9 256 234 257.7 232.9 259.4 234 261 232.9 262.7 234.1 264.4 233 266.1 234.1 267.7 233 269.4" fill="none" stroke="#d0b641" stroke-width="1.4" stroke-linejoin="round" stroke-opacity="0.8"/>
<path d="M233.0 270.25V327.15" stroke="#6fb28a" stroke-width="2" stroke-dasharray="1.7 1.1" stroke-opacity="0.9"/>
</g>
<rect x="174.1" y="211.5" width="117.8" height="117.6" fill="none" stroke="#a8a8a8" stroke-width="0.5"/>
<path d="M176.1 329.1v-2M176.1 211.5v2M204.6 329.1v-2M204.6 211.5v2M233.0 329.1v-2M233.0 211.5v2M261.4 329.1v-2M261.4 211.5v2M289.9 329.1v-2M289.9 211.5v2M174.1 327.1h2M291.9 327.1h-2M174.1 298.7h2M291.9 298.7h-2M174.1 270.2h2M291.9 270.2h-2M174.1 241.8h2M291.9 241.8h-2M174.1 213.3h2M291.9 213.3h-2M183.2 329.1v-1.2M183.2 211.5v1.2M190.3 329.1v-1.2M190.3 211.5v1.2M197.4 329.1v-1.2M197.4 211.5v1.2M211.7 329.1v-1.2M211.7 211.5v1.2M218.8 329.1v-1.2M218.8 211.5v1.2M225.9 329.1v-1.2M225.9 211.5v1.2M240.1 329.1v-1.2M240.1 211.5v1.2M247.2 329.1v-1.2M247.2 211.5v1.2M254.3 329.1v-1.2M254.3 211.5v1.2M268.6 329.1v-1.2M268.6 211.5v1.2M275.7 329.1v-1.2M275.7 211.5v1.2M282.8 329.1v-1.2M282.8 211.5v1.2M174.1 320.0h1.2M291.9 320.0h-1.2M174.1 312.9h1.2M291.9 312.9h-1.2M174.1 305.8h1.2M291.9 305.8h-1.2M174.1 291.6h1.2M291.9 291.6h-1.2M174.1 284.5h1.2M291.9 284.5h-1.2M174.1 277.4h1.2M291.9 277.4h-1.2M174.1 263.1h1.2M291.9 263.1h-1.2M174.1 256.0h1.2M291.9 256.0h-1.2M174.1 248.9h1.2M291.9 248.9h-1.2M174.1 234.7h1.2M291.9 234.7h-1.2M174.1 227.6h1.2M291.9 227.6h-1.2M174.1 220.5h1.2M291.9 220.5h-1.2" stroke="#a8a8a8" stroke-width="0.4" fill="none"/>
<text x="175.7" y="340.6" font-size="9.5" text-anchor="middle" font-weight="bold" >−2</text>
<text x="204.2" y="340.6" font-size="9.5" text-anchor="middle" font-weight="bold" >−1</text>
<text x="233.0" y="340.6" font-size="9.5" text-anchor="middle" font-weight="bold" >0</text>
<text x="261.4" y="340.6" font-size="9.5" text-anchor="middle" font-weight="bold" >1</text>
<text x="289.9" y="340.6" font-size="9.5" text-anchor="middle" font-weight="bold" >2</text>
<text x="172.2" y="331.5" font-size="9.5" text-anchor="end" font-weight="bold" >−2</text>
<text x="172.2" y="303.1" font-size="9.5" text-anchor="end" font-weight="bold" >−1</text>
<text x="172.2" y="274.6" font-size="9.5" text-anchor="end" font-weight="bold" >0</text>
<text x="172.2" y="246.2" font-size="9.5" text-anchor="end" font-weight="bold" >1</text>
<text x="172.2" y="217.8" font-size="9.5" text-anchor="end" font-weight="bold" >2</text>
<text x="233.0" y="358.2" font-size="14.5" text-anchor="middle" font-weight="bold" >x</text>
<text transform="translate(153.4,270.3) rotate(-90)" font-size="14.5" text-anchor="middle" font-weight="bold">t</text>
<linearGradient id="gD" x1="0" y1="0" x2="0" y2="1"><stop offset="0.000" stop-color="#db2122"/><stop offset="0.043" stop-color="#df4127"/><stop offset="0.087" stop-color="#e2602d"/><stop offset="0.130" stop-color="#e47932"/><stop offset="0.174" stop-color="#e48f36"/><stop offset="0.217" stop-color="#e0a13a"/><stop offset="0.261" stop-color="#d8ac3e"/><stop offset="0.304" stop-color="#cfb741"/><stop offset="0.348" stop-color="#bfba49"/><stop offset="0.391" stop-color="#afbd51"/><stop offset="0.435" stop-color="#9ebc5d"/><stop offset="0.478" stop-color="#8cbb6a"/><stop offset="0.522" stop-color="#7cb77a"/><stop offset="0.565" stop-color="#6db18c"/><stop offset="0.609" stop-color="#5faa9e"/><stop offset="0.652" stop-color="#569eae"/><stop offset="0.696" stop-color="#4c92be"/><stop offset="0.739" stop-color="#4680c6"/><stop offset="0.783" stop-color="#416dcc"/><stop offset="0.826" stop-color="#4157c9"/><stop offset="0.870" stop-color="#443fc0"/><stop offset="0.913" stop-color="#4d2cb3"/><stop offset="0.957" stop-color="#62249d"/><stop offset="1.000" stop-color="#781c86"/></linearGradient>
<rect x="298.6" y="239.3" width="6.4" height="84.5" fill="url(#gD)"/>
<text x="308.0" y="248.5" font-size="10.4" text-anchor="start" font-weight="bold" >0.4</text>
<text x="308.0" y="269.1" font-size="10.4" text-anchor="start" font-weight="bold" >0.3</text>
<text x="308.0" y="289.6" font-size="10.4" text-anchor="start" font-weight="bold" >0.2</text>
<text x="308.0" y="310.2" font-size="10.4" text-anchor="start" font-weight="bold" >0.1</text>
<path d="M305 244.8h2M305 265.4h2M305 285.9h2M305 306.5h2" stroke="#7f7f7f" stroke-width="0.4"/>
<circle cx="449.4" cy="278.3" r="19.7" fill="none" stroke="#cdcdcd" stroke-width="0.5"/>
<circle cx="449.4" cy="278.3" r="39.4" fill="none" stroke="#cdcdcd" stroke-width="0.5"/>
<circle cx="449.4" cy="278.3" r="59.0" fill="none" stroke="#cdcdcd" stroke-width="0.5"/>
<circle cx="449.4" cy="278.3" r="78.7" fill="none" stroke="#cdcdcd" stroke-width="0.5"/>
<path d="M447.2 260.0 446.0 260.1 444.7 260.2 443.5 260.5 442.3 260.8" stroke="#711e8e" stroke-width="0.8" fill="none" stroke-linecap="round"/>
<path d="M442.3 260.8 441.1 261.3 440.0 261.8 438.9 262.3 437.8 263.0" stroke="#692196" stroke-width="0.8" fill="none" stroke-linecap="round"/>
<path d="M437.8 263.0 436.7 263.7 435.7 264.5 434.7 265.4 433.8 266.3" stroke="#62249e" stroke-width="0.8" fill="none" stroke-linecap="round"/>
<path d="M433.8 266.3 433.0 267.3 432.2 268.4 431.5 269.5 430.8 270.6" stroke="#5a27a5" stroke-width="0.8" fill="none" stroke-linecap="round"/>
<path d="M430.8 270.6 430.2 271.9 429.7 273.1 429.3 274.4 429.0 275.7" stroke="#522aad" stroke-width="0.8" fill="none" stroke-linecap="round"/>
<path d="M429.0 275.7 428.7 277.1 428.6 278.4 428.5 279.8 428.5 281.2" stroke="#4a2db5" stroke-width="0.8" fill="none" stroke-linecap="round"/>
<path d="M428.5 281.2 428.7 282.6 428.9 284.0 429.2 285.4 429.6 286.8" stroke="#4632bb" stroke-width="0.8" fill="none" stroke-linecap="round"/>
<path d="M429.6 286.8 430.0 288.1 430.6 289.5 431.3 290.8 432.0 292.0" stroke="#453abe" stroke-width="0.8" fill="none" stroke-linecap="round"/>
<path d="M432.0 292.0 432.9 293.3 433.8 294.4 434.8 295.5 435.9 296.6" stroke="#4443c2" stroke-width="0.8" fill="none" stroke-linecap="round"/>
<path d="M435.9 296.6 437.1 297.5 438.3 298.4 439.6 299.3 440.9 300.0" stroke="#434bc5" stroke-width="0.8" fill="none" stroke-linecap="round"/>
<path d="M440.9 300.0 442.4 300.7 443.8 301.2 445.3 301.7 446.9 302.0" stroke="#4254c8" stroke-width="0.8" fill="none" stroke-linecap="round"/>
<path d="M446.9 302.0 448.4 302.3 450.0 302.4 451.6 302.5 453.3 302.4" stroke="#415ccb" stroke-width="0.8" fill="none" stroke-linecap="round"/>
<path d="M453.3 302.4 454.9 302.3 456.5 302.0 458.1 301.6 459.7 301.1" stroke="#4064cf" stroke-width="0.8" fill="none" stroke-linecap="round"/>
<path d="M459.7 301.1 461.2 300.5 462.7 299.8 464.2 298.9 465.6 298.0" stroke="#416bcd" stroke-width="0.8" fill="none" stroke-linecap="round"/>
<path d="M465.6 298.0 467.0 297.0 468.3 295.9 469.5 294.7 470.7 293.4" stroke="#4372cb" stroke-width="0.8" fill="none" stroke-linecap="round"/>
<path d="M470.7 293.4 471.7 292.0 472.7 290.6 473.6 289.1 474.4 287.5" stroke="#4579c8" stroke-width="0.8" fill="none" stroke-linecap="round"/>
<path d="M474.4 287.5 475.1 285.9 475.7 284.2 476.2 282.4 476.5 280.7" stroke="#4680c6" stroke-width="0.8" fill="none" stroke-linecap="round"/>
<path d="M476.5 280.7 476.7 278.9 476.9 277.1 476.9 275.2 476.7 273.4" stroke="#4886c4" stroke-width="0.8" fill="none" stroke-linecap="round"/>
<path d="M476.7 273.4 476.5 271.6 476.1 269.7 475.6 267.9 475.0 266.2" stroke="#4a8dc1" stroke-width="0.8" fill="none" stroke-linecap="round"/>
<path d="M475.0 266.2 474.3 264.4 473.4 262.7 472.4 261.1 471.4 259.5" stroke="#4c93be" stroke-width="0.8" fill="none" stroke-linecap="round"/>
<path d="M471.4 259.5 470.2 258.0 468.9 256.6 467.5 255.2 466.0 254.0" stroke="#5097b8" stroke-width="0.8" fill="none" stroke-linecap="round"/>
<path d="M466.0 254.0 464.4 252.8 462.8 251.7 461.0 250.7 459.2 249.9" stroke="#539bb2" stroke-width="0.8" fill="none" stroke-linecap="round"/>
<path d="M459.2 249.9 457.4 249.1 455.5 248.5 453.5 248.0 451.5 247.6" stroke="#569fad" stroke-width="0.8" fill="none" stroke-linecap="round"/>
<path d="M451.5 247.6 449.5 247.4 447.4 247.3 445.3 247.3 443.3 247.5" stroke="#5aa3a7" stroke-width="0.8" fill="none" stroke-linecap="round"/>
<path d="M443.3 247.5 441.2 247.7 439.1 248.2 437.0 248.7 435.0 249.4" stroke="#5da7a1" stroke-width="0.8" fill="none" stroke-linecap="round"/>
<path d="M435.0 249.4 433.0 250.2 431.1 251.2 429.2 252.3 427.4 253.5" stroke="#61ab9c" stroke-width="0.8" fill="none" stroke-linecap="round"/>
<path d="M427.4 253.5 425.6 254.9 424.0 256.4 422.4 258.0 420.9 259.7" stroke="#66ae95" stroke-width="0.8" fill="none" stroke-linecap="round"/>
<path d="M420.9 259.7 419.5 261.5 418.3 263.4 417.2 265.4 416.2 267.5" stroke="#6bb08f" stroke-width="0.8" fill="none" stroke-linecap="round"/>
<path d="M416.2 267.5 415.3 269.7 414.6 271.9 414.0 274.2 413.6 276.5" stroke="#70b288" stroke-width="0.8" fill="none" stroke-linecap="round"/>
<path d="M413.6 276.5 413.3 278.9 413.3 281.3 413.3 283.7 413.6 286.2" stroke="#75b482" stroke-width="0.8" fill="none" stroke-linecap="round"/>
<path d="M413.6 286.2 413.9 288.6 414.5 291.0 415.2 293.4 416.1 295.7" stroke="#7ab77b" stroke-width="0.8" fill="none" stroke-linecap="round"/>
<path d="M416.1 295.7 417.1 298.0 418.3 300.2 419.7 302.3 421.2 304.4" stroke="#80b975" stroke-width="0.8" fill="none" stroke-linecap="round"/>
<path d="M421.2 304.4 422.8 306.3 424.6 308.2 426.5 310.0 428.5 311.6" stroke="#85ba6f" stroke-width="0.8" fill="none" stroke-linecap="round"/>
<path d="M428.5 311.6 430.7 313.1 432.9 314.4 435.3 315.7 437.7 316.7" stroke="#8bbb6a" stroke-width="0.8" fill="none" stroke-linecap="round"/>
<path d="M437.7 316.7 440.3 317.6 442.8 318.3 445.5 318.9 448.2 319.3" stroke="#92bb66" stroke-width="0.8" fill="none" stroke-linecap="round"/>
<path d="M448.2 319.3 450.9 319.5 453.6 319.5 456.4 319.4 459.2 319.0" stroke="#98bc61" stroke-width="0.8" fill="none" stroke-linecap="round"/>
<path d="M459.2 319.0 461.9 318.5 464.6 317.8 467.3 316.9 469.9 315.8" stroke="#9ebc5c" stroke-width="0.8" fill="none" stroke-linecap="round"/>
<path d="M469.9 315.8 472.4 314.5 474.9 313.1 477.3 311.5 479.6 309.7" stroke="#a5bd58" stroke-width="0.8" fill="none" stroke-linecap="round"/>
<path d="M479.6 309.7 481.8 307.8 483.8 305.7 485.7 303.5 487.5 301.2" stroke="#abbd53" stroke-width="0.8" fill="none" stroke-linecap="round"/>
<path d="M487.5 301.2 489.1 298.7 490.6 296.1 491.9 293.4 493.0 290.6" stroke="#b0bd50" stroke-width="0.8" fill="none" stroke-linecap="round"/>
<path d="M493.0 290.6 493.9 287.8 494.7 284.8 495.2 281.8 495.6 278.8" stroke="#b6bb4d" stroke-width="0.8" fill="none" stroke-linecap="round"/>
<path d="M495.6 278.8 495.7 275.7 495.6 272.6 495.4 269.5 494.9 266.5" stroke="#bcba4b" stroke-width="0.8" fill="none" stroke-linecap="round"/>
<path d="M494.9 266.5 494.2 263.4 493.3 260.4 492.2 257.5 490.9 254.6" stroke="#c1b948" stroke-width="0.8" fill="none" stroke-linecap="round"/>
<path d="M490.9 254.6 489.4 251.8 487.7 249.0 485.9 246.4 483.8 243.9" stroke="#c7b845" stroke-width="0.8" fill="none" stroke-linecap="round"/>
<path d="M483.8 243.9 481.6 241.6 479.2 239.4 476.7 237.3 474.0 235.4" stroke="#cdb742" stroke-width="0.8" fill="none" stroke-linecap="round"/>
<path d="M474.0 235.4 471.2 233.7 468.3 232.1 465.3 230.8 462.2 229.6" stroke="#d1b540" stroke-width="0.8" fill="none" stroke-linecap="round"/>
<path d="M462.2 229.6 459.0 228.6 455.7 227.9 452.3 227.3 449.0 227.0" stroke="#d4b13f" stroke-width="0.8" fill="none" stroke-linecap="round"/>
<path d="M449.0 227.0 445.5 226.8 442.1 226.9 438.7 227.3 435.2 227.8" stroke="#d7ad3e" stroke-width="0.8" fill="none" stroke-linecap="round"/>
<path d="M435.2 227.8 431.8 228.6 428.4 229.6 425.1 230.8 421.9 232.2" stroke="#daa93d" stroke-width="0.8" fill="none" stroke-linecap="round"/>
<path d="M421.9 232.2 418.7 233.9 415.6 235.7 412.6 237.8 409.8 240.1" stroke="#dda53c" stroke-width="0.8" fill="none" stroke-linecap="round"/>
<path d="M409.8 240.1 407.1 242.6 404.5 245.3 402.2 248.1 400.0 251.2" stroke="#e0a23a" stroke-width="0.8" fill="none" stroke-linecap="round"/>
<path d="M400.0 251.2 398.0 254.4 396.2 257.7 394.6 261.2 393.3 264.7" stroke="#e39e39" stroke-width="0.8" fill="none" stroke-linecap="round"/>
<path d="M393.3 264.7 392.2 268.4 391.4 272.2 390.8 276.0 390.5 279.9" stroke="#e49738" stroke-width="0.8" fill="none" stroke-linecap="round"/>
<path d="M390.5 279.9 390.5 283.9 390.7 287.8 391.2 291.7 391.9 295.6" stroke="#e48f36" stroke-width="0.8" fill="none" stroke-linecap="round"/>
<path d="M391.9 295.6 392.9 299.5 394.2 303.3 395.8 307.0 397.6 310.6" stroke="#e48735" stroke-width="0.8" fill="none" stroke-linecap="round"/>
<path d="M397.6 310.6 399.6 314.2 401.9 317.5 404.4 320.8 407.1 323.8" stroke="#e47f33" stroke-width="0.8" fill="none" stroke-linecap="round"/>
<path d="M407.1 323.8 410.1 326.7 413.2 329.5 416.6 332.0 420.1 334.3" stroke="#e47731" stroke-width="0.8" fill="none" stroke-linecap="round"/>
<path d="M420.1 334.3 423.7 336.3 427.5 338.2 431.5 339.7 435.5 341.1" stroke="#e46f30" stroke-width="0.8" fill="none" stroke-linecap="round"/>
<path d="M435.5 341.1 439.6 342.2 443.9 343.0 448.1 343.5 452.5 343.8" stroke="#e3662e" stroke-width="0.8" fill="none" stroke-linecap="round"/>
<path d="M452.5 343.8 456.8 343.7 461.2 343.4 465.6 342.8 469.9 341.9" stroke="#e25b2c" stroke-width="0.8" fill="none" stroke-linecap="round"/>
<path d="M469.9 341.9 474.2 340.7 478.4 339.3 482.6 337.5 486.6 335.5" stroke="#e0502a" stroke-width="0.8" fill="none" stroke-linecap="round"/>
<path d="M486.6 335.5 490.6 333.2 494.4 330.6 498.0 327.8 501.4 324.7" stroke="#df4528" stroke-width="0.8" fill="none" stroke-linecap="round"/>
<path d="M501.4 324.7 504.7 321.4 507.8 317.9 510.6 314.1 513.2 310.2" stroke="#de3a26" stroke-width="0.8" fill="none" stroke-linecap="round"/>
<path d="M513.2 310.2 515.5 306.1 517.6 301.8 519.4 297.3 520.9 292.7" stroke="#dc2f24" stroke-width="0.8" fill="none" stroke-linecap="round"/>
<path d="M520.9 292.7 522.1 288.0 523.0 283.2 523.6 278.3" stroke="#db2622" stroke-width="0.8" fill="none" stroke-linecap="round"/>
<path d="M367.0 278.3H532.0M449.4 196.0V361.2" stroke="#6a6a6a" stroke-width="1.05" fill="none"/>
<path d="M370.7 278.3v-1.3M449.4 357.0h1.3M375.6 278.3v-2.0M449.4 352.1h2.0M380.5 278.3v-1.3M449.4 347.2h1.3M385.4 278.3v-1.3M449.4 342.3h1.3M390.4 278.3v-1.3M449.4 337.3h1.3M395.3 278.3v-1.3M449.4 332.4h1.3M400.2 278.3v-2.0M449.4 327.5h2.0M405.1 278.3v-1.3M449.4 322.6h1.3M410.0 278.3v-1.3M449.4 317.7h1.3M415.0 278.3v-1.3M449.4 312.7h1.3M419.9 278.3v-1.3M449.4 307.8h1.3M424.8 278.3v-2.0M449.4 302.9h2.0M429.7 278.3v-1.3M449.4 298.0h1.3M434.6 278.3v-1.3M449.4 293.1h1.3M439.6 278.3v-1.3M449.4 288.1h1.3M444.5 278.3v-1.3M449.4 283.2h1.3M454.3 278.3v-1.3M449.4 273.4h1.3M459.2 278.3v-1.3M449.4 268.5h1.3M464.2 278.3v-1.3M449.4 263.5h1.3M469.1 278.3v-1.3M449.4 258.6h1.3M474.0 278.3v-2.0M449.4 253.7h2.0M478.9 278.3v-1.3M449.4 248.8h1.3M483.8 278.3v-1.3M449.4 243.9h1.3M488.8 278.3v-1.3M449.4 238.9h1.3M493.7 278.3v-1.3M449.4 234.0h1.3M498.6 278.3v-2.0M449.4 229.1h2.0M503.5 278.3v-1.3M449.4 224.2h1.3M508.4 278.3v-1.3M449.4 219.3h1.3M513.4 278.3v-1.3M449.4 214.3h1.3M518.3 278.3v-1.3M449.4 209.4h1.3M523.2 278.3v-2.0M449.4 204.5h2.0M528.1 278.3v-1.3M449.4 199.6h1.3" stroke="#6a6a6a" stroke-width="0.5" fill="none"/>
<text x="375.1" y="291.3" font-size="11.8" text-anchor="middle" font-weight="bold" >−1.5</text>
<text x="400.0" y="291.3" font-size="11.8" text-anchor="middle" font-weight="bold" >−1.0</text>
<text x="424.4" y="291.3" font-size="11.8" text-anchor="middle" font-weight="bold" >−0.5</text>
<text x="474.2" y="291.3" font-size="11.8" text-anchor="middle" font-weight="bold" >0.5</text>
<text x="499.2" y="291.3" font-size="11.8" text-anchor="middle" font-weight="bold" >1.0</text>
<text x="524.0" y="291.3" font-size="11.8" text-anchor="middle" font-weight="bold" >1.5</text>
<text x="447.4" y="208.5" font-size="11.8" text-anchor="end" font-weight="bold" >1.5</text>
<text x="447.4" y="233.0" font-size="11.8" text-anchor="end" font-weight="bold" >1.0</text>
<text x="447.4" y="257.6" font-size="11.8" text-anchor="end" font-weight="bold" >0.5</text>
<text x="447.4" y="307.3" font-size="11.8" text-anchor="end" font-weight="bold" >−0.5</text>
<text x="447.4" y="332.4" font-size="11.8" text-anchor="end" font-weight="bold" >−1.0</text>
<text x="447.4" y="357.0" font-size="11.8" text-anchor="end" font-weight="bold" >−1.5</text>
<text x="540.8" y="284.5" font-size="17" text-anchor="middle" font-weight="bold" >x</text>
<text x="449.5" y="189.0" font-size="17" text-anchor="middle" font-weight="bold" >t</text>
<text x="14" y="174.6" style='font-family:"Liberation Serif", "DejaVu Serif", serif' font-size="13" font-weight="normal" textLength="67" lengthAdjust="spacing" fill="#1a1a1a">(a) 3D Plot</text>
<text x="266" y="174.6" style='font-family:"Liberation Serif", "DejaVu Serif", serif' font-size="13" font-weight="normal" textLength="67" lengthAdjust="spacing" fill="#1a1a1a">(b) 2D Plot</text>
<text x="503" y="174.6" style='font-family:"Liberation Serif", "DejaVu Serif", serif' font-size="13" font-weight="normal" textLength="96" lengthAdjust="spacing" fill="#1a1a1a">(c) Contour Plot</text>
<text x="142" y="391.6" style='font-family:"Liberation Serif", "DejaVu Serif", serif' font-size="13" font-weight="normal" textLength="94" lengthAdjust="spacing" fill="#1a1a1a">(d) Density Plot</text>
<text x="370" y="391.6" style='font-family:"Liberation Serif", "DejaVu Serif", serif' font-size="13" font-weight="normal" textLength="79" lengthAdjust="spacing" fill="#1a1a1a">(e) Polar Plot</text>
</svg></body></html>
